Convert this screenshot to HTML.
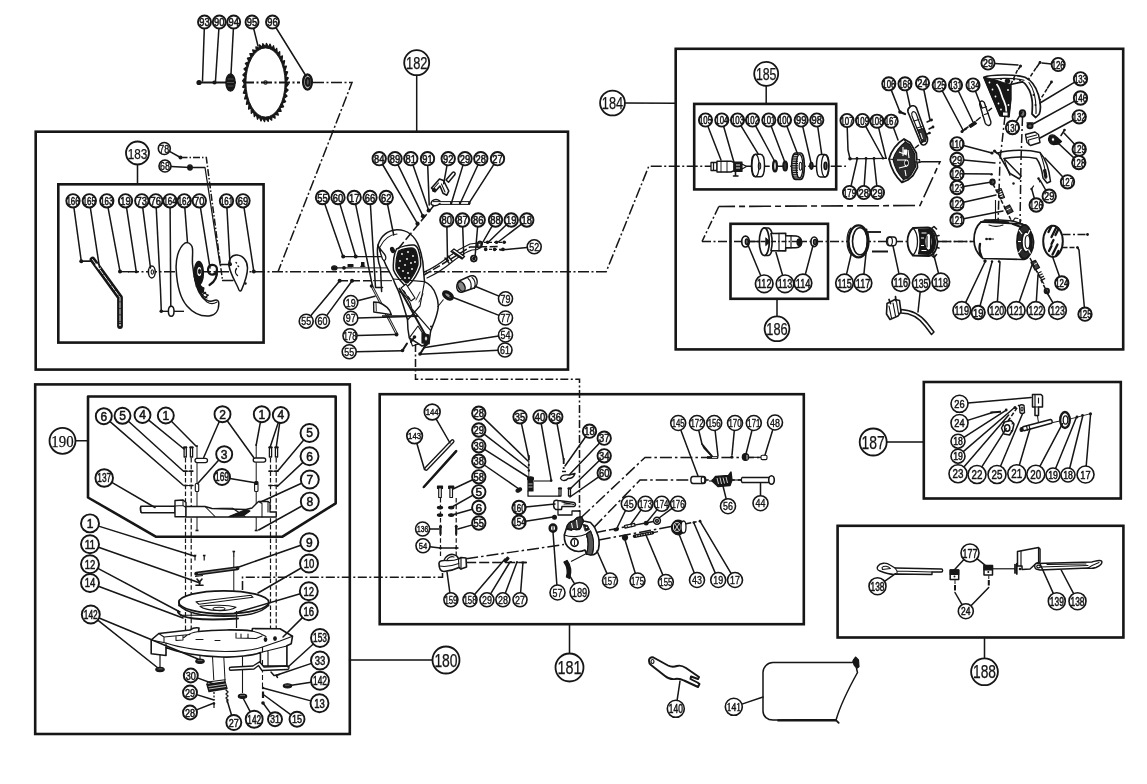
<!DOCTYPE html>
<html><head><meta charset="utf-8"><title>Exploded parts diagram</title>
<style>html,body{margin:0;padding:0;background:#fff;}body{width:1147px;height:784px;overflow:hidden;font-family:"Liberation Sans",sans-serif;}svg{display:block}</style>
</head><body>
<svg width="1147" height="784" viewBox="0 0 1147 784">
<defs><filter id="soft" x="0" y="0" width="100%" height="100%" filterUnits="userSpaceOnUse"><feGaussianBlur stdDeviation="0.45"/></filter></defs>
<rect width="100%" height="100%" fill="#fff"/>
<g filter="url(#soft)">
<rect x="35.7" y="131.7" width="532.3" height="237.90000000000003" fill="none" stroke="#141414" stroke-width="2.6"/>
<rect x="58.3" y="184.3" width="205.3" height="158.3" fill="none" stroke="#141414" stroke-width="2.6"/>
<rect x="675.7" y="48.8" width="447.5" height="300.59999999999997" fill="none" stroke="#141414" stroke-width="2.6"/>
<rect x="694.2" y="103.9" width="142.0" height="85.5" fill="none" stroke="#141414" stroke-width="2.6"/>
<rect x="730.5" y="223.8" width="97.5" height="75.0" fill="none" stroke="#141414" stroke-width="2.6"/>
<rect x="35.2" y="384.4" width="314.6" height="349.6" fill="none" stroke="#141414" stroke-width="2.6"/>
<rect x="379.7" y="394.2" width="424.09999999999997" height="230.00000000000006" fill="none" stroke="#141414" stroke-width="2.6"/>
<rect x="923.8" y="382" width="197.0" height="116.5" fill="none" stroke="#141414" stroke-width="2.6"/>
<rect x="837.6" y="525.8" width="285.80000000000007" height="111.70000000000005" fill="none" stroke="#141414" stroke-width="2.6"/>
<path d="M88.0,396.5 L335.7,396.5 L335.7,503.3 L282.1,536.8 L156.2,536.8 L88.0,497.5 Z" fill="none" stroke="#141414" stroke-width="2.5875" stroke-linejoin="round" stroke-linecap="round" />
<line x1="199.0" y1="82.5" x2="236.0" y2="82.5" stroke="#141414" stroke-width="1.8" />
<path d="M313.0,82.5 L352.0,82.5 L278.0,271.8" fill="none" stroke="#141414" stroke-width="1.5" stroke-dasharray="11 2.5 2 2.5"/>
<circle cx="199.0" cy="82.5" r="2.6" fill="#141414"/>
<circle cx="214.5" cy="82.5" r="2.1" fill="#141414"/>
<ellipse cx="230.5" cy="82.5" rx="4.6" ry="8.6" fill="#141414" stroke="#141414" stroke-width="1.265"/>
<path d="M227.500,79 h6 M227,82.500 h7 M227.500,86 h6" stroke="#777" stroke-width="0.600"/>
<path d="M285.8,82.5 L288.5,84.0 L285.6,88.1 L288.1,90.1 L284.8,93.5 L287.1,96.1 L283.6,98.7 L285.6,101.7 L281.9,103.4 L283.6,106.8 L279.9,107.7 L281.1,111.3 L277.4,111.3 L278.3,115.1 L274.7,114.2 L275.1,118.1 L271.8,116.4 L271.7,120.2 L268.7,117.7 L268.2,121.4 L265.5,118.1 L264.6,121.7 L262.3,117.7 L261.0,120.9 L259.2,116.4 L257.5,119.3 L256.3,114.2 L254.3,116.7 L253.6,111.3 L251.3,113.3 L251.1,107.7 L248.6,109.1 L249.1,103.4 L246.4,104.3 L247.4,98.7 L244.6,98.9 L246.2,93.5 L243.4,93.1 L245.4,88.1 L242.7,87.1 L245.2,82.5 L242.5,81.0 L245.4,76.9 L242.9,74.9 L246.2,71.5 L243.9,68.9 L247.4,66.3 L245.4,63.3 L249.1,61.6 L247.4,58.2 L251.1,57.3 L249.9,53.7 L253.6,53.7 L252.7,49.9 L256.3,50.8 L255.9,46.9 L259.2,48.6 L259.3,44.8 L262.3,47.3 L262.8,43.6 L265.5,46.9 L266.4,43.3 L268.7,47.3 L270.0,44.1 L271.8,48.6 L273.5,45.7 L274.7,50.8 L276.7,48.3 L277.4,53.7 L279.7,51.7 L279.9,57.3 L282.4,55.9 L281.9,61.6 L284.6,60.7 L283.6,66.3 L286.4,66.1 L284.8,71.5 L287.6,71.9 L285.6,76.9 L288.3,77.9 Z" fill="#141414" stroke="#141414" stroke-width="1.265" stroke-linejoin="round" stroke-linecap="round" />
<ellipse cx="265.5" cy="82.5" rx="19.6" ry="34.6" fill="#fff" stroke="#141414" stroke-width="0.9199999999999999"/>
<path d="M243.0,82.5 L300.0,82.5" fill="none" stroke="#141414" stroke-width="1.8" stroke-dasharray="11 2.5 2 2.5"/>
<ellipse cx="265.5" cy="82.5" rx="1.6" ry="1.8" fill="none" stroke="#141414" stroke-width="1.15"/>
<ellipse cx="307.5" cy="82.0" rx="4.4" ry="7.6" fill="#bbb" stroke="#141414" stroke-width="2.3"/>
<ellipse cx="307.8" cy="82.0" rx="2" ry="4" fill="#555" stroke="#141414" stroke-width="1.8399999999999999"/>
<path d="M128.0,271.8 L606.2,271.8 L648.8,166.2 L846.0,166.2" fill="none" stroke="#141414" stroke-width="1.5" stroke-dasharray="11 2.5 2 2.5"/>
<circle cx="81.3" cy="261.3" r="2" fill="#141414"/>
<line x1="81.3" y1="261.3" x2="92.0" y2="261.3" stroke="#141414" stroke-width="1.35" />
<path d="M92.5,259.5 L120.0,297.5 L120.0,326.0" fill="none" stroke="#141414" stroke-width="5.75" stroke-linejoin="round" stroke-linecap="round" />
<path d="M92.5,259.5 L120,297.5 L120,326" fill="none" stroke="#fff" stroke-width="0.9" stroke-linejoin="round" stroke-linecap="round" stroke-dasharray="5 1.5"/>
<ellipse cx="120.0" cy="325.0" rx="1.2" ry="1.8" fill="#fff" stroke="#141414" stroke-width="1.035"/>
<path d="M96,264 l4,5" stroke="#fff" stroke-width="2.4"/>
<circle cx="120.0" cy="271.5" r="2" fill="#141414"/>
<line x1="120.0" y1="271.7" x2="129.0" y2="271.7" stroke="#141414" stroke-width="1.4" />
<circle cx="136.3" cy="271.8" r="1.5" fill="#141414"/>
<ellipse cx="151.8" cy="272.0" rx="3.4" ry="6" fill="#fff" stroke="#141414" stroke-width="1.4949999999999999"/>
<ellipse cx="152.3" cy="272.0" rx="1.2" ry="2.2" fill="none" stroke="#141414" stroke-width="1.035"/>
<circle cx="161.3" cy="311.3" r="1.8" fill="#141414"/>
<line x1="161.3" y1="311.3" x2="184.0" y2="311.3" stroke="#141414" stroke-width="1.35" />
<ellipse cx="171.2" cy="311.2" rx="2.8" ry="5" fill="#fff" stroke="#141414" stroke-width="1.4949999999999999"/>
<path d="M185,243 C178,248 175.5,260 176.2,270 C177,285 180,298 187,306 C193,313 201,316.5 209,316 C215,315.5 219,311 218.8,303 C218.7,300.5 217,299.5 214,300.5 C210,302 206,300.5 203,297 C197,289 193.5,277 192.5,264 C192,256 193.5,250 192,246.5 C190.5,243.5 187.5,242 185,243 Z" fill="#fff" stroke="#141414" stroke-width="1.4949999999999999" stroke-linejoin="round" stroke-linecap="round" />
<path d="M196,286 C199,292 203,296.5 207,298 M198.5,284 C201,289 204,293 208,295.5 M194,276 C195.500,287 200,297 207,302 C210,304 214,304 217,302" fill="none" stroke="#141414" stroke-width="1.15" stroke-linejoin="round" stroke-linecap="round" />
<path d="M200,291 l3,-1.500 M202.500,294.500 l3,-2 M205.500,297.500 l2.500,-2.500" fill="none" stroke="#141414" stroke-width="1.4949999999999999" stroke-linejoin="round" stroke-linecap="round" />
<ellipse cx="198.8" cy="273.0" rx="4.6" ry="11.5" fill="#141414" stroke="#141414" stroke-width="1.38"/>
<ellipse cx="199.3" cy="271.5" rx="2.6" ry="5.2" fill="#fff" stroke="#141414" stroke-width="1.15"/>
<ellipse cx="199.5" cy="271.5" rx="1.1" ry="2.4" fill="#141414" stroke="#141414" stroke-width="0.9199999999999999"/>
<path d="M197,285 C198,289 200,292 203,293 L204,288 C201,287 200,285 200,283 Z" fill="#141414" stroke="#141414" stroke-width="1.15" stroke-linejoin="round" stroke-linecap="round" />
<path d="M217,269.500 C217,263.500 208.500,263 208,269.500 C207.700,276 216,276.500 217,269.500 C217.500,276.500 214.500,282 209.500,285" fill="none" stroke="#141414" stroke-width="2.1849999999999996" stroke-linejoin="round" stroke-linecap="round" />
<path d="M229,266 C228,259.5 232,254.5 237,255 C243,255.5 247.5,261 247.5,268 C247.5,275 245,282 241.5,290 C240.5,291.5 239.5,291 239,290 C236.5,283 231,276 229,266 Z" fill="#fff" stroke="#141414" stroke-width="1.4949999999999999" stroke-linejoin="round" stroke-linecap="round" />
<path d="M236.5,268.5 c-1.5,2 -1.5,5 1,7 M238,266 l0.6,0.6 M236,262.5 l0.5,0.5" fill="none" stroke="#141414" stroke-width="1.38" stroke-linejoin="round" stroke-linecap="round" />
<circle cx="230.0" cy="264.2" r="2" fill="#141414"/>
<circle cx="253.8" cy="271.6" r="2" fill="#141414"/>
<circle cx="245.5" cy="283.5" r="1.2" fill="#141414"/>
<circle cx="180.5" cy="157.5" r="2" fill="#141414"/>
<ellipse cx="190.0" cy="167.5" rx="2.2" ry="2.6" fill="#141414" stroke="#141414" stroke-width="1.38"/>
<path d="M180.5,157.5 L206.3,157.5 L222.5,280.5" fill="none" stroke="#141414" stroke-width="1.5" stroke-dasharray="7 2 1.5 2"/>
<path d="M222.5,280.5 L233.0,280.5" fill="none" stroke="#141414" stroke-width="1.265" stroke-linejoin="round" stroke-linecap="round" />
<path d="M190.0,167.5 L205.0,167.5 L220.0,264.5 L229.0,264.5" fill="none" stroke="#141414" stroke-width="1.265" stroke-linejoin="round" stroke-linecap="round" />
<circle cx="343.2" cy="256.6" r="2" fill="#141414"/>
<circle cx="355.7" cy="256.6" r="2" fill="#141414"/>
<line x1="343.0" y1="256.6" x2="381.0" y2="256.6" stroke="#141414" stroke-width="1.35" />
<ellipse cx="334.3" cy="267.9" rx="2.6" ry="2" fill="#141414" stroke="#141414" stroke-width="1.265"/>
<circle cx="344.0" cy="267.9" r="1.8" fill="#141414"/>
<line x1="334.0" y1="267.9" x2="352.0" y2="267.9" stroke="#141414" stroke-width="1.2" />
<path d="M348,264.5 h5 v2 h-5 z M361.5,262.5 h2.5 v4 h-2.5 z M360.5,266.3 h4.5" fill="#141414" stroke="#141414" stroke-width="1.035" stroke-linejoin="round" stroke-linecap="round" />
<circle cx="339.6" cy="280.7" r="2" fill="#141414"/>
<circle cx="352.0" cy="280.7" r="2" fill="#141414"/>
<path d="M339.0,280.7 L375.0,280.7" fill="none" stroke="#141414" stroke-width="1.5" stroke-dasharray="9 3"/>
<line x1="352.0" y1="267.9" x2="394.0" y2="267.9" stroke="#141414" stroke-width="1" />
<line x1="373.0" y1="280.7" x2="392.0" y2="280.7" stroke="#141414" stroke-width="1" />
<path d="M378,245 C376.5,252 378,262 380.5,268 L381.6,291.4" fill="none" stroke="#141414" stroke-width="1.4949999999999999" stroke-linejoin="round" stroke-linecap="round" />
<path d="M378,245 C381,236 388,230.5 396.8,229.8 C407,229.5 415,236 419,246.8 C422,255 423.5,265 423.6,271.8 L424.5,281.6 C430,284 434,289 436,295 C438.5,301 438.5,306 437.9,309.3 C436.5,318 433,325 430.7,330.7 L429,343 L422,346 L409.3,337.9 C408,332 407.5,326 407.5,320 C405,310 401.5,300 398.6,291.4 C396.5,287 394.5,283 393.2,279 C388,270 382,258 378,245 Z" fill="#fff" stroke="#141414" stroke-width="1.4949999999999999" stroke-linejoin="round" stroke-linecap="round" />
<path d="M380,247 C384,239 390,234.5 397,234 " fill="none" stroke="#141414" stroke-width="1.035" stroke-linejoin="round" stroke-linecap="round" />
<path d="M379.5,247.5 C381,251 384,252.5 385.5,256 C386.5,259.5 384.5,262 382.5,259 C381,255 380,251 379.5,247.5 Z" fill="#fff" stroke="#141414" stroke-width="1.265" stroke-linejoin="round" stroke-linecap="round" />
<ellipse cx="392.5" cy="250.0" rx="1.6" ry="2.6" fill="#141414" stroke="#141414" stroke-width="1.38" transform="rotate(-25 392.5 250.0)"/>
<path d="M396.500,249 C401,246.500 409,244.500 414,245 C416.500,245.500 418,248 419,252 C420.500,257 421,262 420.500,266 C418,273 413,281 408.500,285.500 C407,286.500 405.500,286 404,284.500 C399,279.500 395,274 393.500,270 C393,263 394,254 396.500,249 Z" fill="#fff" stroke="#141414" stroke-width="1.4949999999999999" stroke-linejoin="round" stroke-linecap="round" />
<path d="M398.500,251 C402,249 409,247.500 413,248 C415,248.500 416,250.500 416.800,253.500 C418,258 418.300,262 418,265 C416,271.500 411.500,278.500 408,282.500 C407,283.300 406,283 405,282 C401,278 397.500,273 396,269.500 C395.500,263.500 396.500,255.500 398.500,251 Z" fill="#141414" stroke="#141414" stroke-width="1.15" stroke-linejoin="round" stroke-linecap="round" />
<circle cx="402" cy="254" r="0.9" fill="#fff"/>
<circle cx="408" cy="252" r="0.9" fill="#fff"/>
<circle cx="413" cy="256" r="0.9" fill="#fff"/>
<circle cx="407" cy="259" r="0.9" fill="#fff"/>
<circle cx="400" cy="261" r="0.9" fill="#fff"/>
<circle cx="405" cy="265" r="0.9" fill="#fff"/>
<circle cx="411" cy="263" r="0.9" fill="#fff"/>
<circle cx="415" cy="262" r="0.9" fill="#fff"/>
<circle cx="403" cy="271" r="0.9" fill="#fff"/>
<circle cx="408" cy="273" r="0.9" fill="#fff"/>
<circle cx="399" cy="268" r="0.9" fill="#fff"/>
<circle cx="412" cy="269" r="0.9" fill="#fff"/>
<circle cx="405" cy="278" r="0.9" fill="#fff"/>
<circle cx="409" cy="278" r="0.9" fill="#fff"/>
<path d="M393.2,279 L424.5,281.6 M398.6,291.4 C404,293 410,300 412,309 M407.5,320 L420,306 L424.5,281.6 M412,309 L430.7,330.7 M409.3,337.9 L418,326 L429,343" fill="none" stroke="#141414" stroke-width="1.15" stroke-linejoin="round" stroke-linecap="round" />
<path d="M401,288 l10,13 l4,-3 l-9,-14 z" fill="#fff" stroke="#141414" stroke-width="1.15" stroke-linejoin="round" stroke-linecap="round" />
<path d="M403.5,291 l1.5,2 M408,297 l1.5,2" fill="none" stroke="#141414" stroke-width="1.8399999999999999" stroke-linejoin="round" stroke-linecap="round" />
<path d="M416,300 l4,-8 M419,302 l4,-8" fill="none" stroke="#141414" stroke-width="0.9199999999999999" stroke-linejoin="round" stroke-linecap="round" />
<line x1="399.0" y1="288.0" x2="426.0" y2="336.0" stroke="#141414" stroke-width="2" />
<path d="M422,333 l7,2 l0,9 l-7,-1 z" fill="#141414" stroke="#141414" stroke-width="1.15" stroke-linejoin="round" stroke-linecap="round" />
<ellipse cx="426.0" cy="338.5" rx="1.3" ry="2.5" fill="#fff" stroke="#141414" stroke-width="0.8049999999999999"/>
<path d="M409.5,338 l3,8 l6,-2" fill="none" stroke="#141414" stroke-width="1.15" stroke-linejoin="round" stroke-linecap="round" />
<circle cx="431.0" cy="326.5" r="1" fill="#141414"/>
<line x1="371.8" y1="286.0" x2="397.0" y2="334.3" stroke="#141414" stroke-width="2.6" />
<line x1="371.8" y1="286" x2="397" y2="334.3" stroke="#fff" stroke-width="0.8"/>
<circle cx="371.5" cy="286.0" r="1.8" fill="#141414"/>
<circle cx="396.5" cy="334.5" r="2" fill="#141414"/>
<path d="M373.6,302 L373.8,312 L391.4,314.6 C390,309 384,304.5 379,302.5 Z" fill="#fff" stroke="#141414" stroke-width="1.38" stroke-linejoin="round" stroke-linecap="round" />
<path d="M376,303 l0.3,8" fill="none" stroke="#141414" stroke-width="0.9199999999999999" stroke-linejoin="round" stroke-linecap="round" />
<line x1="382.0" y1="316.0" x2="417.5" y2="316.0" stroke="#141414" stroke-width="1.3" />
<line x1="402.5" y1="350.5" x2="407.0" y2="343.5" stroke="#141414" stroke-width="2" stroke-linecap="round"/>
<circle cx="402.5" cy="350.5" r="1.8" fill="#141414"/>
<line x1="414.5" y1="337.0" x2="411.0" y2="342.0" stroke="#141414" stroke-width="2" stroke-linecap="round"/>
<circle cx="414.5" cy="337.0" r="1.8" fill="#141414"/>
<line x1="420.0" y1="354.0" x2="424.5" y2="347.0" stroke="#141414" stroke-width="2" stroke-linecap="round"/>
<circle cx="420.0" cy="354.0" r="1.8" fill="#141414"/>
<line x1="426.0" y1="344.5" x2="424.0" y2="347.5" stroke="#141414" stroke-width="1.8" stroke-linecap="round"/>
<circle cx="426.0" cy="344.5" r="1.8" fill="#141414"/>
<path d="M415.5,344.0 L415.5,379.2 L579.5,379.2 L579.5,512.0" fill="none" stroke="#141414" stroke-width="1.5" stroke-dasharray="8 2.5 2 2.5"/>
<circle cx="417.5" cy="223.7" r="2.1" fill="#141414"/>
<circle cx="423.0" cy="216.2" r="2.1" fill="#141414"/>
<circle cx="428.7" cy="210.5" r="2.1" fill="#141414"/>
<path d="M398.0,249.0 L436.0,203.0" fill="none" stroke="#141414" stroke-width="1.5" stroke-dasharray="9 3"/>
<path d="M431.500,188 L439.500,179 L443.500,180.500 L448.800,191 L446.800,195.200 L443,193.300 L440,186 L435,191.800 Z" fill="#fff" stroke="#141414" stroke-width="1.6099999999999999" stroke-linejoin="round" stroke-linecap="round" />
<path d="M433.500,188.500 l5,-5.500 M441.500,184 l3.500,8" fill="none" stroke="#141414" stroke-width="1.035" stroke-linejoin="round" stroke-linecap="round" />
<path d="M446,180 L452.500,172.500 C454,171.300 456,173 454.800,174.800 L448.500,182.300 Z" fill="#fff" stroke="#141414" stroke-width="1.4949999999999999" stroke-linejoin="round" stroke-linecap="round" />
<ellipse cx="434.0" cy="190.0" rx="1.6" ry="1.1" fill="#141414" stroke="#141414" stroke-width="1.15" transform="rotate(-45 434.0 190.0)"/>
<path d="M431,204 c0,-4 5,-6 9,-3 M431,204 c2,2.5 6,2.5 9,-0.5" fill="none" stroke="#141414" stroke-width="1.38" stroke-linejoin="round" stroke-linecap="round" />
<line x1="433.0" y1="201.6" x2="470.0" y2="201.6" stroke="#141414" stroke-width="1" />
<line x1="438.0" y1="204.4" x2="470.0" y2="204.4" stroke="#141414" stroke-width="1" />
<circle cx="451.2" cy="203.0" r="1.2" fill="#141414"/>
<circle cx="460.0" cy="203.0" r="1.2" fill="#141414"/>
<circle cx="469.5" cy="203.0" r="1.2" fill="#141414"/>
<path d="M424,272 C434,268 442,262 449,256.5 C456,251 463,247 470,244 L478,243" fill="none" stroke="#141414" stroke-width="1.15" stroke-linejoin="round" stroke-linecap="round" />
<path d="M427,278 C437,273.5 446,267 452,262 C459,256.5 466,252 472,250 L478,249.5" fill="none" stroke="#141414" stroke-width="1.15" stroke-linejoin="round" stroke-linecap="round" />
<path d="M424.0,275.0 L450.0,259.5 L470.0,247.0 L500.0,246.5" fill="none" stroke="#141414" stroke-width="1.5" stroke-dasharray="8 2.5"/>
<path d="M445,258 l4,5 M448,256 l4,5" fill="none" stroke="#141414" stroke-width="1.4949999999999999" stroke-linejoin="round" stroke-linecap="round" />
<path d="M451,251.5 l11,7.5 l2.5,-2.5 l-10.5,-7.5 z" fill="#fff" stroke="#141414" stroke-width="1.38" stroke-linejoin="round" stroke-linecap="round" />
<path d="M453,252 l9,6" fill="none" stroke="#141414" stroke-width="1.8399999999999999" stroke-linejoin="round" stroke-linecap="round" />
<ellipse cx="473.8" cy="258.6" rx="2.9" ry="3" fill="#fff" stroke="#141414" stroke-width="1.7249999999999999"/>
<ellipse cx="473.8" cy="258.6" rx="1.1" ry="1.3" fill="#141414" stroke="#141414" stroke-width="1.15"/>
<ellipse cx="479.5" cy="244.8" rx="2.4" ry="3.4" fill="#444" stroke="#141414" stroke-width="1.6099999999999999" transform="rotate(20 479.5 244.8)"/>
<circle cx="479.500" cy="244.800" r="0.900" fill="#fff"/>
<circle cx="487.6" cy="242.3" r="1.8" fill="#141414"/>
<circle cx="496.5" cy="242.3" r="1.8" fill="#141414"/>
<circle cx="504.2" cy="242.3" r="1.8" fill="#141414"/>
<circle cx="485.7" cy="249.4" r="1.8" fill="#141414"/>
<circle cx="494.6" cy="249.4" r="1.8" fill="#141414"/>
<circle cx="502.9" cy="249.4" r="1.8" fill="#141414"/>
<path d="M484.0,242.3 L506.0,242.3" fill="none" stroke="#141414" stroke-width="1.2" stroke-dasharray="3 2"/>
<path d="M484.0,249.4 L505.0,249.4" fill="none" stroke="#141414" stroke-width="1.2" stroke-dasharray="3 2"/>
<path d="M459,281 c-2,2 -3,6 -1.5,9 c1.5,2.5 4.5,3 6.5,1.5 l10,-3.5 c3,-2 4,-6 2.5,-9.5 c-1.5,-3 -5,-3.5 -7.5,-2 z" fill="#fff" stroke="#141414" stroke-width="1.4949999999999999" stroke-linejoin="round" stroke-linecap="round" />
<ellipse cx="461.5" cy="286.5" rx="3.2" ry="5.2" fill="#888" stroke="#141414" stroke-width="1.38" transform="rotate(-25 461.5 286.5)"/>
<path d="M472,277.500 c3,2 4,7 2.5,11" fill="none" stroke="#141414" stroke-width="1.15" stroke-linejoin="round" stroke-linecap="round" />
<path d="M468,278.5 c3,2 4,7 2.5,11" fill="none" stroke="#141414" stroke-width="1.15" stroke-linejoin="round" stroke-linecap="round" />
<ellipse cx="448.0" cy="295.5" rx="5" ry="2.8" fill="#999" stroke="#141414" stroke-width="3.2199999999999998" transform="rotate(35 448.0 295.5)"/>
<line x1="437.5" y1="307.0" x2="443.5" y2="299.5" stroke="#141414" stroke-width="1.1" />
<path d="M711,162.5 h6 v8 h-6 z M713.5,162.5 v8" fill="#fff" stroke="#141414" stroke-width="1.265" stroke-linejoin="round" stroke-linecap="round" />
<path d="M717,161.2 h14 l3,1.5 v8 l-3,1.3 h-14 z" fill="#fff" stroke="#141414" stroke-width="1.38" stroke-linejoin="round" stroke-linecap="round" />
<path d="M721,161.2 v10.8 M727,161.2 v10.8" fill="none" stroke="#141414" stroke-width="0.9199999999999999" stroke-linejoin="round" stroke-linecap="round" />
<path d="M734,162 h8 v9.5 h-8 z" fill="#141414" stroke="#141414" stroke-width="1.15" stroke-linejoin="round" stroke-linecap="round" />
<path d="M742,164 l4.5,2.5 l-4.5,2.5 z" fill="#fff" stroke="#141414" stroke-width="1.15" stroke-linejoin="round" stroke-linecap="round" />
<path d="M736,165 h4 M736,168 h4" stroke="#fff" stroke-width="0.9"/>
<path d="M735.5,171.5 v4 M733.5,176 h4.5" fill="none" stroke="#141414" stroke-width="1.6099999999999999" stroke-linejoin="round" stroke-linecap="round" />
<path d="M755.5,154.2 h5 c2.6,0 4,5 4,11.3 c0,6.3 -1.4,11.3 -4,11.3 h-5 c-2.6,0 -4,-5 -4,-11.3 c0,-6.3 1.4,-11.3 4,-11.3 z" fill="#fff" stroke="#141414" stroke-width="1.4949999999999999" stroke-linejoin="round" stroke-linecap="round" />
<ellipse cx="755.5" cy="165.5" rx="3.6" ry="11.2" fill="none" stroke="#141414" stroke-width="1.265"/>
<ellipse cx="759.5" cy="166.0" rx="1.2" ry="3.2" fill="none" stroke="#141414" stroke-width="1.035"/>
<ellipse cx="775.0" cy="166.0" rx="1.9" ry="5.4" fill="#fff" stroke="#141414" stroke-width="2.3"/>
<ellipse cx="785.2" cy="166.0" rx="2" ry="4.6" fill="#333" stroke="#141414" stroke-width="1.8399999999999999"/>
<path d="M795.5,153 h5 c2.4,0 3.8,6 3.8,13.2 c0,7.2 -1.4,13.2 -3.8,13.2 h-5 c-2.4,0 -3.8,-6 -3.8,-13.2 c0,-7.2 1.4,-13.2 3.8,-13.2 z" fill="#fff" stroke="#141414" stroke-width="1.6099999999999999" stroke-linejoin="round" stroke-linecap="round" />
<line x1="793.4" y1="154.5" x2="798.0" y2="154.5" stroke="#141414" stroke-width="1.1" />
<line x1="793.2" y1="156.3" x2="798.0" y2="156.3" stroke="#141414" stroke-width="1.1" />
<line x1="792.9" y1="158.1" x2="798.0" y2="158.1" stroke="#141414" stroke-width="1.1" />
<line x1="792.7" y1="159.9" x2="798.0" y2="159.9" stroke="#141414" stroke-width="1.1" />
<line x1="792.4" y1="161.7" x2="798.0" y2="161.7" stroke="#141414" stroke-width="1.1" />
<line x1="792.2" y1="163.5" x2="798.0" y2="163.5" stroke="#141414" stroke-width="1.1" />
<line x1="791.9" y1="165.3" x2="798.0" y2="165.3" stroke="#141414" stroke-width="1.1" />
<line x1="791.9" y1="167.1" x2="798.0" y2="167.1" stroke="#141414" stroke-width="1.1" />
<line x1="792.2" y1="168.9" x2="798.0" y2="168.9" stroke="#141414" stroke-width="1.1" />
<line x1="792.4" y1="170.7" x2="798.0" y2="170.7" stroke="#141414" stroke-width="1.1" />
<line x1="792.7" y1="172.5" x2="798.0" y2="172.5" stroke="#141414" stroke-width="1.1" />
<line x1="792.9" y1="174.3" x2="798.0" y2="174.3" stroke="#141414" stroke-width="1.1" />
<line x1="793.2" y1="176.1" x2="798.0" y2="176.1" stroke="#141414" stroke-width="1.1" />
<line x1="793.4" y1="177.9" x2="798.0" y2="177.9" stroke="#141414" stroke-width="1.1" />
<ellipse cx="799.5" cy="166.2" rx="3.4" ry="11.8" fill="none" stroke="#141414" stroke-width="1.265"/>
<ellipse cx="800.5" cy="166.2" rx="1.3" ry="4" fill="none" stroke="#141414" stroke-width="1.035"/>
<ellipse cx="811.4" cy="165.8" rx="1.5" ry="3.3" fill="#333" stroke="#141414" stroke-width="1.6099999999999999"/>
<path d="M820.5,154.5 h4.5 c2.6,0 4,5 4,11.3 c0,6.3 -1.4,11.3 -4,11.3 h-4.5 c-2.6,0 -4,-5 -4,-11.3 c0,-6.3 1.4,-11.3 4,-11.3 z" fill="#fff" stroke="#141414" stroke-width="1.4949999999999999" stroke-linejoin="round" stroke-linecap="round" />
<ellipse cx="825.0" cy="165.8" rx="3.6" ry="11.1" fill="none" stroke="#141414" stroke-width="1.265"/>
<ellipse cx="825.5" cy="165.8" rx="1.4" ry="3.6" fill="#555" stroke="#141414" stroke-width="1.6099999999999999"/>
<circle cx="850.0" cy="158.8" r="1.8" fill="#141414"/>
<line x1="850.0" y1="158.8" x2="887.0" y2="158.3" stroke="#141414" stroke-width="1.2" />
<circle cx="857.0" cy="158.5" r="1.4" fill="#141414"/>
<circle cx="866.0" cy="158.5" r="1.4" fill="#141414"/>
<circle cx="874.0" cy="158.5" r="1.4" fill="#141414"/>
<circle cx="883.0" cy="158.3" r="1.3" fill="#141414"/>
<path d="M904,139 L910,142.500 L916.300,153 L917.500,167.600 L913,175.500 L907.800,180 L902,182.500 C896,177 891,168 889,159 C891,151 897,143 904,139 Z" fill="#fff" stroke="#141414" stroke-width="1.7249999999999999" stroke-linejoin="round" stroke-linecap="round" />
<path d="M905.500,142 L909.500,144.500 L914.500,153.500 L915.500,167 L911.500,174 L907,178.500 L903.500,179.500 C898.500,174.500 894.500,167 893,159.500 C895,152.500 900,146 905.500,142 Z" fill="#2a2a2a" stroke="#141414" stroke-width="1.15" stroke-linejoin="round" stroke-linecap="round" />
<path d="M899,152 l8,3 M897,160 h9 M899,168 l8,-2 M903,147 v9 M908,150 l1,8 M905,170 l1,6" stroke="#fff" stroke-width="1.100" fill="none"/>
<ellipse cx="906.500" cy="163" rx="2.200" ry="3.600" fill="#fff"/>
<ellipse cx="906.5" cy="163.0" rx="1.1" ry="2" fill="#141414" stroke="#141414" stroke-width="0.9199999999999999"/>
<rect x="903.500" y="149.500" width="3.500" height="4.500" fill="#fff"/>
<path d="M893,159.500 L889,159 M905.500,142 L904,139 M903.500,179.500 L902,182.500" fill="none" stroke="#141414" stroke-width="1.035" stroke-linejoin="round" stroke-linecap="round" />
<path d="M916.500,160 l3,-0.500 l0.500,3 l-3,0.500" fill="#fff" stroke="#141414" stroke-width="1.15" stroke-linejoin="round" stroke-linecap="round" />
<line x1="915.0" y1="162.0" x2="921.0" y2="162.0" stroke="#141414" stroke-width="1.2" />
<path d="M921.0,161.8 L940.0,161.8 L920.0,205.5 L718.8,206.5" fill="none" stroke="#141414" stroke-width="1.6" stroke-dasharray="22 4 6 4"/>
<path d="M718.8,206.5 L702.0,241.5" fill="none" stroke="#141414" stroke-width="1.5" stroke-dasharray="9 2.5 2 2.5"/>
<path d="M910,107 C912,105 915,105.5 916.5,108 L927.5,138 C928,142 926,145.5 923,145 C921,144.5 920,142 919.5,140 L908,112 C907.5,110 908.5,108 910,107 Z" fill="#fff" stroke="#141414" stroke-width="1.6099999999999999" stroke-linejoin="round" stroke-linecap="round" />
<path d="M912.5,112 C914,111 915.5,112 916.5,114.5 L923.5,134.5 C924,137.5 922.5,139.5 921,138.5 L912,116 C911.5,114 911.8,112.5 912.5,112 Z" fill="#fff" stroke="#141414" stroke-width="1.15" stroke-linejoin="round" stroke-linecap="round" />
<path d="M914,121 l5,-1.5 M917,128 l5,-1.5 M919.5,135 l4.5,-1.5" fill="none" stroke="#141414" stroke-width="1.035" stroke-linejoin="round" stroke-linecap="round" />
<path d="M918,130 l5.500,-1.500 l3,8 l-1,5 l-3.500,0.500 z" fill="#333" stroke="#141414" stroke-width="1.035" stroke-linejoin="round" stroke-linecap="round" />
<path d="M920.500,133 l2,6" stroke="#fff" stroke-width="1"/>
<line x1="900.0" y1="112.0" x2="905.0" y2="114.0" stroke="#141414" stroke-width="2.2" stroke-linecap="round"/>
<circle cx="900.0" cy="112.0" r="1.8" fill="#141414"/>
<line x1="931.5" y1="120.0" x2="927.0" y2="122.0" stroke="#141414" stroke-width="1.5" stroke-linecap="round"/>
<circle cx="931.5" cy="120.0" r="1.4" fill="#141414"/>
<line x1="933.0" y1="127.0" x2="929.0" y2="129.0" stroke="#141414" stroke-width="1.5" stroke-linecap="round"/>
<circle cx="933.0" cy="127.0" r="1.4" fill="#141414"/>
<line x1="929.5" y1="133.0" x2="926.0" y2="134.5" stroke="#141414" stroke-width="1.4" stroke-linecap="round"/>
<circle cx="929.5" cy="133.0" r="1.3" fill="#141414"/>
<path d="M915.0,148.0 L926.0,139.0" fill="none" stroke="#141414" stroke-width="1.5" stroke-dasharray="5 2"/>
<line x1="962.0" y1="131.5" x2="968.0" y2="127.0" stroke="#141414" stroke-width="1.6" stroke-linecap="round"/>
<circle cx="962.0" cy="131.5" r="1.5" fill="#141414"/>
<circle cx="965.5" cy="129.0" r="1.2" fill="#141414"/>
<path d="M969,125.5 l6,-4 l1.5,2 l-6,4 z" fill="#141414" stroke="#141414" stroke-width="1.15" stroke-linejoin="round" stroke-linecap="round" />
<path d="M976.0,121.0 L992.0,108.0" fill="none" stroke="#141414" stroke-width="1.5" stroke-dasharray="6 2"/>
<path d="M980.5,101.5 c1.2,-1 3,-0.5 3.8,1 l6.5,19 c0.5,2 -0.5,3.8 -2,4 c-1.8,0.2 -3,-1 -3.6,-2.5 l-5.5,-18.5 c-0.3,-1.2 0,-2.300 0.8,-3 z" fill="#fff" stroke="#141414" stroke-width="1.38" stroke-linejoin="round" stroke-linecap="round" />
<path d="M982.5,108 l4,-1.300 M984.500,114.500 l4,-1.300" fill="none" stroke="#141414" stroke-width="1.035" stroke-linejoin="round" stroke-linecap="round" />
<path d="M983.9,77.3 C990,74.5 1015,74 1025,77.3 C1031,80 1036,87 1038.5,95 C1040.5,102 1040.8,110 1039.3,114 L1035.7,117.5 L1032,114 C1032.5,108 1032.5,103 1032,99.6 C1031,94 1029.5,90 1028,88 C1026,84.5 1024,82.5 1022.3,81.8 L1010.7,84.5 L1010.7,99.6 L1008.9,116.6 L1000,115.7 Z" fill="#fff" stroke="#141414" stroke-width="1.7249999999999999" stroke-linejoin="round" stroke-linecap="round" />
<path d="M983.9,77.3 L1000,115.7 L1008.9,116.6 L1010.7,99.6 L1010.7,84.5 L1003,82.500 L994,79.500 Z" fill="#141414" stroke="#141414" stroke-width="1.15" stroke-linejoin="round" stroke-linecap="round" />
<path d="M996.500,84 C1001,89 1001,96 1004,101 C1006,105 1006.500,109 1006.500,113" fill="none" stroke="#fff" stroke-width="1.700"/>
<path d="M986.500,80.300 C993,77.800 1015,77.500 1024,80.300 M1029,82.500 C1034,89 1036.500,99 1036,113.500" fill="none" stroke="#141414" stroke-width="1.15" stroke-linejoin="round" stroke-linecap="round" />
<path d="M1003,116 h5 v-4 h-5" fill="#fff" stroke="#141414" stroke-width="0.9199999999999999" stroke-linejoin="round" stroke-linecap="round" />
<circle cx="989.5" cy="82.5" r="0.9" fill="#fff"/>
<circle cx="992.5" cy="89.5" r="0.9" fill="#fff"/>
<circle cx="995.5" cy="96.5" r="0.9" fill="#fff"/>
<circle cx="998.5" cy="103.5" r="0.9" fill="#fff"/>
<circle cx="1001" cy="109.5" r="0.9" fill="#fff"/>
<circle cx="1008" cy="90" r="0.9" fill="#fff"/>
<circle cx="1008.5" cy="105" r="0.9" fill="#fff"/>
<circle cx="1001.0" cy="79.0" r="1" fill="#141414"/>
<circle cx="1014.0" cy="79.5" r="1" fill="#141414"/>
<circle cx="1020.0" cy="80.5" r="1" fill="#141414"/>
<circle cx="1033.5" cy="95.0" r="1" fill="#141414"/>
<circle cx="1035.5" cy="105.0" r="1" fill="#141414"/>
<ellipse cx="1007.5" cy="81.0" rx="2.2" ry="1.8" fill="#141414" stroke="#141414" stroke-width="1.15"/>
<line x1="1020.5" y1="66.0" x2="1018.5" y2="69.0" stroke="#141414" stroke-width="1.6" stroke-linecap="round"/>
<circle cx="1020.5" cy="66.0" r="1.5" fill="#141414"/>
<line x1="1040.0" y1="62.5" x2="1036.5" y2="67.5" stroke="#141414" stroke-width="1.5" stroke-linecap="round"/>
<circle cx="1040.0" cy="62.5" r="1.4" fill="#141414"/>
<line x1="1051.5" y1="82.0" x2="1047.5" y2="88.0" stroke="#141414" stroke-width="1.5" stroke-linecap="round"/>
<circle cx="1051.5" cy="82.0" r="1.4" fill="#141414"/>
<path d="M1017.5,70.0 L1011.0,84.0" fill="none" stroke="#141414" stroke-width="1.5" stroke-dasharray="4 2"/>
<path d="M1036.0,68.0 L1028.0,80.0" fill="none" stroke="#141414" stroke-width="1.5" stroke-dasharray="4 2"/>
<path d="M1047.0,89.0 L1040.0,100.0" fill="none" stroke="#141414" stroke-width="1.5" stroke-dasharray="4 2"/>
<ellipse cx="1022.5" cy="113.5" rx="2.8" ry="3.4" fill="#777" stroke="#141414" stroke-width="1.8399999999999999"/>
<ellipse cx="1030.0" cy="126.0" rx="2.6" ry="2.4" fill="#555" stroke="#141414" stroke-width="1.8399999999999999"/>
<path d="M1027,123 h6" fill="none" stroke="#141414" stroke-width="1.38" stroke-linejoin="round" stroke-linecap="round" />
<path d="M1025.500,134.500 l9.500,-2.500 l3.500,2.500 l1.500,8 l-9.500,3 l-3.500,-3 z" fill="#fff" stroke="#141414" stroke-width="1.38" stroke-linejoin="round" stroke-linecap="round" />
<path d="M1027,137.500 l9.500,-2.600 M1029,145 l-0.5,-5 l9,-2.500" fill="none" stroke="#141414" stroke-width="1.035" stroke-linejoin="round" stroke-linecap="round" />
<path d="M1049.5,136 c2,-1.500 5,-1 7,1 l5,4.500 l-3,2.500 l-5.500,0.500 c-2.500,-0.500 -4.500,-3 -4.500,-5.500 z" fill="#141414" stroke="#141414" stroke-width="1.265" stroke-linejoin="round" stroke-linecap="round" />
<ellipse cx="1053.0" cy="139.5" rx="1.5" ry="2" fill="#fff" stroke="#141414" stroke-width="0.9199999999999999"/>
<line x1="1064.5" y1="130.0" x2="1061.0" y2="135.5" stroke="#141414" stroke-width="1.5" stroke-linecap="round"/>
<circle cx="1064.5" cy="130.0" r="1.3" fill="#141414"/>
<path d="M998,153 C1010,149.500 1028,149.500 1040,152.500 C1045,158 1049,168 1050.5,181.500 L1047,183 L1043,178 C1042,170 1040,163 1036.500,158.500 C1028,156.500 1014,156.500 1004,158.500 L1021,176 L1019.500,179 L1010,173.500 Z" fill="#fff" stroke="#141414" stroke-width="1.4949999999999999" stroke-linejoin="round" stroke-linecap="round" />
<path d="M1004,158.500 C1006,165 1008,171 1010,175.500 M1040,152.500 C1043,160 1045.500,170 1046,179" fill="none" stroke="#141414" stroke-width="1.035" stroke-linejoin="round" stroke-linecap="round" />
<path d="M1043.500,170 l1.500,8 l2,-1 l-1.300,-7.500 z" fill="#141414" stroke="#141414" stroke-width="1.035" stroke-linejoin="round" stroke-linecap="round" />
<circle cx="992.0" cy="153.0" r="1.6" fill="#141414"/>
<line x1="994.5" y1="151.0" x2="997.5" y2="153.5" stroke="#141414" stroke-width="1.8" stroke-linecap="round"/>
<circle cx="994.5" cy="151.0" r="1.5" fill="#141414"/>
<circle cx="991.5" cy="174.2" r="1.3" fill="#141414"/>
<circle cx="1013.5" cy="183.5" r="1.2" fill="#141414"/>
<line x1="1038.5" y1="178.5" x2="1040.0" y2="182.0" stroke="#141414" stroke-width="1.3" stroke-linecap="round"/>
<circle cx="1038.5" cy="178.5" r="1.2" fill="#141414"/>
<line x1="1031.5" y1="189.0" x2="1033.5" y2="186.0" stroke="#141414" stroke-width="1.3" stroke-linecap="round"/>
<circle cx="1031.5" cy="189.0" r="1.2" fill="#141414"/>
<ellipse cx="992.5" cy="182.0" rx="2.3" ry="2.5" fill="#666" stroke="#141414" stroke-width="1.8399999999999999"/>
<path d="M997,190 l4,-1.500 l3.500,9 l-4,1.500 z" fill="#fff" stroke="#141414" stroke-width="1.15" stroke-linejoin="round" stroke-linecap="round" />
<line x1="997.5" y1="191.5" x2="1001.5" y2="190.0" stroke="#141414" stroke-width="1.1" />
<line x1="998.4" y1="193.7" x2="1002.4" y2="192.2" stroke="#141414" stroke-width="1.1" />
<line x1="999.3" y1="195.9" x2="1003.3" y2="194.4" stroke="#141414" stroke-width="1.1" />
<line x1="1000.2" y1="198.1" x2="1004.2" y2="196.6" stroke="#141414" stroke-width="1.1" />
<path d="M1004.500,207.500 l5,-2.500 l3.500,6.500 l-5,2.500 z" fill="#444" stroke="#141414" stroke-width="1.38" stroke-linejoin="round" stroke-linecap="round" />
<path d="M1006.500,210 l4,-2" stroke="#fff" stroke-width="0.900"/>
<path d="M993.0,184.0 L1012.0,222.0" fill="none" stroke="#141414" stroke-width="1.5" stroke-dasharray="4 2"/>
<path d="M1005.0,116.0 L1000.0,160.0 L998.0,224.0" fill="none" stroke="#141414" stroke-width="1.5" stroke-dasharray="9 3 2 3"/>
<path d="M1022.5,117.0 L1021.0,160.0 L1020.0,224.0" fill="none" stroke="#141414" stroke-width="1.5" stroke-dasharray="9 3 2 3"/>
<line x1="995.5" y1="200.0" x2="995.5" y2="221.0" stroke="#141414" stroke-width="1.1" />
<path d="M702.0,241.5 L975.0,241.5" fill="none" stroke="#141414" stroke-width="1.5" stroke-dasharray="9 2.5 2 2.5"/>
<ellipse cx="745.5" cy="241.6" rx="3.8" ry="5.4" fill="#fff" stroke="#141414" stroke-width="1.7249999999999999"/>
<ellipse cx="746.8" cy="241.8" rx="1.5" ry="2.8" fill="#666" stroke="#141414" stroke-width="1.38"/>
<path d="M764.300,227.900 h3.800 c2.800,0 5,6.200 5,13.800 c0,7.600 -2.200,13.800 -5,13.800 h-3.800" fill="#fff" stroke="#141414" stroke-width="1.4949999999999999" stroke-linejoin="round" stroke-linecap="round" />
<ellipse cx="764.3" cy="241.7" rx="5" ry="13.8" fill="#fff" stroke="#141414" stroke-width="1.7249999999999999"/>
<path d="M771,233.500 L785.700,233.300 L785.700,235.600 L796,236 C799.500,236.500 801.500,239 801.500,242 C801.500,245 799.500,247.500 796,247.800 L785.700,247.900 L785.700,250.900 L771,250.700 C772.500,245 772.500,239 771,233.500 Z" fill="#fff" stroke="#141414" stroke-width="1.6099999999999999" stroke-linejoin="round" stroke-linecap="round" />
<path d="M779,233.400 v17.400 M785.700,235.600 v12.300 M791,235.800 v12" fill="none" stroke="#141414" stroke-width="1.15" stroke-linejoin="round" stroke-linecap="round" />
<ellipse cx="799.4" cy="242.2" rx="2.4" ry="3.3" fill="#141414" stroke="#141414" stroke-width="1.15"/>
<path d="M766,238 l4,3.700 l-4,3.700 z" fill="#141414" stroke="#141414" stroke-width="0.9199999999999999" stroke-linejoin="round" stroke-linecap="round" />
<path d="M750.0,241.5 L800.0,241.5" fill="none" stroke="#141414" stroke-width="1.5" stroke-dasharray="5 2 1.5 2"/>
<ellipse cx="814.2" cy="241.8" rx="3.3" ry="4.8" fill="#fff" stroke="#141414" stroke-width="1.7249999999999999"/>
<ellipse cx="815.0" cy="242.0" rx="1.5" ry="2.6" fill="#555" stroke="#141414" stroke-width="1.38"/>
<ellipse cx="858.5" cy="241.3" rx="10" ry="16" fill="#fff" stroke="#141414" stroke-width="2.3"/>
<ellipse cx="860.0" cy="241.3" rx="7.5" ry="13.5" fill="none" stroke="#141414" stroke-width="1.6099999999999999"/>
<path d="M851,228 c-3,3 -4,8 -4,13 c0,6 1.500,11 4.500,14" fill="none" stroke="#141414" stroke-width="1.15" stroke-linejoin="round" stroke-linecap="round" />
<line x1="867.0" y1="232.0" x2="881.0" y2="232.0" stroke="#141414" stroke-width="1.8" />
<path d="M866.5,229.500 v5" fill="none" stroke="#141414" stroke-width="1.8399999999999999" stroke-linejoin="round" stroke-linecap="round" />
<line x1="872.0" y1="251.5" x2="888.0" y2="251.5" stroke="#141414" stroke-width="2" />
<path d="M889.500,237 h4 c2,0 3,2 3,4.300 c0,2.400 -1,4.400 -3,4.400 h-4 c-2,0 -3,-2 -3,-4.400 c0,-2.300 1,-4.300 3,-4.300 z" fill="#fff" stroke="#141414" stroke-width="1.38" stroke-linejoin="round" stroke-linecap="round" />
<ellipse cx="890.0" cy="241.3" rx="2.4" ry="4.2" fill="none" stroke="#141414" stroke-width="1.15"/>
<path d="M913,228 L928,227.500 C933,228 937,234 937.500,242 C937.500,249 934,255 929,256 L913,255.500 C909.500,252 907.500,247 907.500,241.500 C907.500,236 909.500,231 913,228 Z" fill="#fff" stroke="#141414" stroke-width="1.8399999999999999" stroke-linejoin="round" stroke-linecap="round" />
<path d="M913,228 C916,231 917.500,236 917.500,241.500 C917.500,247 916,252 913,255.500" fill="none" stroke="#141414" stroke-width="1.265" stroke-linejoin="round" stroke-linecap="round" />
<path d="M918.500,229.500 L929,229 C933,231 935.500,236 935.500,242 C935.500,248 933,253 929,254.500 L918.500,254 C919.500,250 920,246 920,241.500 C920,237 919.500,233 918.500,229.500 Z" fill="#141414" stroke="#141414" stroke-width="1.15" stroke-linejoin="round" stroke-linecap="round" />
<ellipse cx="928.5" cy="241.8" rx="3.6" ry="8.5" fill="#fff" stroke="#141414" stroke-width="1.15"/>
<path d="M927,236 v11 M930.500,235 v13" fill="none" stroke="#141414" stroke-width="1.15" stroke-linejoin="round" stroke-linecap="round" />
<path d="M921.500,233 h5 M921.500,250.500 h5 M921,238 h3 M921,245.500 h3" stroke="#fff" stroke-width="1.100"/>
<path d="M931,229 l3,-2.500 l2.500,2.500 M931,255 l3,2.500 l2.500,-3 M936.500,236 l2.500,-0.500 M936.500,247.500 l2.500,0.500" fill="none" stroke="#141414" stroke-width="1.6099999999999999" stroke-linejoin="round" stroke-linecap="round" />
<path d="M938.0,241.5 L975.0,241.5" fill="none" stroke="#141414" stroke-width="1.5" stroke-dasharray="9 2.5 2 2.5"/>
<path d="M981,222 L1022,224 C1028,226 1033,233 1033.500,241 C1034,249 1030,257 1024,259.500 L983,258.500 C977.500,254 974,247 974,240 C974,232 977,225.500 981,222 Z" fill="#fff" stroke="#141414" stroke-width="1.7249999999999999" stroke-linejoin="round" stroke-linecap="round" />
<path d="M981,222 C985,220.500 992,219.500 1000,220 L1013,221 L1022,224" fill="none" stroke="#141414" stroke-width="1.4949999999999999" stroke-linejoin="round" stroke-linecap="round" />
<ellipse cx="1024.5" cy="241.8" rx="7.5" ry="17" fill="#2a2a2a" stroke="#141414" stroke-width="1.8399999999999999"/>
<ellipse cx="1026.2" cy="242.0" rx="4.2" ry="10" fill="#fff" stroke="#141414" stroke-width="1.4949999999999999"/>
<ellipse cx="1027.5" cy="242.0" rx="2.4" ry="6.5" fill="#fff" stroke="#141414" stroke-width="1.15"/>
<path d="M1019,230 l3,4 M1018.500,253 l3,-4 M1030,230 l-2,4 M1030.500,253.500 l-2,-4 M1018,241.500 h3" stroke="#fff" stroke-width="1.200"/>
<path d="M989,222.500 h14 M989,225 c4,1.500 10,1.500 14,0" fill="none" stroke="#141414" stroke-width="1.15" stroke-linejoin="round" stroke-linecap="round" />
<path d="M985,220.500 L1008,222.500" fill="none" stroke="#141414" stroke-width="2.53" stroke-linejoin="round" stroke-linecap="round" />
<path d="M1013,224 l8,3" fill="none" stroke="#141414" stroke-width="2.3" stroke-linejoin="round" stroke-linecap="round" />
<path d="M980,244 c-1,5 -0.500,9 1.500,12.500" fill="none" stroke="#141414" stroke-width="2.3" stroke-linejoin="round" stroke-linecap="round" />
<circle cx="986.5" cy="239.0" r="1.3" fill="#141414"/>
<circle cx="990.0" cy="239.0" r="1.3" fill="#141414"/>
<line x1="986.0" y1="239.0" x2="994.0" y2="239.0" stroke="#141414" stroke-width="1" />
<circle cx="985.0" cy="261.0" r="1.7" fill="#141414"/>
<circle cx="992.0" cy="261.5" r="1.2" fill="#141414"/>
<circle cx="999.0" cy="261.5" r="1.2" fill="#141414"/>
<path d="M1013,221 l2,-3 l3,0.500 M1020,223 l1,-3" fill="none" stroke="#141414" stroke-width="1.15" stroke-linejoin="round" stroke-linecap="round" />
<ellipse cx="1053.0" cy="241.3" rx="9.8" ry="15.6" fill="#fff" stroke="#141414" stroke-width="1.9549999999999998"/>
<path d="M1048.500,232 l3,-6 M1051.500,237 l4.500,-9 M1055.500,235 l3,-6 M1049,251 l2.500,-5 M1052.500,254.500 l5,-10 M1056,256 l2.500,-5 M1051.500,244 l2,-4" fill="none" stroke="#141414" stroke-width="2.3" stroke-linejoin="round" stroke-linecap="round" />
<path d="M1062.5,234.5 L1087.0,234.5" fill="none" stroke="#141414" stroke-width="1.5" stroke-dasharray="8 2.5 2 2.5"/>
<circle cx="1087.5" cy="234.5" r="1.4" fill="#141414"/>
<path d="M1062.5,247.5 L1077.5,247.5" fill="none" stroke="#141414" stroke-width="1.5" stroke-dasharray="5 2"/>
<circle cx="1077.5" cy="247.5" r="1.3" fill="#141414"/>
<path d="M1031,262.500 l4.500,-2 l4,7 l-4.500,2.500 z" fill="#444" stroke="#141414" stroke-width="1.38" stroke-linejoin="round" stroke-linecap="round" />
<path d="M1033,265 l4,-2" stroke="#fff" stroke-width="0.900"/>
<line x1="1037.5" y1="273.5" x2="1041.5" y2="271.5" stroke="#141414" stroke-width="1.2" />
<line x1="1038.7" y1="275.8" x2="1042.7" y2="273.8" stroke="#141414" stroke-width="1.2" />
<line x1="1039.9" y1="278.1" x2="1043.9" y2="276.1" stroke="#141414" stroke-width="1.2" />
<line x1="1041.1" y1="280.4" x2="1045.1" y2="278.4" stroke="#141414" stroke-width="1.2" />
<line x1="1037.0" y1="271.0" x2="1044.0" y2="284.0" stroke="#141414" stroke-width="1" />
<ellipse cx="1046.8" cy="291.0" rx="2.2" ry="2.3" fill="#666" stroke="#141414" stroke-width="1.8399999999999999"/>
<path d="M1030.0,258.0 L1049.0,296.0" fill="none" stroke="#141414" stroke-width="1.5" stroke-dasharray="4 2"/>
<path d="M887,303.500 l8,-4 l4.500,1 l1.500,11.500 l-3,4 l-8,3.500 l-3.500,-5.500 z" fill="#fff" stroke="#141414" stroke-width="1.6099999999999999" stroke-linejoin="round" stroke-linecap="round" />
<path d="M889,306 l2.500,12 M893,303 l2.500,13 M896.500,301.500 l2,12" fill="none" stroke="#141414" stroke-width="1.15" stroke-linejoin="round" stroke-linecap="round" />
<path d="M896,301 l-0.500,-4.500 M890.500,303.500 l-1.500,-4" fill="none" stroke="#141414" stroke-width="1.7249999999999999" stroke-linejoin="round" stroke-linecap="round" />
<path d="M901,313 C912,313 919,318 925,326 L931.500,334.500 L934,332 L927.500,323.500 C921,315 912,310 901,309.500 Z" fill="#fff" stroke="#141414" stroke-width="1.4949999999999999" stroke-linejoin="round" stroke-linecap="round" />
<path d="M185.5,458.0 L185.5,632.0" fill="none" stroke="#141414" stroke-width="1.2" stroke-dasharray="4.5 2.2"/>
<path d="M191.2,458.0 L191.2,632.0" fill="none" stroke="#141414" stroke-width="1.2" stroke-dasharray="4.5 2.2"/>
<path d="M270.5,458.0 L270.5,632.0" fill="none" stroke="#141414" stroke-width="1.2" stroke-dasharray="4.5 2.2"/>
<path d="M276.2,458.0 L276.2,632.0" fill="none" stroke="#141414" stroke-width="1.2" stroke-dasharray="4.5 2.2"/>
<line x1="197.0" y1="446.0" x2="197.0" y2="530.0" stroke="#141414" stroke-width="1" />
<line x1="256.2" y1="445.0" x2="256.2" y2="530.0" stroke="#141414" stroke-width="1" />
<line x1="195.5" y1="530.5" x2="198.5" y2="530.5" stroke="#141414" stroke-width="1.6" />
<line x1="254.7" y1="530.5" x2="257.7" y2="530.5" stroke="#141414" stroke-width="1.6" />
<circle cx="197.0" cy="446.0" r="0.9" fill="#141414"/>
<circle cx="256.2" cy="445.0" r="0.9" fill="#141414"/>
<path d="M183.6,447.500 h3.2 M184.1,448.500 v8.500 h2.2 v-8.500" fill="#fff" stroke="#141414" stroke-width="1.265" stroke-linejoin="round" stroke-linecap="round" />
<line x1="183.4" y1="447.3" x2="187.0" y2="447.3" stroke="#141414" stroke-width="1.8" />
<path d="M189.9,447.500 h3.2 M190.4,448.500 v8.500 h2.2 v-8.500" fill="#fff" stroke="#141414" stroke-width="1.265" stroke-linejoin="round" stroke-linecap="round" />
<line x1="189.7" y1="447.3" x2="193.3" y2="447.3" stroke="#141414" stroke-width="1.8" />
<path d="M268.9,447.500 h3.2 M269.4,448.500 v8.500 h2.2 v-8.500" fill="#fff" stroke="#141414" stroke-width="1.265" stroke-linejoin="round" stroke-linecap="round" />
<line x1="268.7" y1="447.3" x2="272.3" y2="447.3" stroke="#141414" stroke-width="1.8" />
<path d="M274.9,447.500 h3.2 M275.4,448.500 v8.500 h2.2 v-8.500" fill="#fff" stroke="#141414" stroke-width="1.265" stroke-linejoin="round" stroke-linecap="round" />
<line x1="274.7" y1="447.3" x2="278.3" y2="447.3" stroke="#141414" stroke-width="1.8" />
<line x1="183.5" y1="471.2" x2="187.5" y2="471.2" stroke="#141414" stroke-width="1.6" />
<line x1="183.5" y1="485.5" x2="187.5" y2="485.5" stroke="#141414" stroke-width="1.6" />
<line x1="189.2" y1="471.2" x2="193.2" y2="471.2" stroke="#141414" stroke-width="1.6" />
<line x1="189.2" y1="485.5" x2="193.2" y2="485.5" stroke="#141414" stroke-width="1.6" />
<line x1="268.5" y1="471.2" x2="272.5" y2="471.2" stroke="#141414" stroke-width="1.6" />
<line x1="268.5" y1="485.5" x2="272.5" y2="485.5" stroke="#141414" stroke-width="1.6" />
<line x1="274.2" y1="471.2" x2="278.2" y2="471.2" stroke="#141414" stroke-width="1.6" />
<line x1="274.2" y1="485.5" x2="278.2" y2="485.5" stroke="#141414" stroke-width="1.6" />
<line x1="183.5" y1="471.2" x2="193.5" y2="471.2" stroke="#141414" stroke-width="1" />
<line x1="268.5" y1="471.2" x2="278.5" y2="471.2" stroke="#141414" stroke-width="1" />
<line x1="183.5" y1="485.5" x2="193.5" y2="485.5" stroke="#141414" stroke-width="1" />
<line x1="268.5" y1="485.5" x2="278.5" y2="485.5" stroke="#141414" stroke-width="1" />
<rect x="195" y="458.400" width="12.5" height="4.200" rx="2.1" fill="#fff" stroke="#141414" stroke-width="1.3"/>
<rect x="253.200" y="458" width="12.5" height="4.200" rx="2.1" fill="#fff" stroke="#141414" stroke-width="1.3"/>
<rect x="195.300" y="483.500" width="3.400" height="8" rx="1" fill="#fff" stroke="#141414" stroke-width="1.1"/>
<rect x="254.600" y="481.500" width="3.400" height="10" rx="1" fill="#fff" stroke="#141414" stroke-width="1.1"/>
<rect x="254.600" y="481.500" width="3.400" height="3.500" rx="1" fill="#141414"/>
<path d="M140.8,506.2 H175 V512.8 H141.500 C140.200,511 140.200,508 140.8,506.2 Z" fill="#fff" stroke="#141414" stroke-width="1.38" stroke-linejoin="round" stroke-linecap="round" />
<path d="M175,500.500 L183,500 L186,502.500 V516.800 H175 Z" fill="#fff" stroke="#141414" stroke-width="1.38" stroke-linejoin="round" stroke-linecap="round" />
<path d="M175,506 L183,505.500 L186,507.500 M183,500 V505.500" fill="none" stroke="#141414" stroke-width="1.035" stroke-linejoin="round" stroke-linecap="round" />
<path d="M186,506.500 H205 L212,508.500 L246,509.500 L252,508 L258.5,501.500 H268 L270,503 V512 H276.2 V517 H186 Z" fill="#fff" stroke="#141414" stroke-width="1.38" stroke-linejoin="round" stroke-linecap="round" />
<path d="M205,506.500 L215,516.500 M212,508.500 L232,508 L245,516.500 M232,508 L240,513 M268,501.500 V512 M258.5,501.500 L262,503.500 V517" fill="none" stroke="#141414" stroke-width="1.035" stroke-linejoin="round" stroke-linecap="round" />
<path d="M229,516.500 L243,516 L250,511 L246,509.500 Z" fill="#141414" stroke="#141414" stroke-width="1.035" stroke-linejoin="round" stroke-linecap="round" />
<line x1="140.8" y1="506.2" x2="140.8" y2="512.8" stroke="#141414" stroke-width="1.2" />
<line x1="193.7" y1="555.5" x2="196.3" y2="555.5" stroke="#141414" stroke-width="1.6" />
<line x1="195.0" y1="555.5" x2="195.0" y2="560.5" stroke="#141414" stroke-width="1.2" />
<line x1="202.9" y1="555.5" x2="205.5" y2="555.5" stroke="#141414" stroke-width="1.6" />
<line x1="204.2" y1="555.5" x2="204.2" y2="560.5" stroke="#141414" stroke-width="1.2" />
<line x1="232.5" y1="551.5" x2="235.1" y2="551.5" stroke="#141414" stroke-width="1.6" />
<line x1="233.8" y1="551.5" x2="233.8" y2="556.5" stroke="#141414" stroke-width="1.2" />
<line x1="233.8" y1="556.0" x2="233.8" y2="592.5" stroke="#141414" stroke-width="1" />
<path d="M196.2,573.8 L237.5,568.2" fill="none" stroke="#141414" stroke-width="3.9099999999999997" stroke-linejoin="round" stroke-linecap="round" />
<path d="M198,573.600 L236,568.400" stroke="#fff" stroke-width="0.500"/>
<line x1="195.0" y1="576.5" x2="203.0" y2="575.5" stroke="#141414" stroke-width="1.2" />
<path d="M197,579 l2.500,3 l2.500,-3 M199.500,582 v3 M196,585.300 h7" fill="none" stroke="#141414" stroke-width="1.6099999999999999" stroke-linejoin="round" stroke-linecap="round" />
<path d="M242.5,590.0 L242.5,577.3 L442.5,577.3 L442.5,571.0" fill="none" stroke="#141414" stroke-width="1.5" stroke-dasharray="9 2.5 2 2.5"/>
<g transform="translate(0,1.800)">
<ellipse cx="223.8" cy="600.5" rx="45" ry="11.5" fill="#fff" stroke="#141414" stroke-width="1.7249999999999999"/>
<path d="M179,603.500 C186,611 203,614.500 224,614.500 C245,614.500 262,611 268.600,603.500" fill="none" stroke="#141414" stroke-width="1.38" stroke-linejoin="round" stroke-linecap="round" />
<path d="M179,600.500 v3.500 M268.600,600.500 v3.500" fill="none" stroke="#141414" stroke-width="1.38" stroke-linejoin="round" stroke-linecap="round" />
<path d="M196,600 L251,593.500 L253,595.500 L199,602.500 Z" fill="#fff" stroke="#141414" stroke-width="1.15" stroke-linejoin="round" stroke-linecap="round" />
<path d="M200,604.500 C206,609.500 228,610.500 236,605.500 C228,603 210,603 200,604.500 Z" fill="#fff" stroke="#141414" stroke-width="1.15" stroke-linejoin="round" stroke-linecap="round" />
<ellipse cx="219.0" cy="607.0" rx="6" ry="1.5" fill="none" stroke="#141414" stroke-width="1.035"/>
</g>
<path d="M177.800,611 C178,618 200,621.500 238,618.500" fill="none" stroke="#141414" stroke-width="1.9549999999999998" stroke-linejoin="round" stroke-linecap="round" />
<line x1="180.0" y1="615.3" x2="237.5" y2="615.3" stroke="#141414" stroke-width="1.1" />
<line x1="236.5" y1="611.0" x2="236.5" y2="628.0" stroke="#141414" stroke-width="1.2" />
<path d="M151.2,640 L158.8,633.500 L190,630 C192,628.500 196,627.500 199,628 L198.500,631.500 C215,629.500 240,629.500 252,631 L252.500,628.500 L280,628.800 L292.5,636.2 L291.2,643.800 L286.900,645.700 L286.900,666 L260.400,666 L260.400,652.500 C254,655.500 235,657.500 222,657 C200,656.500 178,652.500 166,647.5 V655.500 L151.200,653.800 Z" fill="#fff" stroke="#141414" stroke-width="1.6099999999999999" stroke-linejoin="round" stroke-linecap="round" />
<path d="M260.400,652.500 L286.900,646 M268,651 v15" fill="none" stroke="#141414" stroke-width="1.15" stroke-linejoin="round" stroke-linecap="round" />
<path d="M151.2,640 L166,643 V647.5 M166,643 C180,648 205,651.500 225,651.500 C240,651.500 254,650 262.500,647 L280,641 L292.5,636.2 M262.500,647 V652" fill="none" stroke="#141414" stroke-width="1.15" stroke-linejoin="round" stroke-linecap="round" />
<path d="M158.8,633.500 L164,637 L190,634.500 M164,637 V642.500 M176,636 V640.500 L183,640 V635.300 M199,631.500 C193,632 188,634 184,637.500 M252,631 C258,632 262,634 266,636.500 M236,633 V638 L256,638.500 L262,636 M241,634 v4 M248,634 v4.300" fill="none" stroke="#141414" stroke-width="1.035" stroke-linejoin="round" stroke-linecap="round" />
<ellipse cx="265.5" cy="639.5" rx="1.3" ry="1.8" fill="#141414" stroke="#141414" stroke-width="1.15"/>
<ellipse cx="275.0" cy="638.5" rx="1.3" ry="1.8" fill="#141414" stroke="#141414" stroke-width="1.15"/>
<path d="M196,639.500 h7 M215,640.500 h5" fill="none" stroke="#141414" stroke-width="1.15" stroke-linejoin="round" stroke-linecap="round" />
<line x1="160.0" y1="654.5" x2="160.0" y2="667.0" stroke="#141414" stroke-width="1.2" />
<line x1="212.5" y1="656.5" x2="213.8" y2="680.0" stroke="#141414" stroke-width="1" />
<line x1="223.8" y1="657.0" x2="225.0" y2="680.0" stroke="#141414" stroke-width="1" />
<line x1="242.5" y1="656.5" x2="242.5" y2="693.0" stroke="#141414" stroke-width="1.1" />
<path d="M262.5,660.0 L262.5,690.0" fill="none" stroke="#141414" stroke-width="1.1" stroke-dasharray="5 2.500"/>
<ellipse cx="160.0" cy="669.5" rx="4.2" ry="2.1" fill="#141414" stroke="#141414" stroke-width="1.15"/>
<path d="M157.5,668.9 h5" stroke="#aaa" stroke-width="0.600"/>
<ellipse cx="200.0" cy="661.2" rx="4.2" ry="2.1" fill="#141414" stroke="#141414" stroke-width="1.15"/>
<path d="M197.5,660.6 h5" stroke="#aaa" stroke-width="0.600"/>
<ellipse cx="242.5" cy="696.2" rx="4.2" ry="2.1" fill="#141414" stroke="#141414" stroke-width="1.15"/>
<path d="M240.0,695.6 h5" stroke="#aaa" stroke-width="0.600"/>
<ellipse cx="287.5" cy="685.8" rx="4.2" ry="2.1" fill="#141414" stroke="#141414" stroke-width="1.15"/>
<path d="M285.0,685.1999999999999 h5" stroke="#aaa" stroke-width="0.600"/>
<line x1="200.0" y1="655.0" x2="200.0" y2="659.0" stroke="#141414" stroke-width="1.1" />
<path d="M230.500,667.300 C229,667.300 229,670.300 230.500,670.300 L254,669 L258.500,665.500 L262,670.500 L287.5,669.500 C289.500,669.500 289.500,666 287.500,666 L264,667 L259.500,661.800 L253,666 Z" fill="#fff" stroke="#141414" stroke-width="1.38" stroke-linejoin="round" stroke-linecap="round" />
<path d="M271,672 l3,3.500 l5.500,-1 M276.500,676 l1,1.500" fill="none" stroke="#141414" stroke-width="1.4949999999999999" stroke-linejoin="round" stroke-linecap="round" />
<path d="M207,684.500 L225,682 L227,688.500 L209,691.500 Z" fill="#141414" stroke="#141414" stroke-width="1.38" stroke-linejoin="round" stroke-linecap="round" />
<path d="M208.500,686.500 L225.500,684 M209,689 L226,686.500" stroke="#fff" stroke-width="0.700"/>
<path d="M207,684.500 L207.500,682 L225,679.700 L225,682" fill="none" stroke="#141414" stroke-width="1.15" stroke-linejoin="round" stroke-linecap="round" />
<path d="M214.0,692.0 L214.0,700.0" fill="none" stroke="#141414" stroke-width="1.3" stroke-dasharray="2 1.5"/>
<circle cx="214.0" cy="703.5" r="1.2" fill="#141414"/>
<line x1="214.0" y1="703.0" x2="214.0" y2="708.0" stroke="#141414" stroke-width="1.2" />
<path d="M226,690 l2,2 l-2,2 l2,2 l-2,2 l2,2 l-1,2" fill="none" stroke="#141414" stroke-width="1.38" stroke-linejoin="round" stroke-linecap="round" />
<circle cx="263.0" cy="688.0" r="1.2" fill="#141414"/>
<line x1="263.0" y1="691.5" x2="263.0" y2="698.0" stroke="#141414" stroke-width="2.2" />
<circle cx="263.0" cy="703.0" r="1.8" fill="#141414"/>
<path d="M426.2,468.8 L452.5,441.2" fill="none" stroke="#141414" stroke-width="4.14" stroke-linejoin="round" stroke-linecap="round" />
<path d="M426.2,468.8 L452.5,441.2" stroke="#fff" stroke-width="1.500" stroke-linecap="round"/>
<path d="M423.8,487.0 L456.2,451.2" fill="none" stroke="#141414" stroke-width="2.53" stroke-linejoin="round" stroke-linecap="round" />
<path d="M437.5,486 h5 v2.500 h-5 z" fill="#141414" stroke="#141414" stroke-width="1.15" stroke-linejoin="round" stroke-linecap="round" />
<path d="M438.7,488.500 v9 h2.600 v-9" fill="#fff" stroke="#141414" stroke-width="1.15" stroke-linejoin="round" stroke-linecap="round" />
<ellipse cx="440.0" cy="507.5" rx="2.6" ry="1.3" fill="#141414" stroke="#141414" stroke-width="1.15"/>
<ellipse cx="440.0" cy="515.0" rx="2.6" ry="1.3" fill="#141414" stroke="#141414" stroke-width="1.15"/>
<path d="M448.7,486 h5 v2.500 h-5 z" fill="#141414" stroke="#141414" stroke-width="1.15" stroke-linejoin="round" stroke-linecap="round" />
<path d="M449.9,488.500 v9 h2.600 v-9" fill="#fff" stroke="#141414" stroke-width="1.15" stroke-linejoin="round" stroke-linecap="round" />
<ellipse cx="451.2" cy="507.5" rx="2.6" ry="1.3" fill="#141414" stroke="#141414" stroke-width="1.15"/>
<ellipse cx="451.2" cy="515.0" rx="2.6" ry="1.3" fill="#141414" stroke="#141414" stroke-width="1.15"/>
<path d="M440.5,498.0 L440.5,557.0" fill="none" stroke="#141414" stroke-width="1.2" stroke-dasharray="4.5 2.2"/>
<path d="M456.2,498.0 L456.2,557.0" fill="none" stroke="#141414" stroke-width="1.2" stroke-dasharray="4.5 2.2"/>
<line x1="440.5" y1="526.5" x2="440.5" y2="534.0" stroke="#141414" stroke-width="2.2" stroke-linecap="round"/>
<circle cx="440.5" cy="526.5" r="1.5" fill="#141414"/>
<line x1="456.2" y1="526.5" x2="456.2" y2="534.0" stroke="#141414" stroke-width="2.2" stroke-linecap="round"/>
<circle cx="456.2" cy="526.5" r="1.5" fill="#141414"/>
<circle cx="440.5" cy="548.0" r="1.3" fill="#141414"/>
<circle cx="456.2" cy="548.0" r="1.3" fill="#141414"/>
<path d="M439,563.500 C439,561.500 441,560.500 444,560.500 C445,556.500 449,554 453,554.500 C456,555 458,557 458.500,559 L461,557.500 L466,558 L466.5,567 L461,569 L459,567.500 C455,569.500 449,571 444,571.500 C441,571.500 439,569 439,563.500 Z" fill="#fff" stroke="#141414" stroke-width="1.6099999999999999" stroke-linejoin="round" stroke-linecap="round" />
<path d="M444,560.500 C450,561 455,560.500 458.500,559 M458.500,559 L459,567.500 M461,557.500 V569 M447,560 C448,557.500 451,556 454,557" fill="none" stroke="#141414" stroke-width="1.15" stroke-linejoin="round" stroke-linecap="round" />
<path d="M439.5,566 C445,567 452,566 458.800,563.500" fill="none" stroke="#141414" stroke-width="1.035" stroke-linejoin="round" stroke-linecap="round" />
<path d="M466.2,558.8 L564.0,544.5" fill="none" stroke="#141414" stroke-width="1.5" stroke-dasharray="12 3 2.5 3"/>
<path d="M466.2,562.5 L526.0,562.5" fill="none" stroke="#141414" stroke-width="1.5" stroke-dasharray="10 3"/>
<path d="M504,561 l3.500,-4 l1.500,1.500 l-3.500,4 z" fill="#141414" stroke="#141414" stroke-width="1.15" stroke-linejoin="round" stroke-linecap="round" />
<circle cx="511.0" cy="562.0" r="1.1" fill="#141414"/>
<circle cx="517.0" cy="562.3" r="1.1" fill="#141414"/>
<line x1="521.0" y1="562.5" x2="527.0" y2="562.5" stroke="#141414" stroke-width="1.6" />
<line x1="528.8" y1="455.0" x2="528.8" y2="460.0" stroke="#141414" stroke-width="1.8" />
<circle cx="528.8" cy="465.0" r="1.1" fill="#141414"/>
<circle cx="528.8" cy="470.5" r="1.2" fill="#141414"/>
<line x1="528.8" y1="456.0" x2="528.8" y2="478.0" stroke="#141414" stroke-width="0.9" />
<path d="M528,478 h5 v13 h-5 z" fill="#141414" stroke="#141414" stroke-width="1.15" stroke-linejoin="round" stroke-linecap="round" />
<ellipse cx="530.5" cy="478.5" rx="3" ry="1.8" fill="#141414" stroke="#141414" stroke-width="1.15"/>
<path d="M528.500,484 h4 M528.500,487 h4" stroke="#fff" stroke-width="0.700"/>
<ellipse cx="518.8" cy="490.0" rx="3" ry="1.7" fill="#141414" stroke="#141414" stroke-width="1.15" transform="rotate(-30 518.8 490.0)"/>
<line x1="534.0" y1="481.0" x2="552.0" y2="481.0" stroke="#141414" stroke-width="1.1" />
<circle cx="551.2" cy="480.5" r="1.3" fill="#141414"/>
<path d="M528.0,491.2 L528.0,496.2 L558.8,496.2" fill="none" stroke="#141414" stroke-width="1.265" stroke-linejoin="round" stroke-linecap="round" />
<line x1="563.7" y1="458.0" x2="563.7" y2="464.0" stroke="#141414" stroke-width="1.8" />
<circle cx="563.7" cy="468.0" r="1.1" fill="#141414"/>
<line x1="562.0" y1="471.5" x2="566.0" y2="471.5" stroke="#141414" stroke-width="1.4" />
<path d="M560.500,478.500 C561,475.500 565,474.500 569,475 L575,473.500 C574,477 571,478.500 568,478.500 C566,481 562,481.500 560.500,478.500 Z" fill="#fff" stroke="#141414" stroke-width="1.38" stroke-linejoin="round" stroke-linecap="round" />
<path d="M558.5,488.500 h3 M559,489 v7 h2 v-7" fill="#fff" stroke="#141414" stroke-width="1.265" stroke-linejoin="round" stroke-linecap="round" />
<line x1="558.4" y1="488.3" x2="561.6" y2="488.3" stroke="#141414" stroke-width="1.8" />
<path d="M568.0,488.500 h3 M568.5,489 v7 h2 v-7" fill="#fff" stroke="#141414" stroke-width="1.265" stroke-linejoin="round" stroke-linecap="round" />
<line x1="567.9" y1="488.3" x2="571.1" y2="488.3" stroke="#141414" stroke-width="1.8" />
<g transform="translate(0,2)">
<path d="M553.8,500 C554,498.500 556,498 558,498.500 L574,500.500 C576,501 576,504 574,504.500 L562,504.500 L561.500,507.500 L555.500,507.500 C553.500,506 553.500,502 553.8,500 Z" fill="#fff" stroke="#141414" stroke-width="1.4949999999999999" stroke-linejoin="round" stroke-linecap="round" />
<path d="M558,499 V506.500 M562,500 L574,502.500 M564,502 h7" fill="none" stroke="#141414" stroke-width="1.035" stroke-linejoin="round" stroke-linecap="round" />
<path d="M558.0,508.0 L558.0,513.0 L572.0,513.0 L572.0,509.0 L580.0,509.0 L580.0,517.0" fill="none" stroke="#141414" stroke-width="1.265" stroke-linejoin="round" stroke-linecap="round" />
</g>
<circle cx="554.5" cy="517.3" r="2.5" fill="#141414"/>
<ellipse cx="553.0" cy="528.2" rx="3.3" ry="3.6" fill="#fff" stroke="#141414" stroke-width="2.53"/>
<line x1="553.0" y1="525.5" x2="553.0" y2="531.0" stroke="#141414" stroke-width="1.1" />
<g transform="translate(0.500,3)">
<path d="M563.8,532 L566,525 C567,521 570,518.500 573,518 L577,514.500 L581,514 L583,518 L590,519.500 L594,524 L596.500,530 C598.500,534 599,541 598,546 C597,549.500 594,552 590.500,552 L586,551 L584.500,547 C580,549 574,548.500 570,546 C566,543.500 563.500,538 563.8,532 Z" fill="#fff" stroke="#141414" stroke-width="1.6099999999999999" stroke-linejoin="round" stroke-linecap="round" />
<path d="M563.8,532 C570,534.500 580,534 586,531 L590,528 M586,531 C588,537 588,545 586,551 M590,528 C593,534 594,543 592,550 M566,525 C570,527 576,527 580,525 L583,518 M573,518 C574,521 574,524 573,526.500 M577,514.500 L578,525.500" fill="none" stroke="#141414" stroke-width="1.15" stroke-linejoin="round" stroke-linecap="round" />
<path d="M566.500,526.500 l5,1 l0.500,-5 l-3,-1.500 z M575.500,527 l4,-0.500 l0,-5.500 l-3,-1 z" fill="#141414" stroke="#141414" stroke-width="0.9199999999999999" stroke-linejoin="round" stroke-linecap="round" />
<path d="M583,521.500 l4,1 l2,4 l-4,1.500 z" fill="#141414" stroke="#141414" stroke-width="0.9199999999999999" stroke-linejoin="round" stroke-linecap="round" />
<circle cx="586" cy="524.500" r="0.800" fill="#fff"/>
<ellipse cx="574.0" cy="539.5" rx="3.6" ry="3.8" fill="#fff" stroke="#141414" stroke-width="1.7249999999999999"/>
<line x1="574.0" y1="537.0" x2="574.0" y2="542.0" stroke="#141414" stroke-width="0.9" />
<path d="M587,533 C589,538 589,545 587,550" fill="none" stroke="#141414" stroke-width="2.53" stroke-linejoin="round" stroke-linecap="round" />
<path d="M566,525 C567,521 570,518.500 573,518 L577,514.500 L581,514 L583,518 L580,525 C576,527 570,527 566,525 Z" fill="#333" stroke="#141414" stroke-width="1.15" stroke-linejoin="round" stroke-linecap="round" />
<path d="M571,520 l1,5 M576,517 l1,8" stroke="#fff" stroke-width="1"/>
<path d="M590,528 C593,534 594,543 592,550 L590.500,552 L586,551 C588,545 588,537 586,531 Z" fill="#555" stroke="#141414" stroke-width="1.15" stroke-linejoin="round" stroke-linecap="round" />
</g>
<path d="M564,562 C567,566 568,572 566.500,577 L569.500,578.500 C571.500,572 570.500,565 567,560.500 Z" fill="#141414" stroke="#141414" stroke-width="1.38" stroke-linejoin="round" stroke-linecap="round" />
<line x1="571.0" y1="561.5" x2="586.5" y2="553.5" stroke="#141414" stroke-width="1.2" />
<path d="M581.2,517.5 L645.0,457.5 L765.0,457.5" fill="none" stroke="#141414" stroke-width="1.5" stroke-dasharray="12 3 2.500 3"/>
<path d="M593.8,527.5 L640.0,480.0 L742.0,480.0" fill="none" stroke="#141414" stroke-width="1.5" stroke-dasharray="12 3 2.500 3"/>
<path d="M702,444 l2,4 l8,8.500" fill="none" stroke="#141414" stroke-width="1.4949999999999999" stroke-linejoin="round" stroke-linecap="round" />
<line x1="707.0" y1="457.5" x2="718.0" y2="457.5" stroke="#141414" stroke-width="2.6" />
<path d="M712,457.500 h5" stroke="#fff" stroke-width="0.800"/>
<circle cx="731.8" cy="457.0" r="1.5" fill="#141414"/>
<ellipse cx="745.5" cy="457.0" rx="3.2" ry="3.4" fill="#141414" stroke="#141414" stroke-width="1.15"/>
<path d="M747,455 v4.500" stroke="#fff" stroke-width="0.800"/>
<line x1="749.0" y1="457.3" x2="761.0" y2="457.3" stroke="#141414" stroke-width="1.1" />
<rect x="761" y="455.200" width="6" height="4.400" rx="1.300" fill="#fff" stroke="#141414" stroke-width="1.100"/>
<path d="M693,476.500 h10 c1.800,0 2.800,1.600 2.800,3.500 c0,1.900 -1,3.500 -2.800,3.500 h-10 c-1.500,0 -2.200,-1.600 -2.200,-3.500 c0,-1.900 0.700,-3.500 2.200,-3.500 z" fill="#fff" stroke="#141414" stroke-width="1.38" stroke-linejoin="round" stroke-linecap="round" />
<ellipse cx="703.0" cy="480.0" rx="1.8" ry="3.4" fill="none" stroke="#141414" stroke-width="1.15"/>
<path d="M712,481 l3.500,-4.500 l13,-1 l2.500,-3.500 l1,8 l-2,5.500 l-12,1 z" fill="#141414" stroke="#141414" stroke-width="1.38" stroke-linejoin="round" stroke-linecap="round" />
<path d="M717,478 l1.500,6 M720,477.500 l1.500,6.500 M723,477.500 l1.500,6 M726,477 l1.500,6" stroke="#fff" stroke-width="0.800"/>
<line x1="709.0" y1="481.0" x2="713.0" y2="481.0" stroke="#141414" stroke-width="1.1" />
<line x1="732.0" y1="480.0" x2="742.0" y2="480.0" stroke="#141414" stroke-width="1.1" />
<path d="M742,477.500 h28 v5 h-28 c-0.800,-1.500 -0.800,-3.500 0,-5 z" fill="#fff" stroke="#141414" stroke-width="1.38" stroke-linejoin="round" stroke-linecap="round" />
<ellipse cx="771.5" cy="480.0" rx="2.8" ry="4.3" fill="#fff" stroke="#141414" stroke-width="1.6099999999999999"/>
<path d="M596.2,532.5 L657.0,520.8" fill="none" stroke="#141414" stroke-width="1.5" stroke-dasharray="10 3"/>
<path d="M598.8,540.0 L700.0,521.2" fill="none" stroke="#141414" stroke-width="1.5" stroke-dasharray="12 3 2.500 3"/>
<ellipse cx="616.2" cy="529.5" rx="2.2" ry="1.3" fill="#141414" stroke="#141414" stroke-width="1.15" transform="rotate(-10 616.2 529.5)"/>
<path d="M624.500,525.500 l10,-2.200 l0.600,2.600 l-10,2.300 z" fill="#fff" stroke="#141414" stroke-width="1.265" stroke-linejoin="round" stroke-linecap="round" />
<path d="M627,525 l0.500,2.500 M631,524.200 l0.500,2.500" fill="none" stroke="#141414" stroke-width="0.9199999999999999" stroke-linejoin="round" stroke-linecap="round" />
<circle cx="646.2" cy="523.2" r="2.4" fill="#141414"/>
<ellipse cx="657.0" cy="520.8" rx="3.4" ry="3.5" fill="#fff" stroke="#141414" stroke-width="1.4949999999999999"/>
<ellipse cx="657.0" cy="520.8" rx="1.5" ry="1.6" fill="#777" stroke="#141414" stroke-width="1.15"/>
<circle cx="625.0" cy="537.5" r="3.1" fill="#141414"/>
<path d="M634.5,536.2 L652.5,532.8" fill="none" stroke="#141414" stroke-width="3.4499999999999997" stroke-linejoin="round" stroke-linecap="round" />
<path d="M636,536 L652,532.900" stroke="#fff" stroke-width="0.900" stroke-dasharray="1.300 1.300"/>
<line x1="652.0" y1="532.8" x2="658.0" y2="531.7" stroke="#141414" stroke-width="1.2" />
<ellipse cx="678.2" cy="527.5" rx="6.6" ry="7.2" fill="#141414" stroke="#141414" stroke-width="1.4949999999999999"/>
<ellipse cx="677" cy="527" rx="3.600" ry="4.400" fill="none" stroke="#fff" stroke-width="0.900"/>
<path d="M675,524 l4,6 M679,524 l-4,6" stroke="#fff" stroke-width="0.800"/>
<ellipse cx="683.5" cy="527.0" rx="2.5" ry="6" fill="#fff" stroke="#141414" stroke-width="1.265"/>
<circle cx="693.8" cy="522.5" r="1.3" fill="#141414"/>
<circle cx="700.0" cy="521.2" r="1.4" fill="#141414"/>
<path d="M1032.500,394.500 h8.500 l1.500,1.500 v11 h-4 v8.500 h-3.500 v-8.500 h-2.500 z" fill="#fff" stroke="#141414" stroke-width="1.4949999999999999" stroke-linejoin="round" stroke-linecap="round" />
<path d="M1035,394.500 v12.500 M1038.500,398 v5 M1035,407 h3.500" fill="none" stroke="#141414" stroke-width="1.15" stroke-linejoin="round" stroke-linecap="round" />
<path d="M1019.500,405.500 c1,-1 3.500,-1 4.500,0 l0.500,7 c-1,1.300 -3.500,1.300 -4.500,0 z" fill="#fff" stroke="#141414" stroke-width="1.38" stroke-linejoin="round" stroke-linecap="round" />
<ellipse cx="1022.0" cy="409.0" rx="1" ry="2" fill="none" stroke="#141414" stroke-width="1.035"/>
<line x1="990.5" y1="412.5" x2="1001.0" y2="411.8" stroke="#141414" stroke-width="2" />
<circle cx="1006.2" cy="410.0" r="1.4" fill="#141414"/>
<circle cx="1015.0" cy="407.5" r="1.5" fill="#141414"/>
<path d="M1001.500,428 l3,-6 l6.500,-1.500 l3,3.500 l-1.500,6.500 l-3,4.500 l-5.500,-1 z" fill="#fff" stroke="#141414" stroke-width="1.4949999999999999" stroke-linejoin="round" stroke-linecap="round" />
<ellipse cx="1007.2" cy="428.0" rx="2.6" ry="3.2" fill="#fff" stroke="#141414" stroke-width="1.4949999999999999"/>
<circle cx="1003.0" cy="425.5" r="0.9" fill="#141414"/>
<circle cx="1011.5" cy="431.0" r="0.9" fill="#141414"/>
<path d="M1004,423 l-1,-1.500 M1012,424 l1.500,-1" fill="none" stroke="#141414" stroke-width="1.15" stroke-linejoin="round" stroke-linecap="round" />
<path d="M1023,426.800 L1050.500,419.500 C1052,419.300 1052.800,422.500 1051.500,423.300 L1024,430.800 C1022.500,430.500 1022,427.800 1023,426.800 Z" fill="#fff" stroke="#141414" stroke-width="1.4949999999999999" stroke-linejoin="round" stroke-linecap="round" />
<path d="M1026.500,426 l1,4 M1029,425.300 l1,4" fill="none" stroke="#141414" stroke-width="1.15" stroke-linejoin="round" stroke-linecap="round" />
<ellipse cx="1021.5" cy="429.5" rx="1.5" ry="2" fill="#141414" stroke="#141414" stroke-width="1.15"/>
<line x1="1037.5" y1="416.0" x2="1038.5" y2="423.0" stroke="#141414" stroke-width="1" />
<ellipse cx="1065.0" cy="420.0" rx="4.8" ry="8" fill="#fff" stroke="#141414" stroke-width="2.3"/>
<ellipse cx="1065.5" cy="420.0" rx="2.3" ry="4.2" fill="none" stroke="#141414" stroke-width="1.265"/>
<line x1="1052.0" y1="422.7" x2="1060.0" y2="421.0" stroke="#141414" stroke-width="1" />
<line x1="1070.0" y1="419.0" x2="1090.0" y2="413.8" stroke="#141414" stroke-width="0.9" />
<circle cx="1077.0" cy="417.0" r="1.4" fill="#141414"/>
<circle cx="1082.5" cy="415.5" r="1.4" fill="#141414"/>
<circle cx="1090.5" cy="413.8" r="1.5" fill="#141414"/>
<path d="M1008.0,421.0 L1019.0,405.0" fill="none" stroke="#141414" stroke-width="1.5" stroke-dasharray="4 2"/>
<path d="M878,566 C880,563 886,562 890,565 L895,568 L941.500,569 C943,569 943,572 941.500,572 L932,572 L932,574.500 L897,574 C893,575 885,573 880,571 C877,570 876.500,568 878,566 Z" fill="#fff" stroke="#141414" stroke-width="1.38" stroke-linejoin="round" stroke-linecap="round" />
<path d="M882,567.500 C884,565.500 888,566 890.500,568.500 L882.500,569.500 Z M895,568 L897,571 L932,572 M897,571 L897,574" fill="none" stroke="#141414" stroke-width="1.035" stroke-linejoin="round" stroke-linecap="round" />
<path d="M950.2,570.0 h8.500 v9.500 h-8.500 z" fill="#fff" stroke="#141414" stroke-width="1.4949999999999999" stroke-linejoin="round" stroke-linecap="round" />
<path d="M950.2,570.0 h8.500 v4.500 h-8.500 z" fill="#141414" stroke="#141414" stroke-width="1.15" stroke-linejoin="round" stroke-linecap="round" />
<circle cx="954.5" cy="576.5" r="1" fill="#141414"/>
<path d="M984,565.5 h8.500 v9.500 h-8.500 z" fill="#fff" stroke="#141414" stroke-width="1.4949999999999999" stroke-linejoin="round" stroke-linecap="round" />
<path d="M984,565.5 h8.500 v4.500 h-8.500 z" fill="#141414" stroke="#141414" stroke-width="1.15" stroke-linejoin="round" stroke-linecap="round" />
<circle cx="988.3" cy="572" r="1" fill="#141414"/>
<line x1="955.0" y1="580.0" x2="955.0" y2="584.0" stroke="#141414" stroke-width="1" />
<line x1="955.0" y1="585.0" x2="955.0" y2="590.5" stroke="#141414" stroke-width="2" />
<line x1="988.8" y1="575.5" x2="988.8" y2="579.0" stroke="#141414" stroke-width="1" />
<line x1="988.8" y1="580.0" x2="988.8" y2="585.5" stroke="#141414" stroke-width="2" />
<line x1="992.5" y1="568.8" x2="1015.0" y2="568.8" stroke="#141414" stroke-width="1.2" />
<path d="M1015,564.500 v8.500 M1016.800,563.500 v10.500" fill="none" stroke="#141414" stroke-width="1.7249999999999999" stroke-linejoin="round" stroke-linecap="round" />
<circle cx="1020.0" cy="569.0" r="1.3" fill="#141414"/>
<path d="M1017.5,551.500 L1038.500,547.500 L1040,549 L1040,562 L1036,563.500 L1030,569 L1022,569.500 L1022,566 L1017.5,566 Z" fill="#fff" stroke="#141414" stroke-width="1.4949999999999999" stroke-linejoin="round" stroke-linecap="round" />
<path d="M1021,551 V566 M1038.500,547.500 V562.500" fill="none" stroke="#141414" stroke-width="1.15" stroke-linejoin="round" stroke-linecap="round" />
<path d="M1036,563.500 L1092,562 C1096,561 1100,559.500 1101.500,561 C1103,563 1100,566 1096,567.500 C1093,568.500 1090,568.500 1088,568 L1040,570 L1036,569 C1034,567.500 1034.500,564.500 1036,563.500 Z" fill="#fff" stroke="#141414" stroke-width="1.38" stroke-linejoin="round" stroke-linecap="round" />
<path d="M1047,564.500 L1086,564 M1040,567 L1088,565.500 M1088,568 C1091,566 1095,564 1099,562.500" fill="none" stroke="#141414" stroke-width="1.035" stroke-linejoin="round" stroke-linecap="round" />
<ellipse cx="1038.5" cy="566.5" rx="1.8" ry="1.4" fill="#fff" stroke="#141414" stroke-width="1.15"/>
<path d="M649,661 C648.500,658.500 651,656.500 653.500,657.500 L668,665.500 C671,667 674,667 677,666 C680,665 683,666 686,668 L699,677 L698,679 L691,676.500 L690.500,679 L697.500,682.500 L699.500,684 L698,687 L684,680.500 C681,679 678,678.500 675,679 C671,679.500 668,678.500 665,676 L651,665 C649.500,664 649,662.500 649,661 Z" fill="#fff" stroke="#141414" stroke-width="1.9549999999999998" stroke-linejoin="round" stroke-linecap="round" />
<ellipse cx="652.5" cy="661.5" rx="1.5" ry="2" fill="#fff" stroke="#141414" stroke-width="1.15"/>
<path d="M773,662.5 H852.5 L855,659.500 L857.500,661.500 L858.500,667 L856.500,668.500 L857.5,672.5 C850,686 841,703 836.2,719.500 L777.5,720 H773 C767.500,720 763,716.500 763,711 V672.5 C763,667 767.500,662.5 773,662.5 Z" fill="#fff" stroke="#141414" stroke-width="1.4949999999999999" stroke-linejoin="round" stroke-linecap="round" />
<path d="M853,660.500 l2.500,-3.500 l3,3 l0.500,6.500 l-3,1 l-2,-2.500 z" fill="#141414" stroke="#141414" stroke-width="1.15" stroke-linejoin="round" stroke-linecap="round" />
<line x1="777.5" y1="720.3" x2="836.2" y2="720.3" stroke="#141414" stroke-width="2.2" />
<path d="M836.2,720.300 l2.500,2.500" fill="none" stroke="#141414" stroke-width="1.7249999999999999" stroke-linejoin="round" stroke-linecap="round" />
<path d="M416.7,75.2 L416.7,131.0" fill="none" stroke="#141414" stroke-width="1.5" stroke-linejoin="round" stroke-linecap="round" />
<circle cx="416.7" cy="62.7" r="12.5" fill="#fff" stroke="#141414" stroke-width="1.8"/>
<text x="416.7" y="68.7" font-family="'Liberation Sans', sans-serif" font-size="16.8" text-anchor="middle" textLength="21.4" lengthAdjust="spacingAndGlyphs" fill="#141414" stroke="#141414" stroke-width="0.25">182</text>
<path d="M137.5,164.5 L137.5,184.0" fill="none" stroke="#141414" stroke-width="1.5" stroke-linejoin="round" stroke-linecap="round" />
<circle cx="137.5" cy="153.0" r="11.5" fill="#fff" stroke="#141414" stroke-width="1.8"/>
<text x="137.5" y="158.5" font-family="'Liberation Sans', sans-serif" font-size="15.4" text-anchor="middle" textLength="19.7" lengthAdjust="spacingAndGlyphs" fill="#141414" stroke="#141414" stroke-width="0.25">183</text>
<path d="M624.9,103.0 L675.5,103.2" fill="none" stroke="#141414" stroke-width="1.5" stroke-linejoin="round" stroke-linecap="round" />
<circle cx="612.5" cy="103.0" r="12.4" fill="#fff" stroke="#141414" stroke-width="1.8"/>
<text x="612.5" y="108.9" font-family="'Liberation Sans', sans-serif" font-size="16.6" text-anchor="middle" textLength="21.3" lengthAdjust="spacingAndGlyphs" fill="#141414" stroke="#141414" stroke-width="0.25">184</text>
<path d="M766.2,85.8 L766.2,103.8" fill="none" stroke="#141414" stroke-width="1.5" stroke-linejoin="round" stroke-linecap="round" />
<circle cx="766.2" cy="73.8" r="12" fill="#fff" stroke="#141414" stroke-width="1.8"/>
<text x="766.2" y="79.6" font-family="'Liberation Sans', sans-serif" font-size="16.1" text-anchor="middle" textLength="20.6" lengthAdjust="spacingAndGlyphs" fill="#141414" stroke="#141414" stroke-width="0.25">185</text>
<path d="M777.0,316.4 L777.0,298.8" fill="none" stroke="#141414" stroke-width="1.5" stroke-linejoin="round" stroke-linecap="round" />
<circle cx="777.0" cy="328.8" r="12.4" fill="#fff" stroke="#141414" stroke-width="1.8"/>
<text x="777.0" y="334.7" font-family="'Liberation Sans', sans-serif" font-size="16.6" text-anchor="middle" textLength="21.3" lengthAdjust="spacingAndGlyphs" fill="#141414" stroke="#141414" stroke-width="0.25">186</text>
<path d="M432.5,660.0 L349.5,660.0" fill="none" stroke="#141414" stroke-width="1.5" stroke-linejoin="round" stroke-linecap="round" />
<circle cx="446.0" cy="660.0" r="13.5" fill="#fff" stroke="#141414" stroke-width="1.8"/>
<text x="446.0" y="666.5" font-family="'Liberation Sans', sans-serif" font-size="18.1" text-anchor="middle" textLength="23.2" lengthAdjust="spacingAndGlyphs" fill="#141414" stroke="#141414" stroke-width="0.25">180</text>
<path d="M569.5,653.5 L569.5,624.0" fill="none" stroke="#141414" stroke-width="1.5" stroke-linejoin="round" stroke-linecap="round" />
<circle cx="569.5" cy="667.5" r="14" fill="#fff" stroke="#141414" stroke-width="1.8"/>
<text x="569.5" y="674.2" font-family="'Liberation Sans', sans-serif" font-size="18.8" text-anchor="middle" textLength="24.0" lengthAdjust="spacingAndGlyphs" fill="#141414" stroke="#141414" stroke-width="0.25">181</text>
<path d="M886.7,442.0 L923.8,442.0" fill="none" stroke="#141414" stroke-width="1.5" stroke-linejoin="round" stroke-linecap="round" />
<circle cx="873.2" cy="442.0" r="13.5" fill="#fff" stroke="#141414" stroke-width="1.8"/>
<text x="873.2" y="448.5" font-family="'Liberation Sans', sans-serif" font-size="18.1" text-anchor="middle" textLength="23.2" lengthAdjust="spacingAndGlyphs" fill="#141414" stroke="#141414" stroke-width="0.25">187</text>
<path d="M984.5,658.4 L984.5,637.5" fill="none" stroke="#141414" stroke-width="1.5" stroke-linejoin="round" stroke-linecap="round" />
<circle cx="984.5" cy="671.8" r="13.4" fill="#fff" stroke="#141414" stroke-width="1.8"/>
<text x="984.5" y="678.2" font-family="'Liberation Sans', sans-serif" font-size="18.0" text-anchor="middle" textLength="23.0" lengthAdjust="spacingAndGlyphs" fill="#141414" stroke="#141414" stroke-width="0.25">188</text>
<path d="M75.5,440.8 L88.0,440.8" fill="none" stroke="#141414" stroke-width="1.5" stroke-linejoin="round" stroke-linecap="round" />
<circle cx="62.5" cy="440.8" r="13" fill="#fff" stroke="#141414" stroke-width="1.8"/>
<text x="62.5" y="447.0" font-family="'Liberation Serif', sans-serif" font-size="17.4" text-anchor="middle" textLength="22.3" lengthAdjust="spacingAndGlyphs" fill="#141414" stroke="#141414" stroke-width="0.25">190</text>
<path d="M204.3,28.5 L202.5,81.0" fill="none" stroke="#141414" stroke-width="1.5" stroke-linejoin="round" stroke-linecap="round" />
<circle cx="204.5" cy="22.0" r="6.5" fill="#fff" stroke="#141414" stroke-width="1.9"/>
<text x="204.5" y="26.2" font-family="'Liberation Sans', sans-serif" font-size="11.8" text-anchor="middle" textLength="10.4" lengthAdjust="spacingAndGlyphs" fill="#141414" stroke="#141414" stroke-width="0.55">93</text>
<path d="M218.9,28.5 L215.5,81.0" fill="none" stroke="#141414" stroke-width="1.5" stroke-linejoin="round" stroke-linecap="round" />
<circle cx="219.3" cy="22.0" r="6.5" fill="#fff" stroke="#141414" stroke-width="1.9"/>
<text x="219.3" y="26.2" font-family="'Liberation Sans', sans-serif" font-size="11.8" text-anchor="middle" textLength="10.4" lengthAdjust="spacingAndGlyphs" fill="#141414" stroke="#141414" stroke-width="0.55">90</text>
<path d="M233.4,28.5 L231.0,74.0" fill="none" stroke="#141414" stroke-width="1.5" stroke-linejoin="round" stroke-linecap="round" />
<circle cx="233.7" cy="22.0" r="6.5" fill="#fff" stroke="#141414" stroke-width="1.9"/>
<text x="233.7" y="26.2" font-family="'Liberation Sans', sans-serif" font-size="11.8" text-anchor="middle" textLength="10.4" lengthAdjust="spacingAndGlyphs" fill="#141414" stroke="#141414" stroke-width="0.55">94</text>
<path d="M253.6,28.3 L258.0,46.0" fill="none" stroke="#141414" stroke-width="1.5" stroke-linejoin="round" stroke-linecap="round" />
<circle cx="252.0" cy="22.0" r="6.5" fill="#fff" stroke="#141414" stroke-width="1.9"/>
<text x="252.0" y="26.2" font-family="'Liberation Sans', sans-serif" font-size="11.8" text-anchor="middle" textLength="10.4" lengthAdjust="spacingAndGlyphs" fill="#141414" stroke="#141414" stroke-width="0.55">95</text>
<path d="M275.9,27.5 L306.0,76.0" fill="none" stroke="#141414" stroke-width="1.5" stroke-linejoin="round" stroke-linecap="round" />
<circle cx="272.5" cy="22.0" r="6.5" fill="#fff" stroke="#141414" stroke-width="1.9"/>
<text x="272.5" y="26.2" font-family="'Liberation Sans', sans-serif" font-size="11.8" text-anchor="middle" textLength="10.4" lengthAdjust="spacingAndGlyphs" fill="#141414" stroke="#141414" stroke-width="0.55">96</text>
<path d="M169.5,151.4 L180.5,157.5" fill="none" stroke="#141414" stroke-width="1.5" stroke-linejoin="round" stroke-linecap="round" />
<circle cx="164.3" cy="148.5" r="6" fill="#fff" stroke="#141414" stroke-width="1.6"/>
<text x="164.3" y="152.5" font-family="'Liberation Sans', sans-serif" font-size="11.2" text-anchor="middle" textLength="9.9" lengthAdjust="spacingAndGlyphs" fill="#141414" stroke="#141414" stroke-width="0.38">78</text>
<path d="M171.0,166.4 L190.0,167.5" fill="none" stroke="#141414" stroke-width="1.5" stroke-linejoin="round" stroke-linecap="round" />
<circle cx="165.0" cy="166.0" r="6" fill="#fff" stroke="#141414" stroke-width="1.6"/>
<text x="165.0" y="170.0" font-family="'Liberation Sans', sans-serif" font-size="11.2" text-anchor="middle" textLength="9.9" lengthAdjust="spacingAndGlyphs" fill="#141414" stroke="#141414" stroke-width="0.38">68</text>
<path d="M73.9,207.4 L81.3,261.3 L92.0,261.3" fill="none" stroke="#141414" stroke-width="1.5" stroke-linejoin="round" stroke-linecap="round" />
<circle cx="73.0" cy="200.8" r="6.7" fill="#fff" stroke="#141414" stroke-width="1.9"/>
<text x="73.0" y="205.0" font-family="'Liberation Sans', sans-serif" font-size="11.8" text-anchor="middle" textLength="13.2" lengthAdjust="spacingAndGlyphs" fill="#141414" stroke="#141414" stroke-width="0.55">166</text>
<path d="M90.3,207.4 L99.5,267.5" fill="none" stroke="#141414" stroke-width="1.5" stroke-linejoin="round" stroke-linecap="round" />
<circle cx="89.3" cy="200.8" r="6.7" fill="#fff" stroke="#141414" stroke-width="1.9"/>
<text x="89.3" y="205.0" font-family="'Liberation Sans', sans-serif" font-size="11.8" text-anchor="middle" textLength="13.2" lengthAdjust="spacingAndGlyphs" fill="#141414" stroke="#141414" stroke-width="0.55">165</text>
<path d="M108.0,207.4 L120.0,271.3" fill="none" stroke="#141414" stroke-width="1.5" stroke-linejoin="round" stroke-linecap="round" />
<circle cx="106.8" cy="200.8" r="6.7" fill="#fff" stroke="#141414" stroke-width="1.9"/>
<text x="106.8" y="205.0" font-family="'Liberation Sans', sans-serif" font-size="11.8" text-anchor="middle" textLength="13.2" lengthAdjust="spacingAndGlyphs" fill="#141414" stroke="#141414" stroke-width="0.55">163</text>
<path d="M126.5,207.4 L136.3,271.8" fill="none" stroke="#141414" stroke-width="1.5" stroke-linejoin="round" stroke-linecap="round" />
<circle cx="125.5" cy="200.8" r="6.7" fill="#fff" stroke="#141414" stroke-width="1.9"/>
<text x="125.5" y="205.0" font-family="'Liberation Sans', sans-serif" font-size="11.8" text-anchor="middle" textLength="10.4" lengthAdjust="spacingAndGlyphs" fill="#141414" stroke="#141414" stroke-width="0.55">19</text>
<path d="M142.7,207.4 L150.5,268.0" fill="none" stroke="#141414" stroke-width="1.5" stroke-linejoin="round" stroke-linecap="round" />
<circle cx="141.8" cy="200.8" r="6.7" fill="#fff" stroke="#141414" stroke-width="1.9"/>
<text x="141.8" y="205.0" font-family="'Liberation Sans', sans-serif" font-size="11.8" text-anchor="middle" textLength="10.4" lengthAdjust="spacingAndGlyphs" fill="#141414" stroke="#141414" stroke-width="0.55">73</text>
<path d="M156.2,207.5 L160.5,290.0 L161.3,311.3" fill="none" stroke="#141414" stroke-width="1.5" stroke-linejoin="round" stroke-linecap="round" />
<circle cx="155.8" cy="200.8" r="6.7" fill="#fff" stroke="#141414" stroke-width="1.9"/>
<text x="155.8" y="205.0" font-family="'Liberation Sans', sans-serif" font-size="11.8" text-anchor="middle" textLength="10.4" lengthAdjust="spacingAndGlyphs" fill="#141414" stroke="#141414" stroke-width="0.55">76</text>
<path d="M170.1,207.5 L170.8,306.5" fill="none" stroke="#141414" stroke-width="1.5" stroke-linejoin="round" stroke-linecap="round" />
<circle cx="170.0" cy="200.8" r="6.7" fill="#fff" stroke="#141414" stroke-width="1.9"/>
<text x="170.0" y="205.0" font-family="'Liberation Sans', sans-serif" font-size="11.8" text-anchor="middle" textLength="13.2" lengthAdjust="spacingAndGlyphs" fill="#141414" stroke="#141414" stroke-width="0.55">164</text>
<path d="M184.8,207.5 L187.5,242.5" fill="none" stroke="#141414" stroke-width="1.5" stroke-linejoin="round" stroke-linecap="round" />
<circle cx="184.3" cy="200.8" r="6.7" fill="#fff" stroke="#141414" stroke-width="1.9"/>
<text x="184.3" y="205.0" font-family="'Liberation Sans', sans-serif" font-size="11.8" text-anchor="middle" textLength="13.2" lengthAdjust="spacingAndGlyphs" fill="#141414" stroke="#141414" stroke-width="0.55">162</text>
<path d="M200.4,207.4 L210.0,268.0" fill="none" stroke="#141414" stroke-width="1.5" stroke-linejoin="round" stroke-linecap="round" />
<circle cx="199.3" cy="200.8" r="6.7" fill="#fff" stroke="#141414" stroke-width="1.9"/>
<text x="199.3" y="205.0" font-family="'Liberation Sans', sans-serif" font-size="11.8" text-anchor="middle" textLength="10.4" lengthAdjust="spacingAndGlyphs" fill="#141414" stroke="#141414" stroke-width="0.55">70</text>
<path d="M226.9,207.5 L230.0,263.8" fill="none" stroke="#141414" stroke-width="1.5" stroke-linejoin="round" stroke-linecap="round" />
<circle cx="226.5" cy="200.8" r="6.7" fill="#fff" stroke="#141414" stroke-width="1.9"/>
<text x="226.5" y="205.0" font-family="'Liberation Sans', sans-serif" font-size="11.8" text-anchor="middle" textLength="13.2" lengthAdjust="spacingAndGlyphs" fill="#141414" stroke="#141414" stroke-width="0.55">161</text>
<path d="M244.0,207.4 L253.8,271.3" fill="none" stroke="#141414" stroke-width="1.5" stroke-linejoin="round" stroke-linecap="round" />
<circle cx="243.0" cy="200.8" r="6.7" fill="#fff" stroke="#141414" stroke-width="1.9"/>
<text x="243.0" y="205.0" font-family="'Liberation Sans', sans-serif" font-size="11.8" text-anchor="middle" textLength="10.4" lengthAdjust="spacingAndGlyphs" fill="#141414" stroke="#141414" stroke-width="0.55">69</text>
<path d="M382.6,164.5 L417.5,223.7" fill="none" stroke="#141414" stroke-width="1.5" stroke-linejoin="round" stroke-linecap="round" />
<circle cx="379.2" cy="158.7" r="6.7" fill="#fff" stroke="#141414" stroke-width="1.9"/>
<text x="379.2" y="162.9" font-family="'Liberation Sans', sans-serif" font-size="11.8" text-anchor="middle" textLength="10.4" lengthAdjust="spacingAndGlyphs" fill="#141414" stroke="#141414" stroke-width="0.55">84</text>
<path d="M397.9,164.7 L423.0,216.2" fill="none" stroke="#141414" stroke-width="1.5" stroke-linejoin="round" stroke-linecap="round" />
<circle cx="395.0" cy="158.7" r="6.7" fill="#fff" stroke="#141414" stroke-width="1.9"/>
<text x="395.0" y="162.9" font-family="'Liberation Sans', sans-serif" font-size="11.8" text-anchor="middle" textLength="10.4" lengthAdjust="spacingAndGlyphs" fill="#141414" stroke="#141414" stroke-width="0.55">89</text>
<path d="M413.0,165.0 L428.7,210.5" fill="none" stroke="#141414" stroke-width="1.5" stroke-linejoin="round" stroke-linecap="round" />
<circle cx="410.8" cy="158.7" r="6.7" fill="#fff" stroke="#141414" stroke-width="1.9"/>
<text x="410.8" y="162.9" font-family="'Liberation Sans', sans-serif" font-size="11.8" text-anchor="middle" textLength="10.4" lengthAdjust="spacingAndGlyphs" fill="#141414" stroke="#141414" stroke-width="0.55">81</text>
<path d="M427.7,165.4 L429.2,205.0" fill="none" stroke="#141414" stroke-width="1.5" stroke-linejoin="round" stroke-linecap="round" />
<circle cx="427.5" cy="158.7" r="6.7" fill="#fff" stroke="#141414" stroke-width="1.9"/>
<text x="427.5" y="162.9" font-family="'Liberation Sans', sans-serif" font-size="11.8" text-anchor="middle" textLength="10.4" lengthAdjust="spacingAndGlyphs" fill="#141414" stroke="#141414" stroke-width="0.55">91</text>
<path d="M447.0,165.3 L443.7,183.7" fill="none" stroke="#141414" stroke-width="1.5" stroke-linejoin="round" stroke-linecap="round" />
<circle cx="448.2" cy="158.7" r="6.7" fill="#fff" stroke="#141414" stroke-width="1.9"/>
<text x="448.2" y="162.9" font-family="'Liberation Sans', sans-serif" font-size="11.8" text-anchor="middle" textLength="10.4" lengthAdjust="spacingAndGlyphs" fill="#141414" stroke="#141414" stroke-width="0.55">92</text>
<path d="M463.0,165.1 L451.2,203.7" fill="none" stroke="#141414" stroke-width="1.5" stroke-linejoin="round" stroke-linecap="round" />
<circle cx="465.0" cy="158.7" r="6.7" fill="#fff" stroke="#141414" stroke-width="1.9"/>
<text x="465.0" y="162.9" font-family="'Liberation Sans', sans-serif" font-size="11.8" text-anchor="middle" textLength="10.4" lengthAdjust="spacingAndGlyphs" fill="#141414" stroke="#141414" stroke-width="0.55">29</text>
<path d="M478.0,164.8 L460.0,203.7" fill="none" stroke="#141414" stroke-width="1.5" stroke-linejoin="round" stroke-linecap="round" />
<circle cx="480.8" cy="158.7" r="6.7" fill="#fff" stroke="#141414" stroke-width="1.9"/>
<text x="480.8" y="162.9" font-family="'Liberation Sans', sans-serif" font-size="11.8" text-anchor="middle" textLength="10.4" lengthAdjust="spacingAndGlyphs" fill="#141414" stroke="#141414" stroke-width="0.55">28</text>
<path d="M493.9,164.3 L468.7,203.7" fill="none" stroke="#141414" stroke-width="1.5" stroke-linejoin="round" stroke-linecap="round" />
<circle cx="497.5" cy="158.7" r="6.7" fill="#fff" stroke="#141414" stroke-width="1.9"/>
<text x="497.5" y="162.9" font-family="'Liberation Sans', sans-serif" font-size="11.8" text-anchor="middle" textLength="10.4" lengthAdjust="spacingAndGlyphs" fill="#141414" stroke="#141414" stroke-width="0.55">27</text>
<path d="M324.7,203.8 L342.5,255.0" fill="none" stroke="#141414" stroke-width="1.5" stroke-linejoin="round" stroke-linecap="round" />
<circle cx="322.5" cy="197.5" r="6.7" fill="#fff" stroke="#141414" stroke-width="1.9"/>
<text x="322.5" y="201.7" font-family="'Liberation Sans', sans-serif" font-size="11.8" text-anchor="middle" textLength="10.4" lengthAdjust="spacingAndGlyphs" fill="#141414" stroke="#141414" stroke-width="0.55">55</text>
<path d="M339.9,203.9 L355.5,255.7" fill="none" stroke="#141414" stroke-width="1.5" stroke-linejoin="round" stroke-linecap="round" />
<circle cx="338.0" cy="197.5" r="6.7" fill="#fff" stroke="#141414" stroke-width="1.9"/>
<text x="338.0" y="201.7" font-family="'Liberation Sans', sans-serif" font-size="11.8" text-anchor="middle" textLength="10.4" lengthAdjust="spacingAndGlyphs" fill="#141414" stroke="#141414" stroke-width="0.55">60</text>
<path d="M355.6,204.1 L372.5,286.2" fill="none" stroke="#141414" stroke-width="1.5" stroke-linejoin="round" stroke-linecap="round" />
<circle cx="354.2" cy="197.5" r="6.7" fill="#fff" stroke="#141414" stroke-width="1.9"/>
<text x="354.2" y="201.7" font-family="'Liberation Sans', sans-serif" font-size="11.8" text-anchor="middle" textLength="10.4" lengthAdjust="spacingAndGlyphs" fill="#141414" stroke="#141414" stroke-width="0.55">17</text>
<path d="M370.4,204.2 L375.5,287.5 L382.5,287.5" fill="none" stroke="#141414" stroke-width="1.5" stroke-linejoin="round" stroke-linecap="round" />
<circle cx="370.0" cy="197.5" r="6.7" fill="#fff" stroke="#141414" stroke-width="1.9"/>
<text x="370.0" y="201.7" font-family="'Liberation Sans', sans-serif" font-size="11.8" text-anchor="middle" textLength="10.4" lengthAdjust="spacingAndGlyphs" fill="#141414" stroke="#141414" stroke-width="0.55">66</text>
<path d="M387.5,204.1 L393.7,235.0" fill="none" stroke="#141414" stroke-width="1.5" stroke-linejoin="round" stroke-linecap="round" />
<circle cx="386.2" cy="197.5" r="6.7" fill="#fff" stroke="#141414" stroke-width="1.9"/>
<text x="386.2" y="201.7" font-family="'Liberation Sans', sans-serif" font-size="11.8" text-anchor="middle" textLength="10.4" lengthAdjust="spacingAndGlyphs" fill="#141414" stroke="#141414" stroke-width="0.55">62</text>
<path d="M446.9,226.7 L447.5,260.0" fill="none" stroke="#141414" stroke-width="1.5" stroke-linejoin="round" stroke-linecap="round" />
<circle cx="446.8" cy="220.0" r="6.7" fill="#fff" stroke="#141414" stroke-width="1.9"/>
<text x="446.8" y="224.2" font-family="'Liberation Sans', sans-serif" font-size="11.8" text-anchor="middle" textLength="10.4" lengthAdjust="spacingAndGlyphs" fill="#141414" stroke="#141414" stroke-width="0.55">80</text>
<path d="M462.7,226.7 L463.7,255.0" fill="none" stroke="#141414" stroke-width="1.5" stroke-linejoin="round" stroke-linecap="round" />
<circle cx="462.5" cy="220.0" r="6.7" fill="#fff" stroke="#141414" stroke-width="1.9"/>
<text x="462.5" y="224.2" font-family="'Liberation Sans', sans-serif" font-size="11.8" text-anchor="middle" textLength="10.4" lengthAdjust="spacingAndGlyphs" fill="#141414" stroke="#141414" stroke-width="0.55">87</text>
<path d="M477.6,226.7 L475.0,257.5" fill="none" stroke="#141414" stroke-width="1.5" stroke-linejoin="round" stroke-linecap="round" />
<circle cx="478.2" cy="220.0" r="6.7" fill="#fff" stroke="#141414" stroke-width="1.9"/>
<text x="478.2" y="224.2" font-family="'Liberation Sans', sans-serif" font-size="11.8" text-anchor="middle" textLength="10.4" lengthAdjust="spacingAndGlyphs" fill="#141414" stroke="#141414" stroke-width="0.55">86</text>
<path d="M492.2,225.8 L481.2,245.0" fill="none" stroke="#141414" stroke-width="1.5" stroke-linejoin="round" stroke-linecap="round" />
<circle cx="495.5" cy="220.0" r="6.7" fill="#fff" stroke="#141414" stroke-width="1.9"/>
<text x="495.5" y="224.2" font-family="'Liberation Sans', sans-serif" font-size="11.8" text-anchor="middle" textLength="10.4" lengthAdjust="spacingAndGlyphs" fill="#141414" stroke="#141414" stroke-width="0.55">88</text>
<path d="M506.4,224.7 L487.5,243.0" fill="none" stroke="#141414" stroke-width="1.5" stroke-linejoin="round" stroke-linecap="round" />
<circle cx="511.2" cy="220.0" r="6.7" fill="#fff" stroke="#141414" stroke-width="1.9"/>
<text x="511.2" y="224.2" font-family="'Liberation Sans', sans-serif" font-size="11.8" text-anchor="middle" textLength="10.4" lengthAdjust="spacingAndGlyphs" fill="#141414" stroke="#141414" stroke-width="0.55">19</text>
<path d="M521.5,224.1 L497.5,242.5" fill="none" stroke="#141414" stroke-width="1.5" stroke-linejoin="round" stroke-linecap="round" />
<circle cx="526.8" cy="220.0" r="6.7" fill="#fff" stroke="#141414" stroke-width="1.9"/>
<text x="526.8" y="224.2" font-family="'Liberation Sans', sans-serif" font-size="11.8" text-anchor="middle" textLength="10.4" lengthAdjust="spacingAndGlyphs" fill="#141414" stroke="#141414" stroke-width="0.55">18</text>
<path d="M527.2,247.5 L500.0,250.0" fill="none" stroke="#141414" stroke-width="1.5" stroke-linejoin="round" stroke-linecap="round" />
<circle cx="534.2" cy="246.8" r="7" fill="#fff" stroke="#141414" stroke-width="1.6"/>
<text x="534.2" y="250.8" font-family="'Liberation Sans', sans-serif" font-size="11.2" text-anchor="middle" textLength="9.9" lengthAdjust="spacingAndGlyphs" fill="#141414" stroke="#141414" stroke-width="0.38">52</text>
<path d="M499.0,296.1 L475.0,286.2" fill="none" stroke="#141414" stroke-width="1.5" stroke-linejoin="round" stroke-linecap="round" />
<circle cx="505.5" cy="298.8" r="7" fill="#fff" stroke="#141414" stroke-width="1.6"/>
<text x="505.5" y="302.8" font-family="'Liberation Sans', sans-serif" font-size="11.2" text-anchor="middle" textLength="9.9" lengthAdjust="spacingAndGlyphs" fill="#141414" stroke="#141414" stroke-width="0.38">79</text>
<path d="M499.0,315.4 L450.0,296.2" fill="none" stroke="#141414" stroke-width="1.5" stroke-linejoin="round" stroke-linecap="round" />
<circle cx="505.5" cy="318.0" r="7" fill="#fff" stroke="#141414" stroke-width="1.6"/>
<text x="505.5" y="322.0" font-family="'Liberation Sans', sans-serif" font-size="11.2" text-anchor="middle" textLength="9.9" lengthAdjust="spacingAndGlyphs" fill="#141414" stroke="#141414" stroke-width="0.38">77</text>
<path d="M498.6,336.1 L425.0,347.5" fill="none" stroke="#141414" stroke-width="1.5" stroke-linejoin="round" stroke-linecap="round" />
<circle cx="505.5" cy="335.0" r="7" fill="#fff" stroke="#141414" stroke-width="1.6"/>
<text x="505.5" y="339.0" font-family="'Liberation Sans', sans-serif" font-size="11.2" text-anchor="middle" textLength="9.9" lengthAdjust="spacingAndGlyphs" fill="#141414" stroke="#141414" stroke-width="0.38">54</text>
<path d="M498.0,350.3 L420.0,354.2" fill="none" stroke="#141414" stroke-width="1.5" stroke-linejoin="round" stroke-linecap="round" />
<circle cx="505.0" cy="350.0" r="7" fill="#fff" stroke="#141414" stroke-width="1.6"/>
<text x="505.0" y="354.0" font-family="'Liberation Sans', sans-serif" font-size="11.2" text-anchor="middle" textLength="9.9" lengthAdjust="spacingAndGlyphs" fill="#141414" stroke="#141414" stroke-width="0.38">61</text>
<path d="M357.6,300.7 L375.0,296.2" fill="none" stroke="#141414" stroke-width="1.5" stroke-linejoin="round" stroke-linecap="round" />
<circle cx="350.8" cy="302.5" r="7" fill="#fff" stroke="#141414" stroke-width="1.6"/>
<text x="350.8" y="306.5" font-family="'Liberation Sans', sans-serif" font-size="11.2" text-anchor="middle" textLength="9.9" lengthAdjust="spacingAndGlyphs" fill="#141414" stroke="#141414" stroke-width="0.38">19</text>
<path d="M357.8,318.0 L417.5,316.2" fill="none" stroke="#141414" stroke-width="1.5" stroke-linejoin="round" stroke-linecap="round" />
<circle cx="350.8" cy="318.2" r="7" fill="#fff" stroke="#141414" stroke-width="1.6"/>
<text x="350.8" y="322.2" font-family="'Liberation Sans', sans-serif" font-size="11.2" text-anchor="middle" textLength="9.9" lengthAdjust="spacingAndGlyphs" fill="#141414" stroke="#141414" stroke-width="0.38">97</text>
<path d="M357.0,335.6 L396.2,334.5" fill="none" stroke="#141414" stroke-width="1.5" stroke-linejoin="round" stroke-linecap="round" />
<circle cx="350.0" cy="335.8" r="7" fill="#fff" stroke="#141414" stroke-width="1.6"/>
<text x="350.0" y="339.8" font-family="'Liberation Sans', sans-serif" font-size="11.2" text-anchor="middle" textLength="13.0" lengthAdjust="spacingAndGlyphs" fill="#141414" stroke="#141414" stroke-width="0.38">178</text>
<path d="M356.2,351.7 L402.5,350.7" fill="none" stroke="#141414" stroke-width="1.5" stroke-linejoin="round" stroke-linecap="round" />
<circle cx="349.2" cy="351.8" r="7" fill="#fff" stroke="#141414" stroke-width="1.6"/>
<text x="349.2" y="355.8" font-family="'Liberation Sans', sans-serif" font-size="11.2" text-anchor="middle" textLength="9.9" lengthAdjust="spacingAndGlyphs" fill="#141414" stroke="#141414" stroke-width="0.38">55</text>
<path d="M310.7,315.8 L339.6,281.0" fill="none" stroke="#141414" stroke-width="1.5" stroke-linejoin="round" stroke-linecap="round" />
<circle cx="306.2" cy="321.2" r="7" fill="#fff" stroke="#141414" stroke-width="1.6"/>
<text x="306.2" y="325.2" font-family="'Liberation Sans', sans-serif" font-size="11.2" text-anchor="middle" textLength="9.9" lengthAdjust="spacingAndGlyphs" fill="#141414" stroke="#141414" stroke-width="0.38">55</text>
<path d="M326.6,315.6 L352.0,281.0" fill="none" stroke="#141414" stroke-width="1.5" stroke-linejoin="round" stroke-linecap="round" />
<circle cx="322.5" cy="321.2" r="7" fill="#fff" stroke="#141414" stroke-width="1.6"/>
<text x="322.5" y="325.2" font-family="'Liberation Sans', sans-serif" font-size="11.2" text-anchor="middle" textLength="9.9" lengthAdjust="spacingAndGlyphs" fill="#141414" stroke="#141414" stroke-width="0.38">60</text>
<path d="M707.9,126.2 L721.0,160.0" fill="none" stroke="#141414" stroke-width="1.5" stroke-linejoin="round" stroke-linecap="round" />
<circle cx="705.5" cy="120.0" r="6.6" fill="#fff" stroke="#141414" stroke-width="1.9"/>
<text x="705.5" y="124.2" font-family="'Liberation Sans', sans-serif" font-size="11.8" text-anchor="middle" textLength="13.0" lengthAdjust="spacingAndGlyphs" fill="#141414" stroke="#141414" stroke-width="0.55">105</text>
<path d="M723.6,126.3 L734.0,162.5" fill="none" stroke="#141414" stroke-width="1.5" stroke-linejoin="round" stroke-linecap="round" />
<circle cx="721.8" cy="120.0" r="6.6" fill="#fff" stroke="#141414" stroke-width="1.9"/>
<text x="721.8" y="124.2" font-family="'Liberation Sans', sans-serif" font-size="11.8" text-anchor="middle" textLength="13.0" lengthAdjust="spacingAndGlyphs" fill="#141414" stroke="#141414" stroke-width="0.55">104</text>
<path d="M740.9,125.6 L758.0,153.7" fill="none" stroke="#141414" stroke-width="1.5" stroke-linejoin="round" stroke-linecap="round" />
<circle cx="737.5" cy="120.0" r="6.6" fill="#fff" stroke="#141414" stroke-width="1.9"/>
<text x="737.5" y="124.2" font-family="'Liberation Sans', sans-serif" font-size="11.8" text-anchor="middle" textLength="13.0" lengthAdjust="spacingAndGlyphs" fill="#141414" stroke="#141414" stroke-width="0.55">103</text>
<path d="M755.6,125.8 L774.5,161.0" fill="none" stroke="#141414" stroke-width="1.5" stroke-linejoin="round" stroke-linecap="round" />
<circle cx="752.5" cy="120.0" r="6.6" fill="#fff" stroke="#141414" stroke-width="1.9"/>
<text x="752.5" y="124.2" font-family="'Liberation Sans', sans-serif" font-size="11.8" text-anchor="middle" textLength="13.0" lengthAdjust="spacingAndGlyphs" fill="#141414" stroke="#141414" stroke-width="0.55">102</text>
<path d="M771.2,126.2 L785.0,162.5" fill="none" stroke="#141414" stroke-width="1.5" stroke-linejoin="round" stroke-linecap="round" />
<circle cx="768.8" cy="120.0" r="6.6" fill="#fff" stroke="#141414" stroke-width="1.9"/>
<text x="768.8" y="124.2" font-family="'Liberation Sans', sans-serif" font-size="11.8" text-anchor="middle" textLength="13.0" lengthAdjust="spacingAndGlyphs" fill="#141414" stroke="#141414" stroke-width="0.55">101</text>
<path d="M786.9,126.2 L797.5,153.7" fill="none" stroke="#141414" stroke-width="1.5" stroke-linejoin="round" stroke-linecap="round" />
<circle cx="784.5" cy="120.0" r="6.6" fill="#fff" stroke="#141414" stroke-width="1.9"/>
<text x="784.5" y="124.2" font-family="'Liberation Sans', sans-serif" font-size="11.8" text-anchor="middle" textLength="13.0" lengthAdjust="spacingAndGlyphs" fill="#141414" stroke="#141414" stroke-width="0.55">100</text>
<path d="M802.7,126.4 L811.0,162.5" fill="none" stroke="#141414" stroke-width="1.5" stroke-linejoin="round" stroke-linecap="round" />
<circle cx="801.2" cy="120.0" r="6.6" fill="#fff" stroke="#141414" stroke-width="1.9"/>
<text x="801.2" y="124.2" font-family="'Liberation Sans', sans-serif" font-size="11.8" text-anchor="middle" textLength="10.4" lengthAdjust="spacingAndGlyphs" fill="#141414" stroke="#141414" stroke-width="0.55">99</text>
<path d="M817.7,126.5 L821.7,154.2" fill="none" stroke="#141414" stroke-width="1.5" stroke-linejoin="round" stroke-linecap="round" />
<circle cx="816.8" cy="120.0" r="6.6" fill="#fff" stroke="#141414" stroke-width="1.9"/>
<text x="816.8" y="124.2" font-family="'Liberation Sans', sans-serif" font-size="11.8" text-anchor="middle" textLength="10.4" lengthAdjust="spacingAndGlyphs" fill="#141414" stroke="#141414" stroke-width="0.55">98</text>
<path d="M847.2,127.1 L848.0,150.0 L850.0,158.7" fill="none" stroke="#141414" stroke-width="1.5" stroke-linejoin="round" stroke-linecap="round" />
<circle cx="847.0" cy="120.5" r="6.6" fill="#fff" stroke="#141414" stroke-width="1.9"/>
<text x="847.0" y="124.7" font-family="'Liberation Sans', sans-serif" font-size="11.8" text-anchor="middle" textLength="13.0" lengthAdjust="spacingAndGlyphs" fill="#141414" stroke="#141414" stroke-width="0.55">107</text>
<path d="M865.7,126.3 L883.0,158.0" fill="none" stroke="#141414" stroke-width="1.5" stroke-linejoin="round" stroke-linecap="round" />
<circle cx="862.5" cy="120.5" r="6.6" fill="#fff" stroke="#141414" stroke-width="1.9"/>
<text x="862.5" y="124.7" font-family="'Liberation Sans', sans-serif" font-size="11.8" text-anchor="middle" textLength="13.0" lengthAdjust="spacingAndGlyphs" fill="#141414" stroke="#141414" stroke-width="0.55">109</text>
<path d="M878.6,127.6 L886.0,158.0" fill="none" stroke="#141414" stroke-width="1.5" stroke-linejoin="round" stroke-linecap="round" />
<circle cx="877.0" cy="121.2" r="6.6" fill="#fff" stroke="#141414" stroke-width="1.9"/>
<text x="877.0" y="125.4" font-family="'Liberation Sans', sans-serif" font-size="11.8" text-anchor="middle" textLength="13.0" lengthAdjust="spacingAndGlyphs" fill="#141414" stroke="#141414" stroke-width="0.55">108</text>
<path d="M893.4,127.4 L898.0,140.0" fill="none" stroke="#141414" stroke-width="1.5" stroke-linejoin="round" stroke-linecap="round" />
<circle cx="891.2" cy="121.2" r="6.6" fill="#fff" stroke="#141414" stroke-width="1.9"/>
<text x="891.2" y="125.4" font-family="'Liberation Sans', sans-serif" font-size="11.8" text-anchor="middle" textLength="13.0" lengthAdjust="spacingAndGlyphs" fill="#141414" stroke="#141414" stroke-width="0.55">167</text>
<path d="M851.0,186.1 L857.0,160.0" fill="none" stroke="#141414" stroke-width="1.5" stroke-linejoin="round" stroke-linecap="round" />
<circle cx="849.5" cy="192.5" r="6.6" fill="#fff" stroke="#141414" stroke-width="1.9"/>
<text x="849.5" y="196.7" font-family="'Liberation Sans', sans-serif" font-size="11.8" text-anchor="middle" textLength="13.0" lengthAdjust="spacingAndGlyphs" fill="#141414" stroke="#141414" stroke-width="0.55">179</text>
<path d="M864.2,185.9 L866.0,160.0" fill="none" stroke="#141414" stroke-width="1.5" stroke-linejoin="round" stroke-linecap="round" />
<circle cx="863.8" cy="192.5" r="6.6" fill="#fff" stroke="#141414" stroke-width="1.9"/>
<text x="863.8" y="196.7" font-family="'Liberation Sans', sans-serif" font-size="11.8" text-anchor="middle" textLength="10.4" lengthAdjust="spacingAndGlyphs" fill="#141414" stroke="#141414" stroke-width="0.55">28</text>
<path d="M876.8,185.9 L874.0,160.0" fill="none" stroke="#141414" stroke-width="1.5" stroke-linejoin="round" stroke-linecap="round" />
<circle cx="877.5" cy="192.5" r="6.6" fill="#fff" stroke="#141414" stroke-width="1.9"/>
<text x="877.5" y="196.7" font-family="'Liberation Sans', sans-serif" font-size="11.8" text-anchor="middle" textLength="10.4" lengthAdjust="spacingAndGlyphs" fill="#141414" stroke="#141414" stroke-width="0.55">29</text>
<path d="M891.2,89.9 L900.0,112.0" fill="none" stroke="#141414" stroke-width="1.5" stroke-linejoin="round" stroke-linecap="round" />
<circle cx="888.8" cy="83.8" r="6.6" fill="#fff" stroke="#141414" stroke-width="1.9"/>
<text x="888.8" y="88.0" font-family="'Liberation Sans', sans-serif" font-size="11.8" text-anchor="middle" textLength="13.0" lengthAdjust="spacingAndGlyphs" fill="#141414" stroke="#141414" stroke-width="0.55">106</text>
<path d="M906.5,90.2 L910.0,106.0" fill="none" stroke="#141414" stroke-width="1.5" stroke-linejoin="round" stroke-linecap="round" />
<circle cx="905.0" cy="83.8" r="6.6" fill="#fff" stroke="#141414" stroke-width="1.9"/>
<text x="905.0" y="88.0" font-family="'Liberation Sans', sans-serif" font-size="11.8" text-anchor="middle" textLength="13.0" lengthAdjust="spacingAndGlyphs" fill="#141414" stroke="#141414" stroke-width="0.55">168</text>
<path d="M923.8,89.5 L930.0,120.0" fill="none" stroke="#141414" stroke-width="1.5" stroke-linejoin="round" stroke-linecap="round" />
<circle cx="922.5" cy="83.0" r="6.6" fill="#fff" stroke="#141414" stroke-width="1.9"/>
<text x="922.5" y="87.2" font-family="'Liberation Sans', sans-serif" font-size="11.8" text-anchor="middle" textLength="10.4" lengthAdjust="spacingAndGlyphs" fill="#141414" stroke="#141414" stroke-width="0.55">24</text>
<path d="M942.3,90.8 L963.0,130.0" fill="none" stroke="#141414" stroke-width="1.5" stroke-linejoin="round" stroke-linecap="round" />
<circle cx="939.2" cy="85.0" r="6.6" fill="#fff" stroke="#141414" stroke-width="1.9"/>
<text x="939.2" y="89.2" font-family="'Liberation Sans', sans-serif" font-size="11.8" text-anchor="middle" textLength="13.0" lengthAdjust="spacingAndGlyphs" fill="#141414" stroke="#141414" stroke-width="0.55">125</text>
<path d="M958.3,91.0 L973.0,122.0" fill="none" stroke="#141414" stroke-width="1.5" stroke-linejoin="round" stroke-linecap="round" />
<circle cx="955.5" cy="85.0" r="6.6" fill="#fff" stroke="#141414" stroke-width="1.9"/>
<text x="955.5" y="89.2" font-family="'Liberation Sans', sans-serif" font-size="11.8" text-anchor="middle" textLength="13.0" lengthAdjust="spacingAndGlyphs" fill="#141414" stroke="#141414" stroke-width="0.55">131</text>
<path d="M975.4,91.1 L982.0,108.0" fill="none" stroke="#141414" stroke-width="1.5" stroke-linejoin="round" stroke-linecap="round" />
<circle cx="973.0" cy="85.0" r="6.6" fill="#fff" stroke="#141414" stroke-width="1.9"/>
<text x="973.0" y="89.2" font-family="'Liberation Sans', sans-serif" font-size="11.8" text-anchor="middle" textLength="13.0" lengthAdjust="spacingAndGlyphs" fill="#141414" stroke="#141414" stroke-width="0.55">134</text>
<path d="M994.6,63.4 L1018.0,65.0" fill="none" stroke="#141414" stroke-width="1.5" stroke-linejoin="round" stroke-linecap="round" />
<circle cx="988.0" cy="63.0" r="6.6" fill="#fff" stroke="#141414" stroke-width="1.9"/>
<text x="988.0" y="67.2" font-family="'Liberation Sans', sans-serif" font-size="11.8" text-anchor="middle" textLength="10.4" lengthAdjust="spacingAndGlyphs" fill="#141414" stroke="#141414" stroke-width="0.55">29</text>
<path d="M1051.6,63.9 L1042.0,63.0" fill="none" stroke="#141414" stroke-width="1.5" stroke-linejoin="round" stroke-linecap="round" />
<circle cx="1058.2" cy="64.5" r="6.6" fill="#fff" stroke="#141414" stroke-width="1.9"/>
<text x="1058.2" y="68.7" font-family="'Liberation Sans', sans-serif" font-size="11.8" text-anchor="middle" textLength="13.0" lengthAdjust="spacingAndGlyphs" fill="#141414" stroke="#141414" stroke-width="0.55">126</text>
<path d="M1074.7,82.2 L1040.0,103.0" fill="none" stroke="#141414" stroke-width="1.5" stroke-linejoin="round" stroke-linecap="round" />
<circle cx="1080.5" cy="78.8" r="6.7" fill="#fff" stroke="#141414" stroke-width="1.9"/>
<text x="1080.5" y="83.0" font-family="'Liberation Sans', sans-serif" font-size="11.8" text-anchor="middle" textLength="13.2" lengthAdjust="spacingAndGlyphs" fill="#141414" stroke="#141414" stroke-width="0.55">133</text>
<path d="M1074.6,101.2 L1033.0,124.0" fill="none" stroke="#141414" stroke-width="1.5" stroke-linejoin="round" stroke-linecap="round" />
<circle cx="1080.5" cy="98.0" r="6.7" fill="#fff" stroke="#141414" stroke-width="1.9"/>
<text x="1080.5" y="102.2" font-family="'Liberation Sans', sans-serif" font-size="11.8" text-anchor="middle" textLength="13.2" lengthAdjust="spacingAndGlyphs" fill="#141414" stroke="#141414" stroke-width="0.55">146</text>
<path d="M1073.3,120.0 L1040.0,138.0" fill="none" stroke="#141414" stroke-width="1.5" stroke-linejoin="round" stroke-linecap="round" />
<circle cx="1079.2" cy="116.8" r="6.7" fill="#fff" stroke="#141414" stroke-width="1.9"/>
<text x="1079.2" y="121.0" font-family="'Liberation Sans', sans-serif" font-size="11.8" text-anchor="middle" textLength="13.2" lengthAdjust="spacingAndGlyphs" fill="#141414" stroke="#141414" stroke-width="0.55">132</text>
<path d="M1074.6,144.3 L1064.0,133.0" fill="none" stroke="#141414" stroke-width="1.5" stroke-linejoin="round" stroke-linecap="round" />
<circle cx="1079.2" cy="149.2" r="6.7" fill="#fff" stroke="#141414" stroke-width="1.9"/>
<text x="1079.2" y="153.4" font-family="'Liberation Sans', sans-serif" font-size="11.8" text-anchor="middle" textLength="13.2" lengthAdjust="spacingAndGlyphs" fill="#141414" stroke="#141414" stroke-width="0.55">129</text>
<path d="M1073.9,157.9 L1058.0,143.0" fill="none" stroke="#141414" stroke-width="1.5" stroke-linejoin="round" stroke-linecap="round" />
<circle cx="1078.8" cy="162.5" r="6.7" fill="#fff" stroke="#141414" stroke-width="1.9"/>
<text x="1078.8" y="166.7" font-family="'Liberation Sans', sans-serif" font-size="11.8" text-anchor="middle" textLength="13.2" lengthAdjust="spacingAndGlyphs" fill="#141414" stroke="#141414" stroke-width="0.55">128</text>
<path d="M1062.9,176.9 L1045.0,158.0" fill="none" stroke="#141414" stroke-width="1.5" stroke-linejoin="round" stroke-linecap="round" />
<circle cx="1067.5" cy="181.8" r="6.7" fill="#fff" stroke="#141414" stroke-width="1.9"/>
<text x="1067.5" y="186.0" font-family="'Liberation Sans', sans-serif" font-size="11.8" text-anchor="middle" textLength="13.2" lengthAdjust="spacingAndGlyphs" fill="#141414" stroke="#141414" stroke-width="0.55">127</text>
<path d="M1045.9,190.4 L1040.0,180.0" fill="none" stroke="#141414" stroke-width="1.5" stroke-linejoin="round" stroke-linecap="round" />
<circle cx="1049.2" cy="196.2" r="6.7" fill="#fff" stroke="#141414" stroke-width="1.9"/>
<text x="1049.2" y="200.4" font-family="'Liberation Sans', sans-serif" font-size="11.8" text-anchor="middle" textLength="10.4" lengthAdjust="spacingAndGlyphs" fill="#141414" stroke="#141414" stroke-width="0.55">29</text>
<path d="M1034.4,198.5 L1032.0,190.0" fill="none" stroke="#141414" stroke-width="1.5" stroke-linejoin="round" stroke-linecap="round" />
<circle cx="1036.2" cy="205.0" r="6.7" fill="#fff" stroke="#141414" stroke-width="1.9"/>
<text x="1036.2" y="209.2" font-family="'Liberation Sans', sans-serif" font-size="11.8" text-anchor="middle" textLength="13.2" lengthAdjust="spacingAndGlyphs" fill="#141414" stroke="#141414" stroke-width="0.55">126</text>
<path d="M1016.0,121.8 L1022.0,112.0" fill="none" stroke="#141414" stroke-width="1.5" stroke-linejoin="round" stroke-linecap="round" />
<circle cx="1012.5" cy="127.5" r="6.7" fill="#fff" stroke="#141414" stroke-width="1.9"/>
<text x="1012.5" y="131.7" font-family="'Liberation Sans', sans-serif" font-size="11.8" text-anchor="middle" textLength="13.2" lengthAdjust="spacingAndGlyphs" fill="#141414" stroke="#141414" stroke-width="0.55">130</text>
<path d="M963.5,145.5 L992.0,153.0" fill="none" stroke="#141414" stroke-width="1.5" stroke-linejoin="round" stroke-linecap="round" />
<circle cx="957.0" cy="143.8" r="6.7" fill="#fff" stroke="#141414" stroke-width="1.9"/>
<text x="957.0" y="148.0" font-family="'Liberation Sans', sans-serif" font-size="11.8" text-anchor="middle" textLength="13.2" lengthAdjust="spacingAndGlyphs" fill="#141414" stroke="#141414" stroke-width="0.55">110</text>
<path d="M963.7,160.1 L995.0,163.0" fill="none" stroke="#141414" stroke-width="1.5" stroke-linejoin="round" stroke-linecap="round" />
<circle cx="957.0" cy="159.5" r="6.7" fill="#fff" stroke="#141414" stroke-width="1.9"/>
<text x="957.0" y="163.7" font-family="'Liberation Sans', sans-serif" font-size="11.8" text-anchor="middle" textLength="10.4" lengthAdjust="spacingAndGlyphs" fill="#141414" stroke="#141414" stroke-width="0.55">29</text>
<path d="M963.7,173.8 L990.0,174.0" fill="none" stroke="#141414" stroke-width="1.5" stroke-linejoin="round" stroke-linecap="round" />
<circle cx="957.0" cy="173.8" r="6.7" fill="#fff" stroke="#141414" stroke-width="1.9"/>
<text x="957.0" y="178.0" font-family="'Liberation Sans', sans-serif" font-size="11.8" text-anchor="middle" textLength="13.2" lengthAdjust="spacingAndGlyphs" fill="#141414" stroke="#141414" stroke-width="0.55">126</text>
<path d="M963.6,186.5 L992.0,182.0" fill="none" stroke="#141414" stroke-width="1.5" stroke-linejoin="round" stroke-linecap="round" />
<circle cx="957.0" cy="187.5" r="6.7" fill="#fff" stroke="#141414" stroke-width="1.9"/>
<text x="957.0" y="191.7" font-family="'Liberation Sans', sans-serif" font-size="11.8" text-anchor="middle" textLength="13.2" lengthAdjust="spacingAndGlyphs" fill="#141414" stroke="#141414" stroke-width="0.55">123</text>
<path d="M963.5,202.3 L996.0,195.0" fill="none" stroke="#141414" stroke-width="1.5" stroke-linejoin="round" stroke-linecap="round" />
<circle cx="957.0" cy="203.8" r="6.7" fill="#fff" stroke="#141414" stroke-width="1.9"/>
<text x="957.0" y="208.0" font-family="'Liberation Sans', sans-serif" font-size="11.8" text-anchor="middle" textLength="13.2" lengthAdjust="spacingAndGlyphs" fill="#141414" stroke="#141414" stroke-width="0.55">122</text>
<path d="M963.6,218.7 L1003.0,211.0" fill="none" stroke="#141414" stroke-width="1.5" stroke-linejoin="round" stroke-linecap="round" />
<circle cx="957.0" cy="220.0" r="6.7" fill="#fff" stroke="#141414" stroke-width="1.9"/>
<text x="957.0" y="224.2" font-family="'Liberation Sans', sans-serif" font-size="11.8" text-anchor="middle" textLength="13.2" lengthAdjust="spacingAndGlyphs" fill="#141414" stroke="#141414" stroke-width="0.55">121</text>
<path d="M760.8,275.7 L747.5,243.7" fill="none" stroke="#141414" stroke-width="1.5" stroke-linejoin="round" stroke-linecap="round" />
<circle cx="764.2" cy="283.8" r="8.8" fill="#fff" stroke="#141414" stroke-width="1.7"/>
<text x="764.2" y="288.3" font-family="'Liberation Sans', sans-serif" font-size="12.5" text-anchor="middle" textLength="14.5" lengthAdjust="spacingAndGlyphs" fill="#141414" stroke="#141414" stroke-width="0.5">112</text>
<path d="M782.6,275.3 L776.0,252.5" fill="none" stroke="#141414" stroke-width="1.5" stroke-linejoin="round" stroke-linecap="round" />
<circle cx="785.0" cy="283.8" r="8.8" fill="#fff" stroke="#141414" stroke-width="1.7"/>
<text x="785.0" y="288.3" font-family="'Liberation Sans', sans-serif" font-size="12.5" text-anchor="middle" textLength="14.5" lengthAdjust="spacingAndGlyphs" fill="#141414" stroke="#141414" stroke-width="0.5">113</text>
<path d="M805.3,274.5 L813.0,245.5" fill="none" stroke="#141414" stroke-width="1.5" stroke-linejoin="round" stroke-linecap="round" />
<circle cx="803.0" cy="283.0" r="8.8" fill="#fff" stroke="#141414" stroke-width="1.7"/>
<text x="803.0" y="287.5" font-family="'Liberation Sans', sans-serif" font-size="12.5" text-anchor="middle" textLength="14.5" lengthAdjust="spacingAndGlyphs" fill="#141414" stroke="#141414" stroke-width="0.5">114</text>
<path d="M846.5,274.4 L851.0,255.0" fill="none" stroke="#141414" stroke-width="1.5" stroke-linejoin="round" stroke-linecap="round" />
<circle cx="844.5" cy="283.0" r="8.8" fill="#fff" stroke="#141414" stroke-width="1.7"/>
<text x="844.5" y="287.5" font-family="'Liberation Sans', sans-serif" font-size="12.5" text-anchor="middle" textLength="14.5" lengthAdjust="spacingAndGlyphs" fill="#141414" stroke="#141414" stroke-width="0.5">115</text>
<path d="M863.9,274.2 L868.0,233.7" fill="none" stroke="#141414" stroke-width="1.5" stroke-linejoin="round" stroke-linecap="round" />
<circle cx="863.0" cy="283.0" r="8.8" fill="#fff" stroke="#141414" stroke-width="1.7"/>
<text x="863.0" y="287.5" font-family="'Liberation Sans', sans-serif" font-size="12.5" text-anchor="middle" textLength="14.5" lengthAdjust="spacingAndGlyphs" fill="#141414" stroke="#141414" stroke-width="0.5">117</text>
<path d="M899.0,273.9 L893.0,246.0" fill="none" stroke="#141414" stroke-width="1.5" stroke-linejoin="round" stroke-linecap="round" />
<circle cx="900.8" cy="282.5" r="8.8" fill="#fff" stroke="#141414" stroke-width="1.7"/>
<text x="900.8" y="287.0" font-family="'Liberation Sans', sans-serif" font-size="12.5" text-anchor="middle" textLength="14.5" lengthAdjust="spacingAndGlyphs" fill="#141414" stroke="#141414" stroke-width="0.5">116</text>
<path d="M920.2,291.7 L918.0,312.0" fill="none" stroke="#141414" stroke-width="1.5" stroke-linejoin="round" stroke-linecap="round" />
<circle cx="921.2" cy="283.0" r="8.8" fill="#fff" stroke="#141414" stroke-width="1.7"/>
<text x="921.2" y="287.5" font-family="'Liberation Sans', sans-serif" font-size="12.5" text-anchor="middle" textLength="14.5" lengthAdjust="spacingAndGlyphs" fill="#141414" stroke="#141414" stroke-width="0.5">135</text>
<path d="M938.6,273.5 L933.0,252.0" fill="none" stroke="#141414" stroke-width="1.5" stroke-linejoin="round" stroke-linecap="round" />
<circle cx="940.8" cy="282.0" r="8.8" fill="#fff" stroke="#141414" stroke-width="1.7"/>
<text x="940.8" y="286.5" font-family="'Liberation Sans', sans-serif" font-size="12.5" text-anchor="middle" textLength="14.5" lengthAdjust="spacingAndGlyphs" fill="#141414" stroke="#141414" stroke-width="0.5">118</text>
<path d="M965.6,302.6 L985.0,262.0" fill="none" stroke="#141414" stroke-width="1.5" stroke-linejoin="round" stroke-linecap="round" />
<circle cx="961.8" cy="310.5" r="8.8" fill="#fff" stroke="#141414" stroke-width="1.7"/>
<text x="961.8" y="315.0" font-family="'Liberation Sans', sans-serif" font-size="12.5" text-anchor="middle" textLength="14.5" lengthAdjust="spacingAndGlyphs" fill="#141414" stroke="#141414" stroke-width="0.5">119</text>
<path d="M980.0,306.0 L992.0,262.0" fill="none" stroke="#141414" stroke-width="1.5" stroke-linejoin="round" stroke-linecap="round" />
<circle cx="978.2" cy="312.5" r="6.7" fill="#fff" stroke="#141414" stroke-width="1.9"/>
<text x="978.2" y="316.7" font-family="'Liberation Sans', sans-serif" font-size="11.8" text-anchor="middle" textLength="10.4" lengthAdjust="spacingAndGlyphs" fill="#141414" stroke="#141414" stroke-width="0.55">19</text>
<path d="M997.4,301.7 L1000.0,262.0" fill="none" stroke="#141414" stroke-width="1.5" stroke-linejoin="round" stroke-linecap="round" />
<circle cx="996.8" cy="310.5" r="8.8" fill="#fff" stroke="#141414" stroke-width="1.7"/>
<text x="996.8" y="315.0" font-family="'Liberation Sans', sans-serif" font-size="12.5" text-anchor="middle" textLength="14.5" lengthAdjust="spacingAndGlyphs" fill="#141414" stroke="#141414" stroke-width="0.5">120</text>
<path d="M1019.1,302.2 L1032.0,265.0" fill="none" stroke="#141414" stroke-width="1.5" stroke-linejoin="round" stroke-linecap="round" />
<circle cx="1016.2" cy="310.5" r="8.8" fill="#fff" stroke="#141414" stroke-width="1.7"/>
<text x="1016.2" y="315.0" font-family="'Liberation Sans', sans-serif" font-size="12.5" text-anchor="middle" textLength="14.5" lengthAdjust="spacingAndGlyphs" fill="#141414" stroke="#141414" stroke-width="0.5">121</text>
<path d="M1036.3,301.7 L1038.0,275.0" fill="none" stroke="#141414" stroke-width="1.5" stroke-linejoin="round" stroke-linecap="round" />
<circle cx="1035.8" cy="310.5" r="8.8" fill="#fff" stroke="#141414" stroke-width="1.7"/>
<text x="1035.8" y="315.0" font-family="'Liberation Sans', sans-serif" font-size="12.5" text-anchor="middle" textLength="14.5" lengthAdjust="spacingAndGlyphs" fill="#141414" stroke="#141414" stroke-width="0.5">122</text>
<path d="M1053.0,302.9 L1046.0,291.0" fill="none" stroke="#141414" stroke-width="1.5" stroke-linejoin="round" stroke-linecap="round" />
<circle cx="1057.5" cy="310.5" r="8.8" fill="#fff" stroke="#141414" stroke-width="1.7"/>
<text x="1057.5" y="315.0" font-family="'Liberation Sans', sans-serif" font-size="12.5" text-anchor="middle" textLength="14.5" lengthAdjust="spacingAndGlyphs" fill="#141414" stroke="#141414" stroke-width="0.5">123</text>
<path d="M1084.4,307.5 L1079.0,250.0 L1077.5,247.5" fill="none" stroke="#141414" stroke-width="1.5" stroke-linejoin="round" stroke-linecap="round" />
<circle cx="1085.0" cy="314.2" r="6.7" fill="#fff" stroke="#141414" stroke-width="1.9"/>
<text x="1085.0" y="318.4" font-family="'Liberation Sans', sans-serif" font-size="11.8" text-anchor="middle" textLength="13.2" lengthAdjust="spacingAndGlyphs" fill="#141414" stroke="#141414" stroke-width="0.55">125</text>
<path d="M1059.6,276.7 L1053.0,258.0" fill="none" stroke="#141414" stroke-width="1.5" stroke-linejoin="round" stroke-linecap="round" />
<circle cx="1061.8" cy="283.0" r="6.7" fill="#fff" stroke="#141414" stroke-width="1.9"/>
<text x="1061.8" y="287.2" font-family="'Liberation Sans', sans-serif" font-size="11.8" text-anchor="middle" textLength="13.2" lengthAdjust="spacingAndGlyphs" fill="#141414" stroke="#141414" stroke-width="0.55">124</text>
<path d="M109.8,421.4 L183.0,485.0" fill="none" stroke="#141414" stroke-width="1.5" stroke-linejoin="round" stroke-linecap="round" />
<circle cx="103.8" cy="416.2" r="8" fill="#fff" stroke="#141414" stroke-width="1.9"/>
<text x="103.8" y="420.5" font-family="'Liberation Sans', sans-serif" font-size="12.0" text-anchor="middle" textLength="6.7" lengthAdjust="spacingAndGlyphs" fill="#141414" stroke="#141414" stroke-width="0.5">6</text>
<path d="M128.4,421.2 L183.5,471.2" fill="none" stroke="#141414" stroke-width="1.5" stroke-linejoin="round" stroke-linecap="round" />
<circle cx="122.5" cy="415.8" r="8" fill="#fff" stroke="#141414" stroke-width="1.9"/>
<text x="122.5" y="420.1" font-family="'Liberation Sans', sans-serif" font-size="12.0" text-anchor="middle" textLength="6.7" lengthAdjust="spacingAndGlyphs" fill="#141414" stroke="#141414" stroke-width="0.5">5</text>
<path d="M148.7,420.1 L184.0,449.0" fill="none" stroke="#141414" stroke-width="1.5" stroke-linejoin="round" stroke-linecap="round" />
<circle cx="142.5" cy="415.0" r="8" fill="#fff" stroke="#141414" stroke-width="1.9"/>
<text x="142.5" y="419.3" font-family="'Liberation Sans', sans-serif" font-size="12.0" text-anchor="middle" textLength="6.7" lengthAdjust="spacingAndGlyphs" fill="#141414" stroke="#141414" stroke-width="0.5">4</text>
<path d="M171.4,421.2 L196.2,446.2" fill="none" stroke="#141414" stroke-width="1.5" stroke-linejoin="round" stroke-linecap="round" />
<circle cx="165.8" cy="415.5" r="8" fill="#fff" stroke="#141414" stroke-width="1.9"/>
<text x="165.8" y="419.8" font-family="'Liberation Sans', sans-serif" font-size="12.0" text-anchor="middle" textLength="6.7" lengthAdjust="spacingAndGlyphs" fill="#141414" stroke="#141414" stroke-width="0.5">1</text>
<path d="M219.3,421.5 L203.7,457.5" fill="none" stroke="#141414" stroke-width="1.5" stroke-linejoin="round" stroke-linecap="round" />
<path d="M227.2,420.7 L253.7,457.5" fill="none" stroke="#141414" stroke-width="1.5" stroke-linejoin="round" stroke-linecap="round" />
<circle cx="222.5" cy="414.2" r="8" fill="#fff" stroke="#141414" stroke-width="1.9"/>
<text x="222.5" y="418.5" font-family="'Liberation Sans', sans-serif" font-size="12.0" text-anchor="middle" textLength="6.7" lengthAdjust="spacingAndGlyphs" fill="#141414" stroke="#141414" stroke-width="0.5">2</text>
<path d="M260.4,422.1 L256.2,445.0" fill="none" stroke="#141414" stroke-width="1.5" stroke-linejoin="round" stroke-linecap="round" />
<circle cx="261.8" cy="414.2" r="8" fill="#fff" stroke="#141414" stroke-width="1.9"/>
<text x="261.8" y="418.5" font-family="'Liberation Sans', sans-serif" font-size="12.0" text-anchor="middle" textLength="6.7" lengthAdjust="spacingAndGlyphs" fill="#141414" stroke="#141414" stroke-width="0.5">1</text>
<path d="M278.3,422.6 L270.0,447.5" fill="none" stroke="#141414" stroke-width="1.5" stroke-linejoin="round" stroke-linecap="round" />
<path d="M279.7,422.9 L276.2,447.5" fill="none" stroke="#141414" stroke-width="1.5" stroke-linejoin="round" stroke-linecap="round" />
<circle cx="280.8" cy="415.0" r="8" fill="#fff" stroke="#141414" stroke-width="1.9"/>
<text x="280.8" y="419.3" font-family="'Liberation Sans', sans-serif" font-size="12.0" text-anchor="middle" textLength="6.7" lengthAdjust="spacingAndGlyphs" fill="#141414" stroke="#141414" stroke-width="0.5">4</text>
<path d="M218.8,460.1 L197.5,483.7" fill="none" stroke="#141414" stroke-width="1.5" stroke-linejoin="round" stroke-linecap="round" />
<circle cx="224.2" cy="454.2" r="8" fill="#fff" stroke="#141414" stroke-width="1.9"/>
<text x="224.2" y="458.5" font-family="'Liberation Sans', sans-serif" font-size="12.0" text-anchor="middle" textLength="6.7" lengthAdjust="spacingAndGlyphs" fill="#141414" stroke="#141414" stroke-width="0.5">3</text>
<path d="M303.7,439.9 L277.5,471.2" fill="none" stroke="#141414" stroke-width="1.5" stroke-linejoin="round" stroke-linecap="round" />
<circle cx="309.5" cy="433.0" r="9" fill="#fff" stroke="#141414" stroke-width="1.9"/>
<text x="309.5" y="437.3" font-family="'Liberation Sans', sans-serif" font-size="12.0" text-anchor="middle" textLength="6.7" lengthAdjust="spacingAndGlyphs" fill="#141414" stroke="#141414" stroke-width="0.5">5</text>
<path d="M302.9,462.4 L277.5,486.2" fill="none" stroke="#141414" stroke-width="1.5" stroke-linejoin="round" stroke-linecap="round" />
<circle cx="309.5" cy="456.2" r="9" fill="#fff" stroke="#141414" stroke-width="1.9"/>
<text x="309.5" y="460.5" font-family="'Liberation Sans', sans-serif" font-size="12.0" text-anchor="middle" textLength="6.7" lengthAdjust="spacingAndGlyphs" fill="#141414" stroke="#141414" stroke-width="0.5">6</text>
<path d="M301.6,483.2 L261.2,501.7" fill="none" stroke="#141414" stroke-width="1.5" stroke-linejoin="round" stroke-linecap="round" />
<circle cx="309.8" cy="479.5" r="9" fill="#fff" stroke="#141414" stroke-width="1.9"/>
<text x="309.8" y="483.8" font-family="'Liberation Sans', sans-serif" font-size="12.0" text-anchor="middle" textLength="6.7" lengthAdjust="spacingAndGlyphs" fill="#141414" stroke="#141414" stroke-width="0.5">7</text>
<path d="M301.9,506.0 L258.7,530.0" fill="none" stroke="#141414" stroke-width="1.5" stroke-linejoin="round" stroke-linecap="round" />
<circle cx="309.8" cy="501.6" r="9" fill="#fff" stroke="#141414" stroke-width="1.9"/>
<text x="309.8" y="505.9" font-family="'Liberation Sans', sans-serif" font-size="12.0" text-anchor="middle" textLength="6.7" lengthAdjust="spacingAndGlyphs" fill="#141414" stroke="#141414" stroke-width="0.5">8</text>
<path d="M111.8,482.4 L155.0,507.5" fill="none" stroke="#141414" stroke-width="1.5" stroke-linejoin="round" stroke-linecap="round" />
<circle cx="104.2" cy="478.0" r="8.8" fill="#fff" stroke="#141414" stroke-width="1.9"/>
<text x="104.2" y="482.3" font-family="'Liberation Sans', sans-serif" font-size="12.0" text-anchor="middle" textLength="13.9" lengthAdjust="spacingAndGlyphs" fill="#141414" stroke="#141414" stroke-width="0.5">137</text>
<path d="M229.9,478.4 L253.7,482.5" fill="none" stroke="#141414" stroke-width="1.5" stroke-linejoin="round" stroke-linecap="round" />
<circle cx="222.0" cy="477.0" r="8" fill="#fff" stroke="#141414" stroke-width="1.9"/>
<text x="222.0" y="481.3" font-family="'Liberation Sans', sans-serif" font-size="12.0" text-anchor="middle" textLength="13.9" lengthAdjust="spacingAndGlyphs" fill="#141414" stroke="#141414" stroke-width="0.5">169</text>
<path d="M98.6,526.1 L195.0,556.2" fill="none" stroke="#141414" stroke-width="1.5" stroke-linejoin="round" stroke-linecap="round" />
<circle cx="90.0" cy="523.4" r="9" fill="#fff" stroke="#141414" stroke-width="1.9"/>
<text x="90.0" y="527.7" font-family="'Liberation Sans', sans-serif" font-size="12.0" text-anchor="middle" textLength="6.7" lengthAdjust="spacingAndGlyphs" fill="#141414" stroke="#141414" stroke-width="0.5">1</text>
<path d="M98.5,547.2 L200.0,583.0" fill="none" stroke="#141414" stroke-width="1.5" stroke-linejoin="round" stroke-linecap="round" />
<circle cx="90.0" cy="544.2" r="9" fill="#fff" stroke="#141414" stroke-width="1.9"/>
<text x="90.0" y="548.5" font-family="'Liberation Sans', sans-serif" font-size="12.0" text-anchor="middle" textLength="10.6" lengthAdjust="spacingAndGlyphs" fill="#141414" stroke="#141414" stroke-width="0.5">11</text>
<path d="M97.9,568.4 L180.0,612.0" fill="none" stroke="#141414" stroke-width="1.5" stroke-linejoin="round" stroke-linecap="round" />
<circle cx="90.0" cy="564.2" r="9" fill="#fff" stroke="#141414" stroke-width="1.9"/>
<text x="90.0" y="568.5" font-family="'Liberation Sans', sans-serif" font-size="12.0" text-anchor="middle" textLength="10.6" lengthAdjust="spacingAndGlyphs" fill="#141414" stroke="#141414" stroke-width="0.5">12</text>
<path d="M98.4,586.2 L183.0,618.0" fill="none" stroke="#141414" stroke-width="1.5" stroke-linejoin="round" stroke-linecap="round" />
<circle cx="90.0" cy="583.0" r="9" fill="#fff" stroke="#141414" stroke-width="1.9"/>
<text x="90.0" y="587.3" font-family="'Liberation Sans', sans-serif" font-size="12.0" text-anchor="middle" textLength="10.6" lengthAdjust="spacingAndGlyphs" fill="#141414" stroke="#141414" stroke-width="0.5">14</text>
<path d="M97.8,620.1 L158.0,668.0" fill="none" stroke="#141414" stroke-width="1.5" stroke-linejoin="round" stroke-linecap="round" />
<path d="M99.1,618.0 L198.0,659.0" fill="none" stroke="#141414" stroke-width="1.5" stroke-linejoin="round" stroke-linecap="round" />
<circle cx="90.8" cy="614.5" r="9" fill="#fff" stroke="#141414" stroke-width="1.9"/>
<text x="90.8" y="618.8" font-family="'Liberation Sans', sans-serif" font-size="12.0" text-anchor="middle" textLength="13.9" lengthAdjust="spacingAndGlyphs" fill="#141414" stroke="#141414" stroke-width="0.5">142</text>
<path d="M300.8,545.3 L237.5,567.5" fill="none" stroke="#141414" stroke-width="1.5" stroke-linejoin="round" stroke-linecap="round" />
<circle cx="309.3" cy="542.3" r="9" fill="#fff" stroke="#141414" stroke-width="1.9"/>
<text x="309.3" y="546.6" font-family="'Liberation Sans', sans-serif" font-size="12.0" text-anchor="middle" textLength="6.7" lengthAdjust="spacingAndGlyphs" fill="#141414" stroke="#141414" stroke-width="0.5">9</text>
<path d="M301.2,568.0 L258.0,593.0" fill="none" stroke="#141414" stroke-width="1.5" stroke-linejoin="round" stroke-linecap="round" />
<circle cx="309.0" cy="563.5" r="9" fill="#fff" stroke="#141414" stroke-width="1.9"/>
<text x="309.0" y="567.8" font-family="'Liberation Sans', sans-serif" font-size="12.0" text-anchor="middle" textLength="10.6" lengthAdjust="spacingAndGlyphs" fill="#141414" stroke="#141414" stroke-width="0.5">10</text>
<path d="M300.2,593.7 L235.0,613.0" fill="none" stroke="#141414" stroke-width="1.5" stroke-linejoin="round" stroke-linecap="round" />
<circle cx="308.8" cy="591.2" r="9" fill="#fff" stroke="#141414" stroke-width="1.9"/>
<text x="308.8" y="595.5" font-family="'Liberation Sans', sans-serif" font-size="12.0" text-anchor="middle" textLength="10.6" lengthAdjust="spacingAndGlyphs" fill="#141414" stroke="#141414" stroke-width="0.5">12</text>
<path d="M302.4,617.6 L283.0,637.0" fill="none" stroke="#141414" stroke-width="1.5" stroke-linejoin="round" stroke-linecap="round" />
<circle cx="308.8" cy="611.2" r="9" fill="#fff" stroke="#141414" stroke-width="1.9"/>
<text x="308.8" y="615.5" font-family="'Liberation Sans', sans-serif" font-size="12.0" text-anchor="middle" textLength="10.6" lengthAdjust="spacingAndGlyphs" fill="#141414" stroke="#141414" stroke-width="0.5">16</text>
<path d="M313.3,644.0 L288.0,667.0" fill="none" stroke="#141414" stroke-width="1.5" stroke-linejoin="round" stroke-linecap="round" />
<circle cx="320.0" cy="638.0" r="9" fill="#fff" stroke="#141414" stroke-width="1.9"/>
<text x="320.0" y="642.3" font-family="'Liberation Sans', sans-serif" font-size="12.0" text-anchor="middle" textLength="13.9" lengthAdjust="spacingAndGlyphs" fill="#141414" stroke="#141414" stroke-width="0.5">153</text>
<path d="M311.5,663.4 L277.0,675.0" fill="none" stroke="#141414" stroke-width="1.5" stroke-linejoin="round" stroke-linecap="round" />
<circle cx="320.0" cy="660.5" r="9" fill="#fff" stroke="#141414" stroke-width="1.9"/>
<text x="320.0" y="664.8" font-family="'Liberation Sans', sans-serif" font-size="12.0" text-anchor="middle" textLength="10.6" lengthAdjust="spacingAndGlyphs" fill="#141414" stroke="#141414" stroke-width="0.5">33</text>
<path d="M311.1,682.2 L290.0,685.5" fill="none" stroke="#141414" stroke-width="1.5" stroke-linejoin="round" stroke-linecap="round" />
<circle cx="320.0" cy="680.8" r="9" fill="#fff" stroke="#141414" stroke-width="1.9"/>
<text x="320.0" y="685.1" font-family="'Liberation Sans', sans-serif" font-size="12.0" text-anchor="middle" textLength="13.9" lengthAdjust="spacingAndGlyphs" fill="#141414" stroke="#141414" stroke-width="0.5">142</text>
<path d="M310.8,700.9 L263.0,688.0" fill="none" stroke="#141414" stroke-width="1.5" stroke-linejoin="round" stroke-linecap="round" />
<circle cx="319.5" cy="703.2" r="9" fill="#fff" stroke="#141414" stroke-width="1.9"/>
<text x="319.5" y="707.5" font-family="'Liberation Sans', sans-serif" font-size="12.0" text-anchor="middle" textLength="10.6" lengthAdjust="spacingAndGlyphs" fill="#141414" stroke="#141414" stroke-width="0.5">13</text>
<path d="M197.4,677.9 L214.0,684.0" fill="none" stroke="#141414" stroke-width="1.5" stroke-linejoin="round" stroke-linecap="round" />
<circle cx="190.8" cy="675.5" r="7" fill="#fff" stroke="#141414" stroke-width="1.9"/>
<text x="190.8" y="679.6" font-family="'Liberation Sans', sans-serif" font-size="11.5" text-anchor="middle" textLength="10.1" lengthAdjust="spacingAndGlyphs" fill="#141414" stroke="#141414" stroke-width="0.5">30</text>
<path d="M196.7,694.6 L214.0,700.0" fill="none" stroke="#141414" stroke-width="1.5" stroke-linejoin="round" stroke-linecap="round" />
<circle cx="190.0" cy="692.5" r="7" fill="#fff" stroke="#141414" stroke-width="1.9"/>
<text x="190.0" y="696.6" font-family="'Liberation Sans', sans-serif" font-size="11.5" text-anchor="middle" textLength="10.1" lengthAdjust="spacingAndGlyphs" fill="#141414" stroke="#141414" stroke-width="0.5">29</text>
<path d="M196.5,709.9 L214.0,703.0" fill="none" stroke="#141414" stroke-width="1.5" stroke-linejoin="round" stroke-linecap="round" />
<circle cx="190.0" cy="712.5" r="7" fill="#fff" stroke="#141414" stroke-width="1.9"/>
<text x="190.0" y="716.6" font-family="'Liberation Sans', sans-serif" font-size="11.5" text-anchor="middle" textLength="10.1" lengthAdjust="spacingAndGlyphs" fill="#141414" stroke="#141414" stroke-width="0.5">28</text>
<path d="M231.6,715.3 L227.0,700.0" fill="none" stroke="#141414" stroke-width="1.5" stroke-linejoin="round" stroke-linecap="round" />
<circle cx="233.8" cy="722.5" r="7.5" fill="#fff" stroke="#141414" stroke-width="1.9"/>
<text x="233.8" y="726.6" font-family="'Liberation Sans', sans-serif" font-size="11.5" text-anchor="middle" textLength="10.1" lengthAdjust="spacingAndGlyphs" fill="#141414" stroke="#141414" stroke-width="0.5">27</text>
<path d="M250.2,711.7 L243.0,698.0" fill="none" stroke="#141414" stroke-width="1.5" stroke-linejoin="round" stroke-linecap="round" />
<circle cx="254.2" cy="719.2" r="8.5" fill="#fff" stroke="#141414" stroke-width="1.9"/>
<text x="254.2" y="723.5" font-family="'Liberation Sans', sans-serif" font-size="12.0" text-anchor="middle" textLength="13.9" lengthAdjust="spacingAndGlyphs" fill="#141414" stroke="#141414" stroke-width="0.5">142</text>
<path d="M270.8,713.6 L263.0,703.0" fill="none" stroke="#141414" stroke-width="1.5" stroke-linejoin="round" stroke-linecap="round" />
<circle cx="275.0" cy="719.2" r="7" fill="#fff" stroke="#141414" stroke-width="1.9"/>
<text x="275.0" y="723.3" font-family="'Liberation Sans', sans-serif" font-size="11.5" text-anchor="middle" textLength="10.1" lengthAdjust="spacingAndGlyphs" fill="#141414" stroke="#141414" stroke-width="0.5">31</text>
<path d="M291.0,714.8 L264.0,695.0" fill="none" stroke="#141414" stroke-width="1.5" stroke-linejoin="round" stroke-linecap="round" />
<circle cx="297.0" cy="719.2" r="7.5" fill="#fff" stroke="#141414" stroke-width="1.9"/>
<text x="297.0" y="723.3" font-family="'Liberation Sans', sans-serif" font-size="11.5" text-anchor="middle" textLength="10.1" lengthAdjust="spacingAndGlyphs" fill="#141414" stroke="#141414" stroke-width="0.5">15</text>
<path d="M436.1,418.9 L450.0,443.0" fill="none" stroke="#141414" stroke-width="1.5" stroke-linejoin="round" stroke-linecap="round" />
<circle cx="432.2" cy="412.0" r="7.9" fill="#fff" stroke="#141414" stroke-width="1.7"/>
<text x="432.2" y="415.3" font-family="'Liberation Sans', sans-serif" font-size="9.2" text-anchor="middle" textLength="13.1" lengthAdjust="spacingAndGlyphs" fill="#141414" stroke="#141414" stroke-width="0.4">144</text>
<path d="M416.8,443.3 L424.5,469.5" fill="none" stroke="#141414" stroke-width="1.5" stroke-linejoin="round" stroke-linecap="round" />
<circle cx="414.6" cy="435.8" r="7.8" fill="#fff" stroke="#141414" stroke-width="1.7"/>
<text x="414.6" y="439.1" font-family="'Liberation Sans', sans-serif" font-size="9.2" text-anchor="middle" textLength="13.1" lengthAdjust="spacingAndGlyphs" fill="#141414" stroke="#141414" stroke-width="0.4">143</text>
<path d="M483.6,417.9 L528.0,461.0" fill="none" stroke="#141414" stroke-width="1.5" stroke-linejoin="round" stroke-linecap="round" />
<circle cx="478.8" cy="413.2" r="6.7" fill="#fff" stroke="#141414" stroke-width="1.9"/>
<text x="478.8" y="417.4" font-family="'Liberation Sans', sans-serif" font-size="11.8" text-anchor="middle" textLength="10.4" lengthAdjust="spacingAndGlyphs" fill="#141414" stroke="#141414" stroke-width="0.55">28</text>
<path d="M484.1,434.1 L528.0,468.0" fill="none" stroke="#141414" stroke-width="1.5" stroke-linejoin="round" stroke-linecap="round" />
<circle cx="478.8" cy="430.0" r="6.7" fill="#fff" stroke="#141414" stroke-width="1.9"/>
<text x="478.8" y="434.2" font-family="'Liberation Sans', sans-serif" font-size="11.8" text-anchor="middle" textLength="10.4" lengthAdjust="spacingAndGlyphs" fill="#141414" stroke="#141414" stroke-width="0.55">29</text>
<path d="M484.5,449.4 L528.0,477.0" fill="none" stroke="#141414" stroke-width="1.5" stroke-linejoin="round" stroke-linecap="round" />
<circle cx="478.8" cy="445.8" r="6.7" fill="#fff" stroke="#141414" stroke-width="1.9"/>
<text x="478.8" y="450.0" font-family="'Liberation Sans', sans-serif" font-size="11.8" text-anchor="middle" textLength="10.4" lengthAdjust="spacingAndGlyphs" fill="#141414" stroke="#141414" stroke-width="0.55">39</text>
<path d="M484.3,465.0 L519.0,489.0" fill="none" stroke="#141414" stroke-width="1.5" stroke-linejoin="round" stroke-linecap="round" />
<circle cx="478.8" cy="461.2" r="6.7" fill="#fff" stroke="#141414" stroke-width="1.9"/>
<text x="478.8" y="465.4" font-family="'Liberation Sans', sans-serif" font-size="11.8" text-anchor="middle" textLength="10.4" lengthAdjust="spacingAndGlyphs" fill="#141414" stroke="#141414" stroke-width="0.55">38</text>
<path d="M472.7,479.7 L453.0,489.0" fill="none" stroke="#141414" stroke-width="1.5" stroke-linejoin="round" stroke-linecap="round" />
<circle cx="478.8" cy="476.8" r="6.7" fill="#fff" stroke="#141414" stroke-width="1.9"/>
<text x="478.8" y="481.0" font-family="'Liberation Sans', sans-serif" font-size="11.8" text-anchor="middle" textLength="10.4" lengthAdjust="spacingAndGlyphs" fill="#141414" stroke="#141414" stroke-width="0.55">58</text>
<path d="M473.0,495.1 L452.0,507.0" fill="none" stroke="#141414" stroke-width="1.5" stroke-linejoin="round" stroke-linecap="round" />
<circle cx="478.8" cy="491.8" r="6.7" fill="#fff" stroke="#141414" stroke-width="1.9"/>
<text x="478.8" y="496.0" font-family="'Liberation Sans', sans-serif" font-size="11.8" text-anchor="middle" textLength="6.6" lengthAdjust="spacingAndGlyphs" fill="#141414" stroke="#141414" stroke-width="0.55">5</text>
<path d="M472.3,509.3 L452.0,515.0" fill="none" stroke="#141414" stroke-width="1.5" stroke-linejoin="round" stroke-linecap="round" />
<circle cx="478.8" cy="507.5" r="6.7" fill="#fff" stroke="#141414" stroke-width="1.9"/>
<text x="478.8" y="511.7" font-family="'Liberation Sans', sans-serif" font-size="11.8" text-anchor="middle" textLength="6.6" lengthAdjust="spacingAndGlyphs" fill="#141414" stroke="#141414" stroke-width="0.55">6</text>
<path d="M472.4,524.9 L458.0,529.0" fill="none" stroke="#141414" stroke-width="1.5" stroke-linejoin="round" stroke-linecap="round" />
<circle cx="478.8" cy="523.0" r="6.7" fill="#fff" stroke="#141414" stroke-width="1.9"/>
<text x="478.8" y="527.2" font-family="'Liberation Sans', sans-serif" font-size="11.8" text-anchor="middle" textLength="10.4" lengthAdjust="spacingAndGlyphs" fill="#141414" stroke="#141414" stroke-width="0.55">55</text>
<path d="M521.4,423.4 L528.7,457.5" fill="none" stroke="#141414" stroke-width="1.5" stroke-linejoin="round" stroke-linecap="round" />
<circle cx="520.0" cy="416.8" r="6.7" fill="#fff" stroke="#141414" stroke-width="1.9"/>
<text x="520.0" y="421.0" font-family="'Liberation Sans', sans-serif" font-size="11.8" text-anchor="middle" textLength="10.4" lengthAdjust="spacingAndGlyphs" fill="#141414" stroke="#141414" stroke-width="0.55">35</text>
<path d="M541.2,423.4 L551.2,480.0" fill="none" stroke="#141414" stroke-width="1.5" stroke-linejoin="round" stroke-linecap="round" />
<circle cx="540.0" cy="416.8" r="6.7" fill="#fff" stroke="#141414" stroke-width="1.9"/>
<text x="540.0" y="421.0" font-family="'Liberation Sans', sans-serif" font-size="11.8" text-anchor="middle" textLength="10.4" lengthAdjust="spacingAndGlyphs" fill="#141414" stroke="#141414" stroke-width="0.55">40</text>
<path d="M557.0,423.4 L563.7,460.0" fill="none" stroke="#141414" stroke-width="1.5" stroke-linejoin="round" stroke-linecap="round" />
<circle cx="555.8" cy="416.8" r="6.7" fill="#fff" stroke="#141414" stroke-width="1.9"/>
<text x="555.8" y="421.0" font-family="'Liberation Sans', sans-serif" font-size="11.8" text-anchor="middle" textLength="10.4" lengthAdjust="spacingAndGlyphs" fill="#141414" stroke="#141414" stroke-width="0.55">36</text>
<path d="M585.6,436.7 L565.0,466.0" fill="none" stroke="#141414" stroke-width="1.5" stroke-linejoin="round" stroke-linecap="round" />
<circle cx="589.5" cy="431.2" r="6.7" fill="#fff" stroke="#141414" stroke-width="1.9"/>
<text x="589.5" y="435.4" font-family="'Liberation Sans', sans-serif" font-size="11.8" text-anchor="middle" textLength="10.4" lengthAdjust="spacingAndGlyphs" fill="#141414" stroke="#141414" stroke-width="0.55">18</text>
<path d="M599.6,443.0 L570.0,474.0" fill="none" stroke="#141414" stroke-width="1.5" stroke-linejoin="round" stroke-linecap="round" />
<circle cx="604.2" cy="438.2" r="6.7" fill="#fff" stroke="#141414" stroke-width="1.9"/>
<text x="604.2" y="442.4" font-family="'Liberation Sans', sans-serif" font-size="11.8" text-anchor="middle" textLength="10.4" lengthAdjust="spacingAndGlyphs" fill="#141414" stroke="#141414" stroke-width="0.55">37</text>
<path d="M599.4,460.5 L570.0,489.0" fill="none" stroke="#141414" stroke-width="1.5" stroke-linejoin="round" stroke-linecap="round" />
<circle cx="604.2" cy="455.8" r="6.7" fill="#fff" stroke="#141414" stroke-width="1.9"/>
<text x="604.2" y="460.0" font-family="'Liberation Sans', sans-serif" font-size="11.8" text-anchor="middle" textLength="10.4" lengthAdjust="spacingAndGlyphs" fill="#141414" stroke="#141414" stroke-width="0.55">34</text>
<path d="M598.7,476.8 L570.0,497.0" fill="none" stroke="#141414" stroke-width="1.5" stroke-linejoin="round" stroke-linecap="round" />
<circle cx="604.2" cy="473.0" r="6.7" fill="#fff" stroke="#141414" stroke-width="1.9"/>
<text x="604.2" y="477.2" font-family="'Liberation Sans', sans-serif" font-size="11.8" text-anchor="middle" textLength="10.4" lengthAdjust="spacingAndGlyphs" fill="#141414" stroke="#141414" stroke-width="0.55">60</text>
<path d="M525.7,506.9 L555.0,504.0" fill="none" stroke="#141414" stroke-width="1.5" stroke-linejoin="round" stroke-linecap="round" />
<circle cx="519.0" cy="507.5" r="6.7" fill="#fff" stroke="#141414" stroke-width="1.9"/>
<text x="519.0" y="511.7" font-family="'Liberation Sans', sans-serif" font-size="11.8" text-anchor="middle" textLength="13.2" lengthAdjust="spacingAndGlyphs" fill="#141414" stroke="#141414" stroke-width="0.55">160</text>
<path d="M525.6,521.2 L554.5,516.7" fill="none" stroke="#141414" stroke-width="1.5" stroke-linejoin="round" stroke-linecap="round" />
<circle cx="519.0" cy="522.2" r="6.7" fill="#fff" stroke="#141414" stroke-width="1.9"/>
<text x="519.0" y="526.4" font-family="'Liberation Sans', sans-serif" font-size="11.8" text-anchor="middle" textLength="13.2" lengthAdjust="spacingAndGlyphs" fill="#141414" stroke="#141414" stroke-width="0.55">154</text>
<path d="M429.6,529.0 L439.0,529.0" fill="none" stroke="#141414" stroke-width="1.5" stroke-linejoin="round" stroke-linecap="round" />
<circle cx="422.6" cy="529.0" r="7" fill="#fff" stroke="#141414" stroke-width="1.6"/>
<text x="422.6" y="532.4" font-family="'Liberation Sans', sans-serif" font-size="9.6" text-anchor="middle" textLength="11.1" lengthAdjust="spacingAndGlyphs" fill="#141414" stroke="#141414" stroke-width="0.45">136</text>
<path d="M429.9,546.7 L440.0,548.0 L458.0,548.0" fill="none" stroke="#141414" stroke-width="1.5" stroke-linejoin="round" stroke-linecap="round" />
<circle cx="423.0" cy="545.8" r="7" fill="#fff" stroke="#141414" stroke-width="1.6"/>
<text x="423.0" y="549.2" font-family="'Liberation Sans', sans-serif" font-size="9.6" text-anchor="middle" textLength="8.4" lengthAdjust="spacingAndGlyphs" fill="#141414" stroke="#141414" stroke-width="0.45">54</text>
<path d="M449.9,592.9 L447.0,572.0" fill="none" stroke="#141414" stroke-width="1.5" stroke-linejoin="round" stroke-linecap="round" />
<circle cx="450.9" cy="599.8" r="7" fill="#fff" stroke="#141414" stroke-width="1.6"/>
<text x="450.9" y="603.8" font-family="'Liberation Sans', sans-serif" font-size="11.2" text-anchor="middle" textLength="13.0" lengthAdjust="spacingAndGlyphs" fill="#141414" stroke="#141414" stroke-width="0.38">159</text>
<path d="M474.6,594.5 L505.0,559.0" fill="none" stroke="#141414" stroke-width="1.5" stroke-linejoin="round" stroke-linecap="round" />
<circle cx="470.0" cy="599.8" r="7" fill="#fff" stroke="#141414" stroke-width="1.6"/>
<text x="470.0" y="603.8" font-family="'Liberation Sans', sans-serif" font-size="11.2" text-anchor="middle" textLength="13.0" lengthAdjust="spacingAndGlyphs" fill="#141414" stroke="#141414" stroke-width="0.38">158</text>
<path d="M490.6,593.8 L510.0,562.0" fill="none" stroke="#141414" stroke-width="1.5" stroke-linejoin="round" stroke-linecap="round" />
<circle cx="486.9" cy="599.8" r="7" fill="#fff" stroke="#141414" stroke-width="1.6"/>
<text x="486.9" y="603.8" font-family="'Liberation Sans', sans-serif" font-size="11.2" text-anchor="middle" textLength="9.9" lengthAdjust="spacingAndGlyphs" fill="#141414" stroke="#141414" stroke-width="0.38">29</text>
<path d="M505.3,593.2 L517.0,562.0" fill="none" stroke="#141414" stroke-width="1.5" stroke-linejoin="round" stroke-linecap="round" />
<circle cx="502.9" cy="599.8" r="7" fill="#fff" stroke="#141414" stroke-width="1.6"/>
<text x="502.9" y="603.8" font-family="'Liberation Sans', sans-serif" font-size="11.2" text-anchor="middle" textLength="9.9" lengthAdjust="spacingAndGlyphs" fill="#141414" stroke="#141414" stroke-width="0.38">28</text>
<path d="M520.6,592.8 L523.0,562.0" fill="none" stroke="#141414" stroke-width="1.5" stroke-linejoin="round" stroke-linecap="round" />
<circle cx="520.0" cy="599.8" r="7" fill="#fff" stroke="#141414" stroke-width="1.6"/>
<text x="520.0" y="603.8" font-family="'Liberation Sans', sans-serif" font-size="11.2" text-anchor="middle" textLength="9.9" lengthAdjust="spacingAndGlyphs" fill="#141414" stroke="#141414" stroke-width="0.38">27</text>
<path d="M556.9,585.0 L553.0,532.0" fill="none" stroke="#141414" stroke-width="1.5" stroke-linejoin="round" stroke-linecap="round" />
<circle cx="557.5" cy="592.5" r="7.5" fill="#fff" stroke="#141414" stroke-width="1.6"/>
<text x="557.5" y="596.5" font-family="'Liberation Sans', sans-serif" font-size="11.2" text-anchor="middle" textLength="9.9" lengthAdjust="spacingAndGlyphs" fill="#141414" stroke="#141414" stroke-width="0.38">57</text>
<path d="M574.6,583.9 L568.0,573.0" fill="none" stroke="#141414" stroke-width="1.5" stroke-linejoin="round" stroke-linecap="round" />
<circle cx="579.5" cy="592.0" r="9.5" fill="#fff" stroke="#141414" stroke-width="1.6"/>
<text x="579.5" y="596.8" font-family="'Liberation Sans', sans-serif" font-size="13.5" text-anchor="middle" textLength="15.6" lengthAdjust="spacingAndGlyphs" fill="#141414" stroke="#141414" stroke-width="0.38">189</text>
<path d="M607.0,573.6 L597.0,551.0" fill="none" stroke="#141414" stroke-width="1.5" stroke-linejoin="round" stroke-linecap="round" />
<circle cx="610.0" cy="580.5" r="7.5" fill="#fff" stroke="#141414" stroke-width="1.6"/>
<text x="610.0" y="584.5" font-family="'Liberation Sans', sans-serif" font-size="11.2" text-anchor="middle" textLength="13.0" lengthAdjust="spacingAndGlyphs" fill="#141414" stroke="#141414" stroke-width="0.38">157</text>
<path d="M635.3,573.3 L625.0,540.0" fill="none" stroke="#141414" stroke-width="1.5" stroke-linejoin="round" stroke-linecap="round" />
<circle cx="637.5" cy="580.5" r="7.5" fill="#fff" stroke="#141414" stroke-width="1.6"/>
<text x="637.5" y="584.5" font-family="'Liberation Sans', sans-serif" font-size="11.2" text-anchor="middle" textLength="13.0" lengthAdjust="spacingAndGlyphs" fill="#141414" stroke="#141414" stroke-width="0.38">175</text>
<path d="M662.9,575.1 L646.0,535.0" fill="none" stroke="#141414" stroke-width="1.5" stroke-linejoin="round" stroke-linecap="round" />
<circle cx="665.8" cy="582.0" r="7.5" fill="#fff" stroke="#141414" stroke-width="1.6"/>
<text x="665.8" y="586.0" font-family="'Liberation Sans', sans-serif" font-size="11.2" text-anchor="middle" textLength="13.0" lengthAdjust="spacingAndGlyphs" fill="#141414" stroke="#141414" stroke-width="0.38">155</text>
<path d="M694.3,573.0 L679.0,534.0" fill="none" stroke="#141414" stroke-width="1.5" stroke-linejoin="round" stroke-linecap="round" />
<circle cx="697.0" cy="580.0" r="7.5" fill="#fff" stroke="#141414" stroke-width="1.6"/>
<text x="697.0" y="584.0" font-family="'Liberation Sans', sans-serif" font-size="11.2" text-anchor="middle" textLength="9.9" lengthAdjust="spacingAndGlyphs" fill="#141414" stroke="#141414" stroke-width="0.38">43</text>
<path d="M715.3,573.1 L693.7,522.5" fill="none" stroke="#141414" stroke-width="1.5" stroke-linejoin="round" stroke-linecap="round" />
<circle cx="718.2" cy="580.0" r="7.5" fill="#fff" stroke="#141414" stroke-width="1.6"/>
<text x="718.2" y="584.0" font-family="'Liberation Sans', sans-serif" font-size="11.2" text-anchor="middle" textLength="9.9" lengthAdjust="spacingAndGlyphs" fill="#141414" stroke="#141414" stroke-width="0.38">19</text>
<path d="M731.2,573.6 L700.0,521.2" fill="none" stroke="#141414" stroke-width="1.5" stroke-linejoin="round" stroke-linecap="round" />
<circle cx="735.0" cy="580.0" r="7.5" fill="#fff" stroke="#141414" stroke-width="1.6"/>
<text x="735.0" y="584.0" font-family="'Liberation Sans', sans-serif" font-size="11.2" text-anchor="middle" textLength="9.9" lengthAdjust="spacingAndGlyphs" fill="#141414" stroke="#141414" stroke-width="0.38">17</text>
<path d="M625.5,510.5 L617.0,528.0" fill="none" stroke="#141414" stroke-width="1.5" stroke-linejoin="round" stroke-linecap="round" />
<circle cx="628.8" cy="503.8" r="7.5" fill="#fff" stroke="#141414" stroke-width="1.6"/>
<text x="628.8" y="507.8" font-family="'Liberation Sans', sans-serif" font-size="11.2" text-anchor="middle" textLength="9.9" lengthAdjust="spacingAndGlyphs" fill="#141414" stroke="#141414" stroke-width="0.38">45</text>
<path d="M641.1,509.9 L631.0,524.0" fill="none" stroke="#141414" stroke-width="1.5" stroke-linejoin="round" stroke-linecap="round" />
<circle cx="645.5" cy="503.8" r="7.5" fill="#fff" stroke="#141414" stroke-width="1.6"/>
<text x="645.5" y="507.8" font-family="'Liberation Sans', sans-serif" font-size="11.2" text-anchor="middle" textLength="13.0" lengthAdjust="spacingAndGlyphs" fill="#141414" stroke="#141414" stroke-width="0.38">173</text>
<path d="M657.1,509.6 L647.0,522.0" fill="none" stroke="#141414" stroke-width="1.5" stroke-linejoin="round" stroke-linecap="round" />
<circle cx="661.8" cy="503.8" r="7.5" fill="#fff" stroke="#141414" stroke-width="1.6"/>
<text x="661.8" y="507.8" font-family="'Liberation Sans', sans-serif" font-size="11.2" text-anchor="middle" textLength="13.0" lengthAdjust="spacingAndGlyphs" fill="#141414" stroke="#141414" stroke-width="0.38">174</text>
<path d="M672.0,508.3 L659.0,518.0" fill="none" stroke="#141414" stroke-width="1.5" stroke-linejoin="round" stroke-linecap="round" />
<circle cx="678.0" cy="503.8" r="7.5" fill="#fff" stroke="#141414" stroke-width="1.6"/>
<text x="678.0" y="507.8" font-family="'Liberation Sans', sans-serif" font-size="11.2" text-anchor="middle" textLength="13.0" lengthAdjust="spacingAndGlyphs" fill="#141414" stroke="#141414" stroke-width="0.38">176</text>
<path d="M680.8,430.0 L698.0,476.0" fill="none" stroke="#141414" stroke-width="1.5" stroke-linejoin="round" stroke-linecap="round" />
<circle cx="678.2" cy="423.0" r="7.5" fill="#fff" stroke="#141414" stroke-width="1.6"/>
<text x="678.2" y="427.0" font-family="'Liberation Sans', sans-serif" font-size="11.2" text-anchor="middle" textLength="13.0" lengthAdjust="spacingAndGlyphs" fill="#141414" stroke="#141414" stroke-width="0.38">145</text>
<path d="M698.7,430.3 L702.0,444.0 L712.0,456.0" fill="none" stroke="#141414" stroke-width="1.5" stroke-linejoin="round" stroke-linecap="round" />
<circle cx="697.0" cy="423.0" r="7.5" fill="#fff" stroke="#141414" stroke-width="1.6"/>
<text x="697.0" y="427.0" font-family="'Liberation Sans', sans-serif" font-size="11.2" text-anchor="middle" textLength="13.0" lengthAdjust="spacingAndGlyphs" fill="#141414" stroke="#141414" stroke-width="0.38">172</text>
<path d="M715.1,430.5 L718.0,456.0" fill="none" stroke="#141414" stroke-width="1.5" stroke-linejoin="round" stroke-linecap="round" />
<circle cx="714.2" cy="423.0" r="7.5" fill="#fff" stroke="#141414" stroke-width="1.6"/>
<text x="714.2" y="427.0" font-family="'Liberation Sans', sans-serif" font-size="11.2" text-anchor="middle" textLength="13.0" lengthAdjust="spacingAndGlyphs" fill="#141414" stroke="#141414" stroke-width="0.38">156</text>
<path d="M734.3,430.5 L732.0,455.0" fill="none" stroke="#141414" stroke-width="1.5" stroke-linejoin="round" stroke-linecap="round" />
<circle cx="735.0" cy="423.0" r="7.5" fill="#fff" stroke="#141414" stroke-width="1.6"/>
<text x="735.0" y="427.0" font-family="'Liberation Sans', sans-serif" font-size="11.2" text-anchor="middle" textLength="13.0" lengthAdjust="spacingAndGlyphs" fill="#141414" stroke="#141414" stroke-width="0.38">170</text>
<path d="M752.0,430.3 L746.0,454.0" fill="none" stroke="#141414" stroke-width="1.5" stroke-linejoin="round" stroke-linecap="round" />
<circle cx="753.8" cy="423.0" r="7.5" fill="#fff" stroke="#141414" stroke-width="1.6"/>
<text x="753.8" y="427.0" font-family="'Liberation Sans', sans-serif" font-size="11.2" text-anchor="middle" textLength="13.0" lengthAdjust="spacingAndGlyphs" fill="#141414" stroke="#141414" stroke-width="0.38">171</text>
<path d="M772.8,429.7 L765.0,455.0" fill="none" stroke="#141414" stroke-width="1.5" stroke-linejoin="round" stroke-linecap="round" />
<circle cx="775.0" cy="422.5" r="7.5" fill="#fff" stroke="#141414" stroke-width="1.6"/>
<text x="775.0" y="426.5" font-family="'Liberation Sans', sans-serif" font-size="11.2" text-anchor="middle" textLength="9.9" lengthAdjust="spacingAndGlyphs" fill="#141414" stroke="#141414" stroke-width="0.38">48</text>
<path d="M726.2,498.9 L723.0,486.0" fill="none" stroke="#141414" stroke-width="1.5" stroke-linejoin="round" stroke-linecap="round" />
<circle cx="728.0" cy="506.2" r="7.5" fill="#fff" stroke="#141414" stroke-width="1.6"/>
<text x="728.0" y="510.2" font-family="'Liberation Sans', sans-serif" font-size="11.2" text-anchor="middle" textLength="9.9" lengthAdjust="spacingAndGlyphs" fill="#141414" stroke="#141414" stroke-width="0.38">56</text>
<path d="M760.5,495.7 L760.5,483.0" fill="none" stroke="#141414" stroke-width="1.5" stroke-linejoin="round" stroke-linecap="round" />
<circle cx="760.5" cy="503.2" r="7.5" fill="#fff" stroke="#141414" stroke-width="1.6"/>
<text x="760.5" y="507.2" font-family="'Liberation Sans', sans-serif" font-size="11.2" text-anchor="middle" textLength="9.9" lengthAdjust="spacingAndGlyphs" fill="#141414" stroke="#141414" stroke-width="0.38">44</text>
<path d="M968.0,403.1 L1031.2,397.5" fill="none" stroke="#141414" stroke-width="1.5" stroke-linejoin="round" stroke-linecap="round" />
<circle cx="959.5" cy="403.8" r="8.5" fill="#fff" stroke="#141414" stroke-width="1.6"/>
<text x="959.5" y="408.0" font-family="'Liberation Sans', sans-serif" font-size="11.7" text-anchor="middle" textLength="10.3" lengthAdjust="spacingAndGlyphs" fill="#141414" stroke="#141414" stroke-width="0.5">26</text>
<path d="M967.6,420.4 L992.5,412.5" fill="none" stroke="#141414" stroke-width="1.5" stroke-linejoin="round" stroke-linecap="round" />
<circle cx="959.5" cy="423.0" r="8.5" fill="#fff" stroke="#141414" stroke-width="1.6"/>
<text x="959.5" y="427.2" font-family="'Liberation Sans', sans-serif" font-size="11.7" text-anchor="middle" textLength="10.3" lengthAdjust="spacingAndGlyphs" fill="#141414" stroke="#141414" stroke-width="0.5">24</text>
<path d="M963.9,437.4 L1005.5,410.7" fill="none" stroke="#141414" stroke-width="1.5" stroke-linejoin="round" stroke-linecap="round" />
<circle cx="958.0" cy="441.2" r="7" fill="#fff" stroke="#141414" stroke-width="1.6"/>
<text x="958.0" y="445.1" font-family="'Liberation Sans', sans-serif" font-size="11.0" text-anchor="middle" textLength="9.7" lengthAdjust="spacingAndGlyphs" fill="#141414" stroke="#141414" stroke-width="0.5">18</text>
<path d="M963.3,451.6 L1013.7,408.2" fill="none" stroke="#141414" stroke-width="1.5" stroke-linejoin="round" stroke-linecap="round" />
<circle cx="958.0" cy="456.2" r="7" fill="#fff" stroke="#141414" stroke-width="1.6"/>
<text x="958.0" y="460.1" font-family="'Liberation Sans', sans-serif" font-size="11.0" text-anchor="middle" textLength="9.7" lengthAdjust="spacingAndGlyphs" fill="#141414" stroke="#141414" stroke-width="0.5">19</text>
<path d="M963.9,467.0 L1008.7,415.0" fill="none" stroke="#141414" stroke-width="1.5" stroke-linejoin="round" stroke-linecap="round" />
<circle cx="958.0" cy="473.8" r="9" fill="#fff" stroke="#141414" stroke-width="1.6"/>
<text x="958.0" y="478.2" font-family="'Liberation Sans', sans-serif" font-size="12.4" text-anchor="middle" textLength="10.9" lengthAdjust="spacingAndGlyphs" fill="#141414" stroke="#141414" stroke-width="0.5">23</text>
<path d="M981.8,466.9 L1006.2,428.7" fill="none" stroke="#141414" stroke-width="1.5" stroke-linejoin="round" stroke-linecap="round" />
<circle cx="977.0" cy="474.5" r="9" fill="#fff" stroke="#141414" stroke-width="1.6"/>
<text x="977.0" y="478.9" font-family="'Liberation Sans', sans-serif" font-size="12.4" text-anchor="middle" textLength="10.9" lengthAdjust="spacingAndGlyphs" fill="#141414" stroke="#141414" stroke-width="0.5">22</text>
<path d="M1000.5,466.2 L1022.5,413.7" fill="none" stroke="#141414" stroke-width="1.5" stroke-linejoin="round" stroke-linecap="round" />
<circle cx="997.0" cy="474.5" r="9" fill="#fff" stroke="#141414" stroke-width="1.6"/>
<text x="997.0" y="478.9" font-family="'Liberation Sans', sans-serif" font-size="12.4" text-anchor="middle" textLength="10.9" lengthAdjust="spacingAndGlyphs" fill="#141414" stroke="#141414" stroke-width="0.5">25</text>
<path d="M1019.3,465.2 L1030.0,428.7" fill="none" stroke="#141414" stroke-width="1.5" stroke-linejoin="round" stroke-linecap="round" />
<circle cx="1016.8" cy="473.8" r="9" fill="#fff" stroke="#141414" stroke-width="1.6"/>
<text x="1016.8" y="478.2" font-family="'Liberation Sans', sans-serif" font-size="12.4" text-anchor="middle" textLength="10.9" lengthAdjust="spacingAndGlyphs" fill="#141414" stroke="#141414" stroke-width="0.5">21</text>
<path d="M1040.0,466.2 L1062.5,423.7" fill="none" stroke="#141414" stroke-width="1.5" stroke-linejoin="round" stroke-linecap="round" />
<circle cx="1035.8" cy="474.2" r="9" fill="#fff" stroke="#141414" stroke-width="1.6"/>
<text x="1035.8" y="478.6" font-family="'Liberation Sans', sans-serif" font-size="12.4" text-anchor="middle" textLength="10.9" lengthAdjust="spacingAndGlyphs" fill="#141414" stroke="#141414" stroke-width="0.5">20</text>
<path d="M1055.6,468.5 L1076.2,418.0" fill="none" stroke="#141414" stroke-width="1.5" stroke-linejoin="round" stroke-linecap="round" />
<circle cx="1053.0" cy="475.0" r="7" fill="#fff" stroke="#141414" stroke-width="1.6"/>
<text x="1053.0" y="478.9" font-family="'Liberation Sans', sans-serif" font-size="11.0" text-anchor="middle" textLength="9.7" lengthAdjust="spacingAndGlyphs" fill="#141414" stroke="#141414" stroke-width="0.5">19</text>
<path d="M1069.7,468.2 L1082.5,417.0" fill="none" stroke="#141414" stroke-width="1.5" stroke-linejoin="round" stroke-linecap="round" />
<circle cx="1068.0" cy="475.0" r="7" fill="#fff" stroke="#141414" stroke-width="1.6"/>
<text x="1068.0" y="478.9" font-family="'Liberation Sans', sans-serif" font-size="11.0" text-anchor="middle" textLength="9.7" lengthAdjust="spacingAndGlyphs" fill="#141414" stroke="#141414" stroke-width="0.5">18</text>
<path d="M1086.2,466.0 L1090.5,415.0" fill="none" stroke="#141414" stroke-width="1.5" stroke-linejoin="round" stroke-linecap="round" />
<circle cx="1085.5" cy="474.5" r="8.5" fill="#fff" stroke="#141414" stroke-width="1.6"/>
<text x="1085.5" y="478.7" font-family="'Liberation Sans', sans-serif" font-size="11.7" text-anchor="middle" textLength="10.3" lengthAdjust="spacingAndGlyphs" fill="#141414" stroke="#141414" stroke-width="0.5">17</text>
<path d="M884.5,581.4 L895.5,573.7" fill="none" stroke="#141414" stroke-width="1.5" stroke-linejoin="round" stroke-linecap="round" />
<circle cx="877.5" cy="586.2" r="8.5" fill="#fff" stroke="#141414" stroke-width="1.6"/>
<text x="877.5" y="590.5" font-family="'Liberation Sans', sans-serif" font-size="12.1" text-anchor="middle" textLength="14.0" lengthAdjust="spacingAndGlyphs" fill="#141414" stroke="#141414" stroke-width="0.5">138</text>
<path d="M963.9,559.6 L954.2,570.0" fill="none" stroke="#141414" stroke-width="1.5" stroke-linejoin="round" stroke-linecap="round" />
<path d="M977.0,558.7 L986.2,566.2" fill="none" stroke="#141414" stroke-width="1.5" stroke-linejoin="round" stroke-linecap="round" />
<circle cx="970.0" cy="553.0" r="9" fill="#fff" stroke="#141414" stroke-width="1.6"/>
<text x="970.0" y="557.6" font-family="'Liberation Sans', sans-serif" font-size="12.8" text-anchor="middle" textLength="14.8" lengthAdjust="spacingAndGlyphs" fill="#141414" stroke="#141414" stroke-width="0.5">177</text>
<path d="M962.0,604.7 L955.0,592.5" fill="none" stroke="#141414" stroke-width="1.5" stroke-linejoin="round" stroke-linecap="round" />
<path d="M971.0,605.8 L988.7,587.5" fill="none" stroke="#141414" stroke-width="1.5" stroke-linejoin="round" stroke-linecap="round" />
<circle cx="965.8" cy="611.2" r="7.5" fill="#fff" stroke="#141414" stroke-width="1.6"/>
<text x="965.8" y="615.0" font-family="'Liberation Sans', sans-serif" font-size="10.6" text-anchor="middle" textLength="9.4" lengthAdjust="spacingAndGlyphs" fill="#141414" stroke="#141414" stroke-width="0.5">24</text>
<path d="M1053.3,593.4 L1040.0,563.7" fill="none" stroke="#141414" stroke-width="1.5" stroke-linejoin="round" stroke-linecap="round" />
<circle cx="1056.8" cy="601.2" r="8.5" fill="#fff" stroke="#141414" stroke-width="1.6"/>
<text x="1056.8" y="605.5" font-family="'Liberation Sans', sans-serif" font-size="12.1" text-anchor="middle" textLength="14.0" lengthAdjust="spacingAndGlyphs" fill="#141414" stroke="#141414" stroke-width="0.5">139</text>
<path d="M1073.6,593.7 L1061.2,570.0" fill="none" stroke="#141414" stroke-width="1.5" stroke-linejoin="round" stroke-linecap="round" />
<circle cx="1077.5" cy="601.2" r="8.5" fill="#fff" stroke="#141414" stroke-width="1.6"/>
<text x="1077.5" y="605.5" font-family="'Liberation Sans', sans-serif" font-size="12.1" text-anchor="middle" textLength="14.0" lengthAdjust="spacingAndGlyphs" fill="#141414" stroke="#141414" stroke-width="0.5">138</text>
<path d="M677.1,700.4 L680.0,681.2" fill="none" stroke="#141414" stroke-width="1.5" stroke-linejoin="round" stroke-linecap="round" />
<circle cx="675.8" cy="708.8" r="8.5" fill="#fff" stroke="#141414" stroke-width="1.6"/>
<text x="675.8" y="713.1" font-family="'Liberation Sans', sans-serif" font-size="12.1" text-anchor="middle" textLength="14.0" lengthAdjust="spacingAndGlyphs" fill="#141414" stroke="#141414" stroke-width="0.5">140</text>
<path d="M741.9,704.1 L763.0,697.0" fill="none" stroke="#141414" stroke-width="1.5" stroke-linejoin="round" stroke-linecap="round" />
<circle cx="733.8" cy="706.8" r="8.5" fill="#fff" stroke="#141414" stroke-width="1.6"/>
<text x="733.8" y="711.1" font-family="'Liberation Serif', sans-serif" font-size="12.1" text-anchor="middle" textLength="14.0" lengthAdjust="spacingAndGlyphs" fill="#141414" stroke="#141414" stroke-width="0.5">141</text>
</g>
</svg>
</body></html>
